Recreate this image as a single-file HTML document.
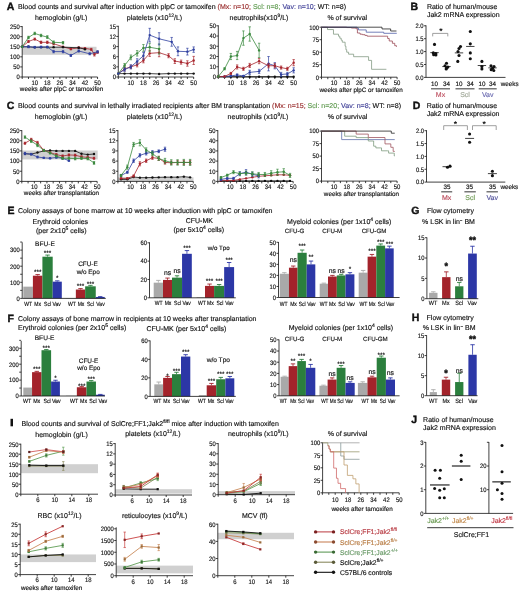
<!DOCTYPE html>
<html><head><meta charset="utf-8"><style>
html,body{margin:0;padding:0;background:#fff;width:520px;height:593px;overflow:hidden}
svg{display:block;filter:blur(0.3px);font-family:"Liberation Sans",sans-serif}
text{stroke-width:0.15px;text-rendering:geometricPrecision}
</style></head><body>
<svg width="520" height="593" viewBox="0 0 520 593">
<rect width="520" height="593" fill="#fff"/>
<text x="6.8" y="10.3" font-size="10.5" fill="#111" stroke="#111" font-weight="bold" style="stroke-width:0.4px">A</text>
<text x="18" y="9.3" font-size="7" fill="#111" stroke="#111" textLength="328" lengthAdjust="spacingAndGlyphs">Blood counts and survival after induction with plpC or tamoxifen <tspan fill="#9a2e2e" stroke="#9a2e2e">(Mx: n=10;</tspan> <tspan fill="#5f9a4f" stroke="#5f9a4f">Scl: n=8;</tspan> <tspan fill="#3e3e96" stroke="#3e3e96">Vav: n=10;</tspan> WT: n=8)</text>
<text x="61.2" y="20.3" font-size="7" fill="#111" stroke="#111" text-anchor="middle">hemoglobin (g/L)</text>
<rect x="22.20" y="46.76" width="74.30" height="8.06" fill="#d0d0d0"/>
<line x1="22.20" y1="26.10" x2="22.20" y2="77.00" stroke="#111" stroke-width="0.8"/>
<line x1="20.20" y1="77.00" x2="22.20" y2="77.00" stroke="#111" stroke-width="0.8"/>
<text x="0" y="0" font-size="6.5" fill="#111" stroke="#111" text-anchor="end" transform="translate(19.80,79.30) scale(0.9,1)">0</text>
<line x1="20.20" y1="66.92" x2="22.20" y2="66.92" stroke="#111" stroke-width="0.8"/>
<text x="0" y="0" font-size="6.5" fill="#111" stroke="#111" text-anchor="end" transform="translate(19.80,69.22) scale(0.9,1)">50</text>
<line x1="20.20" y1="56.84" x2="22.20" y2="56.84" stroke="#111" stroke-width="0.8"/>
<text x="0" y="0" font-size="6.5" fill="#111" stroke="#111" text-anchor="end" transform="translate(19.80,59.14) scale(0.9,1)">100</text>
<line x1="20.20" y1="46.76" x2="22.20" y2="46.76" stroke="#111" stroke-width="0.8"/>
<text x="0" y="0" font-size="6.5" fill="#111" stroke="#111" text-anchor="end" transform="translate(19.80,49.06) scale(0.9,1)">150</text>
<line x1="20.20" y1="36.68" x2="22.20" y2="36.68" stroke="#111" stroke-width="0.8"/>
<text x="0" y="0" font-size="6.5" fill="#111" stroke="#111" text-anchor="end" transform="translate(19.80,38.98) scale(0.9,1)">200</text>
<line x1="20.20" y1="26.60" x2="22.20" y2="26.60" stroke="#111" stroke-width="0.8"/>
<text x="0" y="0" font-size="6.5" fill="#111" stroke="#111" text-anchor="end" transform="translate(19.80,28.90) scale(0.9,1)">250</text>
<line x1="22.20" y1="77.00" x2="97.56" y2="77.00" stroke="#111" stroke-width="0.8"/>
<line x1="22.20" y1="77.00" x2="22.20" y2="79.00" stroke="#111" stroke-width="0.8"/>
<line x1="28.48" y1="77.00" x2="28.48" y2="79.00" stroke="#111" stroke-width="0.8"/>
<line x1="34.76" y1="77.00" x2="34.76" y2="79.00" stroke="#111" stroke-width="0.8"/>
<line x1="41.04" y1="77.00" x2="41.04" y2="79.00" stroke="#111" stroke-width="0.8"/>
<line x1="47.32" y1="77.00" x2="47.32" y2="79.00" stroke="#111" stroke-width="0.8"/>
<line x1="53.60" y1="77.00" x2="53.60" y2="79.00" stroke="#111" stroke-width="0.8"/>
<line x1="59.88" y1="77.00" x2="59.88" y2="79.00" stroke="#111" stroke-width="0.8"/>
<line x1="66.16" y1="77.00" x2="66.16" y2="79.00" stroke="#111" stroke-width="0.8"/>
<line x1="72.44" y1="77.00" x2="72.44" y2="79.00" stroke="#111" stroke-width="0.8"/>
<line x1="78.72" y1="77.00" x2="78.72" y2="79.00" stroke="#111" stroke-width="0.8"/>
<line x1="85.00" y1="77.00" x2="85.00" y2="79.00" stroke="#111" stroke-width="0.8"/>
<line x1="91.28" y1="77.00" x2="91.28" y2="79.00" stroke="#111" stroke-width="0.8"/>
<line x1="97.56" y1="77.00" x2="97.56" y2="79.00" stroke="#111" stroke-width="0.8"/>
<text x="0" y="0" font-size="6.6" fill="#111" stroke="#111" text-anchor="middle" transform="translate(34.76,85.00) scale(0.9,1)">10</text>
<text x="0" y="0" font-size="6.6" fill="#111" stroke="#111" text-anchor="middle" transform="translate(47.32,85.00) scale(0.9,1)">18</text>
<text x="0" y="0" font-size="6.6" fill="#111" stroke="#111" text-anchor="middle" transform="translate(59.88,85.00) scale(0.9,1)">26</text>
<text x="0" y="0" font-size="6.6" fill="#111" stroke="#111" text-anchor="middle" transform="translate(72.44,85.00) scale(0.9,1)">34</text>
<text x="0" y="0" font-size="6.6" fill="#111" stroke="#111" text-anchor="middle" transform="translate(85.00,85.00) scale(0.9,1)">42</text>
<text x="0" y="0" font-size="6.6" fill="#111" stroke="#111" text-anchor="middle" transform="translate(97.56,85.00) scale(0.9,1)">50</text>
<text x="61.5" y="91.4" font-size="6.3" fill="#111" stroke="#111" text-anchor="middle">weeks after plpC or tamoxifen</text>
<path d="M22.20,46.76 L28.48,41.52 L34.76,39.10 L41.04,42.32 L47.32,42.32 L53.60,43.74 L63.02,46.76 L70.87,48.98 L78.72,47.77 L85.00,48.37 L91.28,49.38 L94.42,54.42 L97.56,52.20" stroke="#a8252d" stroke-width="0.8" fill="none"/>
<line x1="28.48" y1="42.53" x2="28.48" y2="40.51" stroke="#a8252d" stroke-width="0.7"/>
<line x1="27.28" y1="40.51" x2="29.68" y2="40.51" stroke="#a8252d" stroke-width="0.7"/>
<line x1="27.28" y1="42.53" x2="29.68" y2="42.53" stroke="#a8252d" stroke-width="0.7"/>
<line x1="34.76" y1="40.11" x2="34.76" y2="38.09" stroke="#a8252d" stroke-width="0.7"/>
<line x1="33.56" y1="38.09" x2="35.96" y2="38.09" stroke="#a8252d" stroke-width="0.7"/>
<line x1="33.56" y1="40.11" x2="35.96" y2="40.11" stroke="#a8252d" stroke-width="0.7"/>
<line x1="41.04" y1="43.53" x2="41.04" y2="41.12" stroke="#a8252d" stroke-width="0.7"/>
<line x1="39.84" y1="41.12" x2="42.24" y2="41.12" stroke="#a8252d" stroke-width="0.7"/>
<line x1="39.84" y1="43.53" x2="42.24" y2="43.53" stroke="#a8252d" stroke-width="0.7"/>
<line x1="47.32" y1="43.53" x2="47.32" y2="41.12" stroke="#a8252d" stroke-width="0.7"/>
<line x1="46.12" y1="41.12" x2="48.52" y2="41.12" stroke="#a8252d" stroke-width="0.7"/>
<line x1="46.12" y1="43.53" x2="48.52" y2="43.53" stroke="#a8252d" stroke-width="0.7"/>
<line x1="53.60" y1="44.95" x2="53.60" y2="42.53" stroke="#a8252d" stroke-width="0.7"/>
<line x1="52.40" y1="42.53" x2="54.80" y2="42.53" stroke="#a8252d" stroke-width="0.7"/>
<line x1="52.40" y1="44.95" x2="54.80" y2="44.95" stroke="#a8252d" stroke-width="0.7"/>
<line x1="70.87" y1="49.78" x2="70.87" y2="48.17" stroke="#a8252d" stroke-width="0.7"/>
<line x1="69.67" y1="48.17" x2="72.07" y2="48.17" stroke="#a8252d" stroke-width="0.7"/>
<line x1="69.67" y1="49.78" x2="72.07" y2="49.78" stroke="#a8252d" stroke-width="0.7"/>
<line x1="78.72" y1="48.57" x2="78.72" y2="46.96" stroke="#a8252d" stroke-width="0.7"/>
<line x1="77.52" y1="46.96" x2="79.92" y2="46.96" stroke="#a8252d" stroke-width="0.7"/>
<line x1="77.52" y1="48.57" x2="79.92" y2="48.57" stroke="#a8252d" stroke-width="0.7"/>
<line x1="85.00" y1="49.18" x2="85.00" y2="47.57" stroke="#a8252d" stroke-width="0.7"/>
<line x1="83.80" y1="47.57" x2="86.20" y2="47.57" stroke="#a8252d" stroke-width="0.7"/>
<line x1="83.80" y1="49.18" x2="86.20" y2="49.18" stroke="#a8252d" stroke-width="0.7"/>
<line x1="91.28" y1="50.39" x2="91.28" y2="48.37" stroke="#a8252d" stroke-width="0.7"/>
<line x1="90.08" y1="48.37" x2="92.48" y2="48.37" stroke="#a8252d" stroke-width="0.7"/>
<line x1="90.08" y1="50.39" x2="92.48" y2="50.39" stroke="#a8252d" stroke-width="0.7"/>
<line x1="94.42" y1="56.03" x2="94.42" y2="52.81" stroke="#a8252d" stroke-width="0.7"/>
<line x1="93.22" y1="52.81" x2="95.62" y2="52.81" stroke="#a8252d" stroke-width="0.7"/>
<line x1="93.22" y1="56.03" x2="95.62" y2="56.03" stroke="#a8252d" stroke-width="0.7"/>
<line x1="97.56" y1="53.21" x2="97.56" y2="51.20" stroke="#a8252d" stroke-width="0.7"/>
<line x1="96.36" y1="51.20" x2="98.76" y2="51.20" stroke="#a8252d" stroke-width="0.7"/>
<line x1="96.36" y1="53.21" x2="98.76" y2="53.21" stroke="#a8252d" stroke-width="0.7"/>
<circle cx="22.20" cy="46.76" r="1.2" fill="#a8252d"/>
<circle cx="28.48" cy="41.52" r="1.2" fill="#a8252d"/>
<circle cx="34.76" cy="39.10" r="1.2" fill="#a8252d"/>
<circle cx="41.04" cy="42.32" r="1.2" fill="#a8252d"/>
<circle cx="47.32" cy="42.32" r="1.2" fill="#a8252d"/>
<circle cx="53.60" cy="43.74" r="1.2" fill="#a8252d"/>
<circle cx="63.02" cy="46.76" r="1.2" fill="#a8252d"/>
<circle cx="70.87" cy="48.98" r="1.2" fill="#a8252d"/>
<circle cx="78.72" cy="47.77" r="1.2" fill="#a8252d"/>
<circle cx="85.00" cy="48.37" r="1.2" fill="#a8252d"/>
<circle cx="91.28" cy="49.38" r="1.2" fill="#a8252d"/>
<circle cx="94.42" cy="54.42" r="1.2" fill="#a8252d"/>
<circle cx="97.56" cy="52.20" r="1.2" fill="#a8252d"/>
<path d="M22.20,46.76 L28.48,46.76 L34.76,47.36 L41.04,47.16 L47.32,47.16 L53.60,47.16 L63.02,47.16 L78.72,47.77 L85.00,49.18" stroke="#111" stroke-width="0.8" fill="none"/>
<circle cx="22.20" cy="46.76" r="1.2" fill="#111"/>
<circle cx="28.48" cy="46.76" r="1.2" fill="#111"/>
<circle cx="34.76" cy="47.36" r="1.2" fill="#111"/>
<circle cx="41.04" cy="47.16" r="1.2" fill="#111"/>
<circle cx="47.32" cy="47.16" r="1.2" fill="#111"/>
<circle cx="53.60" cy="47.16" r="1.2" fill="#111"/>
<circle cx="63.02" cy="47.16" r="1.2" fill="#111"/>
<circle cx="78.72" cy="47.77" r="1.2" fill="#111"/>
<circle cx="85.00" cy="49.18" r="1.2" fill="#111"/>
<path d="M22.20,46.76 L28.48,46.76 L34.76,47.16 L41.04,46.96 L47.32,46.96 L53.60,51.60 L63.02,51.60 L70.87,55.43 L78.72,50.99 L89.71,53.82 L97.56,51.80" stroke="#2f40a0" stroke-width="0.8" fill="none"/>
<line x1="28.48" y1="47.77" x2="28.48" y2="45.75" stroke="#2f40a0" stroke-width="0.7"/>
<line x1="27.28" y1="45.75" x2="29.68" y2="45.75" stroke="#2f40a0" stroke-width="0.7"/>
<line x1="27.28" y1="47.77" x2="29.68" y2="47.77" stroke="#2f40a0" stroke-width="0.7"/>
<line x1="34.76" y1="47.97" x2="34.76" y2="46.36" stroke="#2f40a0" stroke-width="0.7"/>
<line x1="33.56" y1="46.36" x2="35.96" y2="46.36" stroke="#2f40a0" stroke-width="0.7"/>
<line x1="33.56" y1="47.97" x2="35.96" y2="47.97" stroke="#2f40a0" stroke-width="0.7"/>
<line x1="41.04" y1="47.77" x2="41.04" y2="46.16" stroke="#2f40a0" stroke-width="0.7"/>
<line x1="39.84" y1="46.16" x2="42.24" y2="46.16" stroke="#2f40a0" stroke-width="0.7"/>
<line x1="39.84" y1="47.77" x2="42.24" y2="47.77" stroke="#2f40a0" stroke-width="0.7"/>
<line x1="47.32" y1="47.77" x2="47.32" y2="46.16" stroke="#2f40a0" stroke-width="0.7"/>
<line x1="46.12" y1="46.16" x2="48.52" y2="46.16" stroke="#2f40a0" stroke-width="0.7"/>
<line x1="46.12" y1="47.77" x2="48.52" y2="47.77" stroke="#2f40a0" stroke-width="0.7"/>
<line x1="53.60" y1="52.81" x2="53.60" y2="50.39" stroke="#2f40a0" stroke-width="0.7"/>
<line x1="52.40" y1="50.39" x2="54.80" y2="50.39" stroke="#2f40a0" stroke-width="0.7"/>
<line x1="52.40" y1="52.81" x2="54.80" y2="52.81" stroke="#2f40a0" stroke-width="0.7"/>
<line x1="63.02" y1="52.81" x2="63.02" y2="50.39" stroke="#2f40a0" stroke-width="0.7"/>
<line x1="61.82" y1="50.39" x2="64.22" y2="50.39" stroke="#2f40a0" stroke-width="0.7"/>
<line x1="61.82" y1="52.81" x2="64.22" y2="52.81" stroke="#2f40a0" stroke-width="0.7"/>
<line x1="70.87" y1="56.44" x2="70.87" y2="54.42" stroke="#2f40a0" stroke-width="0.7"/>
<line x1="69.67" y1="54.42" x2="72.07" y2="54.42" stroke="#2f40a0" stroke-width="0.7"/>
<line x1="69.67" y1="56.44" x2="72.07" y2="56.44" stroke="#2f40a0" stroke-width="0.7"/>
<line x1="78.72" y1="52.00" x2="78.72" y2="49.99" stroke="#2f40a0" stroke-width="0.7"/>
<line x1="77.52" y1="49.99" x2="79.92" y2="49.99" stroke="#2f40a0" stroke-width="0.7"/>
<line x1="77.52" y1="52.00" x2="79.92" y2="52.00" stroke="#2f40a0" stroke-width="0.7"/>
<line x1="89.71" y1="54.82" x2="89.71" y2="52.81" stroke="#2f40a0" stroke-width="0.7"/>
<line x1="88.51" y1="52.81" x2="90.91" y2="52.81" stroke="#2f40a0" stroke-width="0.7"/>
<line x1="88.51" y1="54.82" x2="90.91" y2="54.82" stroke="#2f40a0" stroke-width="0.7"/>
<line x1="97.56" y1="52.81" x2="97.56" y2="50.79" stroke="#2f40a0" stroke-width="0.7"/>
<line x1="96.36" y1="50.79" x2="98.76" y2="50.79" stroke="#2f40a0" stroke-width="0.7"/>
<line x1="96.36" y1="52.81" x2="98.76" y2="52.81" stroke="#2f40a0" stroke-width="0.7"/>
<circle cx="22.20" cy="46.76" r="1.2" fill="#2f40a0"/>
<circle cx="28.48" cy="46.76" r="1.2" fill="#2f40a0"/>
<circle cx="34.76" cy="47.16" r="1.2" fill="#2f40a0"/>
<circle cx="41.04" cy="46.96" r="1.2" fill="#2f40a0"/>
<circle cx="47.32" cy="46.96" r="1.2" fill="#2f40a0"/>
<circle cx="53.60" cy="51.60" r="1.2" fill="#2f40a0"/>
<circle cx="63.02" cy="51.60" r="1.2" fill="#2f40a0"/>
<circle cx="70.87" cy="55.43" r="1.2" fill="#2f40a0"/>
<circle cx="78.72" cy="50.99" r="1.2" fill="#2f40a0"/>
<circle cx="89.71" cy="53.82" r="1.2" fill="#2f40a0"/>
<circle cx="97.56" cy="51.80" r="1.2" fill="#2f40a0"/>
<path d="M22.20,46.76 L28.48,37.49 L34.76,33.45 L41.04,35.47 L47.32,37.08 L53.60,42.32 L63.02,42.73" stroke="#3b8a3f" stroke-width="0.8" fill="none"/>
<line x1="28.48" y1="38.70" x2="28.48" y2="36.28" stroke="#3b8a3f" stroke-width="0.7"/>
<line x1="27.28" y1="36.28" x2="29.68" y2="36.28" stroke="#3b8a3f" stroke-width="0.7"/>
<line x1="27.28" y1="38.70" x2="29.68" y2="38.70" stroke="#3b8a3f" stroke-width="0.7"/>
<line x1="34.76" y1="34.66" x2="34.76" y2="32.24" stroke="#3b8a3f" stroke-width="0.7"/>
<line x1="33.56" y1="32.24" x2="35.96" y2="32.24" stroke="#3b8a3f" stroke-width="0.7"/>
<line x1="33.56" y1="34.66" x2="35.96" y2="34.66" stroke="#3b8a3f" stroke-width="0.7"/>
<line x1="41.04" y1="36.68" x2="41.04" y2="34.26" stroke="#3b8a3f" stroke-width="0.7"/>
<line x1="39.84" y1="34.26" x2="42.24" y2="34.26" stroke="#3b8a3f" stroke-width="0.7"/>
<line x1="39.84" y1="36.68" x2="42.24" y2="36.68" stroke="#3b8a3f" stroke-width="0.7"/>
<line x1="47.32" y1="38.49" x2="47.32" y2="35.67" stroke="#3b8a3f" stroke-width="0.7"/>
<line x1="46.12" y1="35.67" x2="48.52" y2="35.67" stroke="#3b8a3f" stroke-width="0.7"/>
<line x1="46.12" y1="38.49" x2="48.52" y2="38.49" stroke="#3b8a3f" stroke-width="0.7"/>
<line x1="53.60" y1="43.74" x2="53.60" y2="40.91" stroke="#3b8a3f" stroke-width="0.7"/>
<line x1="52.40" y1="40.91" x2="54.80" y2="40.91" stroke="#3b8a3f" stroke-width="0.7"/>
<line x1="52.40" y1="43.74" x2="54.80" y2="43.74" stroke="#3b8a3f" stroke-width="0.7"/>
<line x1="63.02" y1="43.94" x2="63.02" y2="41.52" stroke="#3b8a3f" stroke-width="0.7"/>
<line x1="61.82" y1="41.52" x2="64.22" y2="41.52" stroke="#3b8a3f" stroke-width="0.7"/>
<line x1="61.82" y1="43.94" x2="64.22" y2="43.94" stroke="#3b8a3f" stroke-width="0.7"/>
<circle cx="22.20" cy="46.76" r="1.2" fill="#3b8a3f"/>
<circle cx="28.48" cy="37.49" r="1.2" fill="#3b8a3f"/>
<circle cx="34.76" cy="33.45" r="1.2" fill="#3b8a3f"/>
<circle cx="41.04" cy="35.47" r="1.2" fill="#3b8a3f"/>
<circle cx="47.32" cy="37.08" r="1.2" fill="#3b8a3f"/>
<circle cx="53.60" cy="42.32" r="1.2" fill="#3b8a3f"/>
<circle cx="63.02" cy="42.73" r="1.2" fill="#3b8a3f"/>
<text x="154.5" y="20.3" font-size="7" fill="#111" stroke="#111" text-anchor="middle">platelets (x10<tspan baseline-shift="2.8" font-size="5.0">12</tspan>/L)</text>
<line x1="118.30" y1="25.80" x2="118.30" y2="77.00" stroke="#111" stroke-width="0.8"/>
<line x1="116.30" y1="77.00" x2="118.30" y2="77.00" stroke="#111" stroke-width="0.8"/>
<text x="0" y="0" font-size="6.5" fill="#111" stroke="#111" text-anchor="end" transform="translate(115.90,79.30) scale(0.9,1)">0</text>
<line x1="116.30" y1="66.86" x2="118.30" y2="66.86" stroke="#111" stroke-width="0.8"/>
<text x="0" y="0" font-size="6.5" fill="#111" stroke="#111" text-anchor="end" transform="translate(115.90,69.16) scale(0.9,1)">3</text>
<line x1="116.30" y1="56.72" x2="118.30" y2="56.72" stroke="#111" stroke-width="0.8"/>
<text x="0" y="0" font-size="6.5" fill="#111" stroke="#111" text-anchor="end" transform="translate(115.90,59.02) scale(0.9,1)">6</text>
<line x1="116.30" y1="46.58" x2="118.30" y2="46.58" stroke="#111" stroke-width="0.8"/>
<text x="0" y="0" font-size="6.5" fill="#111" stroke="#111" text-anchor="end" transform="translate(115.90,48.88) scale(0.9,1)">9</text>
<line x1="116.30" y1="36.44" x2="118.30" y2="36.44" stroke="#111" stroke-width="0.8"/>
<text x="0" y="0" font-size="6.5" fill="#111" stroke="#111" text-anchor="end" transform="translate(115.90,38.74) scale(0.9,1)">12</text>
<line x1="116.30" y1="26.30" x2="118.30" y2="26.30" stroke="#111" stroke-width="0.8"/>
<text x="0" y="0" font-size="6.5" fill="#111" stroke="#111" text-anchor="end" transform="translate(115.90,28.60) scale(0.9,1)">15</text>
<line x1="118.30" y1="77.00" x2="193.66" y2="77.00" stroke="#111" stroke-width="0.8"/>
<line x1="118.30" y1="77.00" x2="118.30" y2="79.00" stroke="#111" stroke-width="0.8"/>
<line x1="124.58" y1="77.00" x2="124.58" y2="79.00" stroke="#111" stroke-width="0.8"/>
<line x1="130.86" y1="77.00" x2="130.86" y2="79.00" stroke="#111" stroke-width="0.8"/>
<line x1="137.14" y1="77.00" x2="137.14" y2="79.00" stroke="#111" stroke-width="0.8"/>
<line x1="143.42" y1="77.00" x2="143.42" y2="79.00" stroke="#111" stroke-width="0.8"/>
<line x1="149.70" y1="77.00" x2="149.70" y2="79.00" stroke="#111" stroke-width="0.8"/>
<line x1="155.98" y1="77.00" x2="155.98" y2="79.00" stroke="#111" stroke-width="0.8"/>
<line x1="162.26" y1="77.00" x2="162.26" y2="79.00" stroke="#111" stroke-width="0.8"/>
<line x1="168.54" y1="77.00" x2="168.54" y2="79.00" stroke="#111" stroke-width="0.8"/>
<line x1="174.82" y1="77.00" x2="174.82" y2="79.00" stroke="#111" stroke-width="0.8"/>
<line x1="181.10" y1="77.00" x2="181.10" y2="79.00" stroke="#111" stroke-width="0.8"/>
<line x1="187.38" y1="77.00" x2="187.38" y2="79.00" stroke="#111" stroke-width="0.8"/>
<line x1="193.66" y1="77.00" x2="193.66" y2="79.00" stroke="#111" stroke-width="0.8"/>
<text x="0" y="0" font-size="6.6" fill="#111" stroke="#111" text-anchor="middle" transform="translate(130.86,85.00) scale(0.9,1)">10</text>
<text x="0" y="0" font-size="6.6" fill="#111" stroke="#111" text-anchor="middle" transform="translate(143.42,85.00) scale(0.9,1)">18</text>
<text x="0" y="0" font-size="6.6" fill="#111" stroke="#111" text-anchor="middle" transform="translate(155.98,85.00) scale(0.9,1)">26</text>
<text x="0" y="0" font-size="6.6" fill="#111" stroke="#111" text-anchor="middle" transform="translate(168.54,85.00) scale(0.9,1)">34</text>
<text x="0" y="0" font-size="6.6" fill="#111" stroke="#111" text-anchor="middle" transform="translate(181.10,85.00) scale(0.9,1)">42</text>
<text x="0" y="0" font-size="6.6" fill="#111" stroke="#111" text-anchor="middle" transform="translate(193.66,85.00) scale(0.9,1)">50</text>
<path d="M118.30,73.62 L124.58,73.62 L130.86,73.62 L137.14,73.62 L143.42,73.62 L149.70,73.62 L159.12,73.96 L168.54,73.62 L174.82,73.62 L181.10,73.62 L187.38,73.62 L193.66,73.62" stroke="#111" stroke-width="0.8" fill="none"/>
<circle cx="118.30" cy="73.62" r="1.2" fill="#111"/>
<circle cx="124.58" cy="73.62" r="1.2" fill="#111"/>
<circle cx="130.86" cy="73.62" r="1.2" fill="#111"/>
<circle cx="137.14" cy="73.62" r="1.2" fill="#111"/>
<circle cx="143.42" cy="73.62" r="1.2" fill="#111"/>
<circle cx="149.70" cy="73.62" r="1.2" fill="#111"/>
<circle cx="159.12" cy="73.96" r="1.2" fill="#111"/>
<circle cx="168.54" cy="73.62" r="1.2" fill="#111"/>
<circle cx="174.82" cy="73.62" r="1.2" fill="#111"/>
<circle cx="181.10" cy="73.62" r="1.2" fill="#111"/>
<circle cx="187.38" cy="73.62" r="1.2" fill="#111"/>
<circle cx="193.66" cy="73.62" r="1.2" fill="#111"/>
<path d="M118.30,73.62 L124.58,68.89 L130.86,66.86 L137.14,64.83 L143.42,60.44 L149.70,53.34 L159.12,52.66 L168.54,55.71 L174.82,61.11 L181.10,62.13 L187.38,63.48 L193.66,60.44" stroke="#a8252d" stroke-width="0.8" fill="none"/>
<line x1="124.58" y1="70.92" x2="124.58" y2="66.86" stroke="#a8252d" stroke-width="0.7"/>
<line x1="123.38" y1="66.86" x2="125.78" y2="66.86" stroke="#a8252d" stroke-width="0.7"/>
<line x1="123.38" y1="70.92" x2="125.78" y2="70.92" stroke="#a8252d" stroke-width="0.7"/>
<line x1="130.86" y1="68.55" x2="130.86" y2="65.17" stroke="#a8252d" stroke-width="0.7"/>
<line x1="129.66" y1="65.17" x2="132.06" y2="65.17" stroke="#a8252d" stroke-width="0.7"/>
<line x1="129.66" y1="68.55" x2="132.06" y2="68.55" stroke="#a8252d" stroke-width="0.7"/>
<line x1="137.14" y1="66.86" x2="137.14" y2="62.80" stroke="#a8252d" stroke-width="0.7"/>
<line x1="135.94" y1="62.80" x2="138.34" y2="62.80" stroke="#a8252d" stroke-width="0.7"/>
<line x1="135.94" y1="66.86" x2="138.34" y2="66.86" stroke="#a8252d" stroke-width="0.7"/>
<line x1="143.42" y1="62.80" x2="143.42" y2="58.07" stroke="#a8252d" stroke-width="0.7"/>
<line x1="142.22" y1="58.07" x2="144.62" y2="58.07" stroke="#a8252d" stroke-width="0.7"/>
<line x1="142.22" y1="62.80" x2="144.62" y2="62.80" stroke="#a8252d" stroke-width="0.7"/>
<line x1="149.70" y1="56.38" x2="149.70" y2="50.30" stroke="#a8252d" stroke-width="0.7"/>
<line x1="148.50" y1="50.30" x2="150.90" y2="50.30" stroke="#a8252d" stroke-width="0.7"/>
<line x1="148.50" y1="56.38" x2="150.90" y2="56.38" stroke="#a8252d" stroke-width="0.7"/>
<line x1="159.12" y1="56.72" x2="159.12" y2="48.61" stroke="#a8252d" stroke-width="0.7"/>
<line x1="157.92" y1="48.61" x2="160.32" y2="48.61" stroke="#a8252d" stroke-width="0.7"/>
<line x1="157.92" y1="56.72" x2="160.32" y2="56.72" stroke="#a8252d" stroke-width="0.7"/>
<line x1="168.54" y1="57.73" x2="168.54" y2="53.68" stroke="#a8252d" stroke-width="0.7"/>
<line x1="167.34" y1="53.68" x2="169.74" y2="53.68" stroke="#a8252d" stroke-width="0.7"/>
<line x1="167.34" y1="57.73" x2="169.74" y2="57.73" stroke="#a8252d" stroke-width="0.7"/>
<line x1="174.82" y1="63.48" x2="174.82" y2="58.75" stroke="#a8252d" stroke-width="0.7"/>
<line x1="173.62" y1="58.75" x2="176.02" y2="58.75" stroke="#a8252d" stroke-width="0.7"/>
<line x1="173.62" y1="63.48" x2="176.02" y2="63.48" stroke="#a8252d" stroke-width="0.7"/>
<line x1="181.10" y1="64.16" x2="181.10" y2="60.10" stroke="#a8252d" stroke-width="0.7"/>
<line x1="179.90" y1="60.10" x2="182.30" y2="60.10" stroke="#a8252d" stroke-width="0.7"/>
<line x1="179.90" y1="64.16" x2="182.30" y2="64.16" stroke="#a8252d" stroke-width="0.7"/>
<line x1="187.38" y1="66.18" x2="187.38" y2="60.78" stroke="#a8252d" stroke-width="0.7"/>
<line x1="186.18" y1="60.78" x2="188.58" y2="60.78" stroke="#a8252d" stroke-width="0.7"/>
<line x1="186.18" y1="66.18" x2="188.58" y2="66.18" stroke="#a8252d" stroke-width="0.7"/>
<line x1="193.66" y1="64.49" x2="193.66" y2="56.38" stroke="#a8252d" stroke-width="0.7"/>
<line x1="192.46" y1="56.38" x2="194.86" y2="56.38" stroke="#a8252d" stroke-width="0.7"/>
<line x1="192.46" y1="64.49" x2="194.86" y2="64.49" stroke="#a8252d" stroke-width="0.7"/>
<circle cx="118.30" cy="73.62" r="1.2" fill="#a8252d"/>
<circle cx="124.58" cy="68.89" r="1.2" fill="#a8252d"/>
<circle cx="130.86" cy="66.86" r="1.2" fill="#a8252d"/>
<circle cx="137.14" cy="64.83" r="1.2" fill="#a8252d"/>
<circle cx="143.42" cy="60.44" r="1.2" fill="#a8252d"/>
<circle cx="149.70" cy="53.34" r="1.2" fill="#a8252d"/>
<circle cx="159.12" cy="52.66" r="1.2" fill="#a8252d"/>
<circle cx="168.54" cy="55.71" r="1.2" fill="#a8252d"/>
<circle cx="174.82" cy="61.11" r="1.2" fill="#a8252d"/>
<circle cx="181.10" cy="62.13" r="1.2" fill="#a8252d"/>
<circle cx="187.38" cy="63.48" r="1.2" fill="#a8252d"/>
<circle cx="193.66" cy="60.44" r="1.2" fill="#a8252d"/>
<path d="M118.30,73.62 L124.58,65.51 L130.86,57.40 L137.14,53.34 L143.42,47.93 L149.70,47.26 L159.12,48.95" stroke="#3b8a3f" stroke-width="0.8" fill="none"/>
<line x1="124.58" y1="67.54" x2="124.58" y2="63.48" stroke="#3b8a3f" stroke-width="0.7"/>
<line x1="123.38" y1="63.48" x2="125.78" y2="63.48" stroke="#3b8a3f" stroke-width="0.7"/>
<line x1="123.38" y1="67.54" x2="125.78" y2="67.54" stroke="#3b8a3f" stroke-width="0.7"/>
<line x1="130.86" y1="59.76" x2="130.86" y2="55.03" stroke="#3b8a3f" stroke-width="0.7"/>
<line x1="129.66" y1="55.03" x2="132.06" y2="55.03" stroke="#3b8a3f" stroke-width="0.7"/>
<line x1="129.66" y1="59.76" x2="132.06" y2="59.76" stroke="#3b8a3f" stroke-width="0.7"/>
<line x1="137.14" y1="56.04" x2="137.14" y2="50.64" stroke="#3b8a3f" stroke-width="0.7"/>
<line x1="135.94" y1="50.64" x2="138.34" y2="50.64" stroke="#3b8a3f" stroke-width="0.7"/>
<line x1="135.94" y1="56.04" x2="138.34" y2="56.04" stroke="#3b8a3f" stroke-width="0.7"/>
<line x1="143.42" y1="51.31" x2="143.42" y2="44.55" stroke="#3b8a3f" stroke-width="0.7"/>
<line x1="142.22" y1="44.55" x2="144.62" y2="44.55" stroke="#3b8a3f" stroke-width="0.7"/>
<line x1="142.22" y1="51.31" x2="144.62" y2="51.31" stroke="#3b8a3f" stroke-width="0.7"/>
<line x1="149.70" y1="51.31" x2="149.70" y2="43.20" stroke="#3b8a3f" stroke-width="0.7"/>
<line x1="148.50" y1="43.20" x2="150.90" y2="43.20" stroke="#3b8a3f" stroke-width="0.7"/>
<line x1="148.50" y1="51.31" x2="150.90" y2="51.31" stroke="#3b8a3f" stroke-width="0.7"/>
<line x1="159.12" y1="54.02" x2="159.12" y2="43.88" stroke="#3b8a3f" stroke-width="0.7"/>
<line x1="157.92" y1="43.88" x2="160.32" y2="43.88" stroke="#3b8a3f" stroke-width="0.7"/>
<line x1="157.92" y1="54.02" x2="160.32" y2="54.02" stroke="#3b8a3f" stroke-width="0.7"/>
<circle cx="118.30" cy="73.62" r="1.2" fill="#3b8a3f"/>
<circle cx="124.58" cy="65.51" r="1.2" fill="#3b8a3f"/>
<circle cx="130.86" cy="57.40" r="1.2" fill="#3b8a3f"/>
<circle cx="137.14" cy="53.34" r="1.2" fill="#3b8a3f"/>
<circle cx="143.42" cy="47.93" r="1.2" fill="#3b8a3f"/>
<circle cx="149.70" cy="47.26" r="1.2" fill="#3b8a3f"/>
<circle cx="159.12" cy="48.95" r="1.2" fill="#3b8a3f"/>
<path d="M118.30,73.62 L124.58,69.56 L130.86,66.86 L137.14,61.45 L143.42,55.71 L149.70,35.09 L159.12,38.81 L171.68,41.85 L177.96,51.31 L187.38,51.65 L193.66,49.62" stroke="#2f40a0" stroke-width="0.8" fill="none"/>
<line x1="124.58" y1="71.25" x2="124.58" y2="67.87" stroke="#2f40a0" stroke-width="0.7"/>
<line x1="123.38" y1="67.87" x2="125.78" y2="67.87" stroke="#2f40a0" stroke-width="0.7"/>
<line x1="123.38" y1="71.25" x2="125.78" y2="71.25" stroke="#2f40a0" stroke-width="0.7"/>
<line x1="130.86" y1="68.89" x2="130.86" y2="64.83" stroke="#2f40a0" stroke-width="0.7"/>
<line x1="129.66" y1="64.83" x2="132.06" y2="64.83" stroke="#2f40a0" stroke-width="0.7"/>
<line x1="129.66" y1="68.89" x2="132.06" y2="68.89" stroke="#2f40a0" stroke-width="0.7"/>
<line x1="137.14" y1="64.16" x2="137.14" y2="58.75" stroke="#2f40a0" stroke-width="0.7"/>
<line x1="135.94" y1="58.75" x2="138.34" y2="58.75" stroke="#2f40a0" stroke-width="0.7"/>
<line x1="135.94" y1="64.16" x2="138.34" y2="64.16" stroke="#2f40a0" stroke-width="0.7"/>
<line x1="143.42" y1="59.09" x2="143.42" y2="52.33" stroke="#2f40a0" stroke-width="0.7"/>
<line x1="142.22" y1="52.33" x2="144.62" y2="52.33" stroke="#2f40a0" stroke-width="0.7"/>
<line x1="142.22" y1="59.09" x2="144.62" y2="59.09" stroke="#2f40a0" stroke-width="0.7"/>
<line x1="149.70" y1="41.85" x2="149.70" y2="28.33" stroke="#2f40a0" stroke-width="0.7"/>
<line x1="148.50" y1="28.33" x2="150.90" y2="28.33" stroke="#2f40a0" stroke-width="0.7"/>
<line x1="148.50" y1="41.85" x2="150.90" y2="41.85" stroke="#2f40a0" stroke-width="0.7"/>
<line x1="159.12" y1="44.89" x2="159.12" y2="32.72" stroke="#2f40a0" stroke-width="0.7"/>
<line x1="157.92" y1="32.72" x2="160.32" y2="32.72" stroke="#2f40a0" stroke-width="0.7"/>
<line x1="157.92" y1="44.89" x2="160.32" y2="44.89" stroke="#2f40a0" stroke-width="0.7"/>
<line x1="171.68" y1="46.24" x2="171.68" y2="37.45" stroke="#2f40a0" stroke-width="0.7"/>
<line x1="170.48" y1="37.45" x2="172.88" y2="37.45" stroke="#2f40a0" stroke-width="0.7"/>
<line x1="170.48" y1="46.24" x2="172.88" y2="46.24" stroke="#2f40a0" stroke-width="0.7"/>
<line x1="177.96" y1="55.71" x2="177.96" y2="46.92" stroke="#2f40a0" stroke-width="0.7"/>
<line x1="176.76" y1="46.92" x2="179.16" y2="46.92" stroke="#2f40a0" stroke-width="0.7"/>
<line x1="176.76" y1="55.71" x2="179.16" y2="55.71" stroke="#2f40a0" stroke-width="0.7"/>
<line x1="187.38" y1="55.03" x2="187.38" y2="48.27" stroke="#2f40a0" stroke-width="0.7"/>
<line x1="186.18" y1="48.27" x2="188.58" y2="48.27" stroke="#2f40a0" stroke-width="0.7"/>
<line x1="186.18" y1="55.03" x2="188.58" y2="55.03" stroke="#2f40a0" stroke-width="0.7"/>
<line x1="193.66" y1="52.33" x2="193.66" y2="46.92" stroke="#2f40a0" stroke-width="0.7"/>
<line x1="192.46" y1="46.92" x2="194.86" y2="46.92" stroke="#2f40a0" stroke-width="0.7"/>
<line x1="192.46" y1="52.33" x2="194.86" y2="52.33" stroke="#2f40a0" stroke-width="0.7"/>
<circle cx="118.30" cy="73.62" r="1.2" fill="#2f40a0"/>
<circle cx="124.58" cy="69.56" r="1.2" fill="#2f40a0"/>
<circle cx="130.86" cy="66.86" r="1.2" fill="#2f40a0"/>
<circle cx="137.14" cy="61.45" r="1.2" fill="#2f40a0"/>
<circle cx="143.42" cy="55.71" r="1.2" fill="#2f40a0"/>
<circle cx="149.70" cy="35.09" r="1.2" fill="#2f40a0"/>
<circle cx="159.12" cy="38.81" r="1.2" fill="#2f40a0"/>
<circle cx="171.68" cy="41.85" r="1.2" fill="#2f40a0"/>
<circle cx="177.96" cy="51.31" r="1.2" fill="#2f40a0"/>
<circle cx="187.38" cy="51.65" r="1.2" fill="#2f40a0"/>
<circle cx="193.66" cy="49.62" r="1.2" fill="#2f40a0"/>
<text x="259.0" y="20.3" font-size="7" fill="#111" stroke="#111" text-anchor="middle">neutrophils(x10<tspan baseline-shift="2.8" font-size="5.0">9</tspan>/L)</text>
<line x1="218.30" y1="25.30" x2="218.30" y2="77.00" stroke="#111" stroke-width="0.8"/>
<line x1="216.30" y1="77.00" x2="218.30" y2="77.00" stroke="#111" stroke-width="0.8"/>
<text x="0" y="0" font-size="6.5" fill="#111" stroke="#111" text-anchor="end" transform="translate(215.90,79.30) scale(0.9,1)">0</text>
<line x1="216.30" y1="66.76" x2="218.30" y2="66.76" stroke="#111" stroke-width="0.8"/>
<text x="0" y="0" font-size="6.5" fill="#111" stroke="#111" text-anchor="end" transform="translate(215.90,69.06) scale(0.9,1)">10</text>
<line x1="216.30" y1="56.52" x2="218.30" y2="56.52" stroke="#111" stroke-width="0.8"/>
<text x="0" y="0" font-size="6.5" fill="#111" stroke="#111" text-anchor="end" transform="translate(215.90,58.82) scale(0.9,1)">20</text>
<line x1="216.30" y1="46.28" x2="218.30" y2="46.28" stroke="#111" stroke-width="0.8"/>
<text x="0" y="0" font-size="6.5" fill="#111" stroke="#111" text-anchor="end" transform="translate(215.90,48.58) scale(0.9,1)">30</text>
<line x1="216.30" y1="36.04" x2="218.30" y2="36.04" stroke="#111" stroke-width="0.8"/>
<text x="0" y="0" font-size="6.5" fill="#111" stroke="#111" text-anchor="end" transform="translate(215.90,38.34) scale(0.9,1)">40</text>
<line x1="216.30" y1="25.80" x2="218.30" y2="25.80" stroke="#111" stroke-width="0.8"/>
<text x="0" y="0" font-size="6.5" fill="#111" stroke="#111" text-anchor="end" transform="translate(215.90,28.10) scale(0.9,1)">50</text>
<line x1="218.30" y1="77.00" x2="293.66" y2="77.00" stroke="#111" stroke-width="0.8"/>
<line x1="218.30" y1="77.00" x2="218.30" y2="79.00" stroke="#111" stroke-width="0.8"/>
<line x1="224.58" y1="77.00" x2="224.58" y2="79.00" stroke="#111" stroke-width="0.8"/>
<line x1="230.86" y1="77.00" x2="230.86" y2="79.00" stroke="#111" stroke-width="0.8"/>
<line x1="237.14" y1="77.00" x2="237.14" y2="79.00" stroke="#111" stroke-width="0.8"/>
<line x1="243.42" y1="77.00" x2="243.42" y2="79.00" stroke="#111" stroke-width="0.8"/>
<line x1="249.70" y1="77.00" x2="249.70" y2="79.00" stroke="#111" stroke-width="0.8"/>
<line x1="255.98" y1="77.00" x2="255.98" y2="79.00" stroke="#111" stroke-width="0.8"/>
<line x1="262.26" y1="77.00" x2="262.26" y2="79.00" stroke="#111" stroke-width="0.8"/>
<line x1="268.54" y1="77.00" x2="268.54" y2="79.00" stroke="#111" stroke-width="0.8"/>
<line x1="274.82" y1="77.00" x2="274.82" y2="79.00" stroke="#111" stroke-width="0.8"/>
<line x1="281.10" y1="77.00" x2="281.10" y2="79.00" stroke="#111" stroke-width="0.8"/>
<line x1="287.38" y1="77.00" x2="287.38" y2="79.00" stroke="#111" stroke-width="0.8"/>
<line x1="293.66" y1="77.00" x2="293.66" y2="79.00" stroke="#111" stroke-width="0.8"/>
<text x="0" y="0" font-size="6.6" fill="#111" stroke="#111" text-anchor="middle" transform="translate(230.86,85.00) scale(0.9,1)">10</text>
<text x="0" y="0" font-size="6.6" fill="#111" stroke="#111" text-anchor="middle" transform="translate(243.42,85.00) scale(0.9,1)">18</text>
<text x="0" y="0" font-size="6.6" fill="#111" stroke="#111" text-anchor="middle" transform="translate(255.98,85.00) scale(0.9,1)">26</text>
<text x="0" y="0" font-size="6.6" fill="#111" stroke="#111" text-anchor="middle" transform="translate(268.54,85.00) scale(0.9,1)">34</text>
<text x="0" y="0" font-size="6.6" fill="#111" stroke="#111" text-anchor="middle" transform="translate(281.10,85.00) scale(0.9,1)">42</text>
<text x="0" y="0" font-size="6.6" fill="#111" stroke="#111" text-anchor="middle" transform="translate(293.66,85.00) scale(0.9,1)">50</text>
<path d="M218.30,76.69 L224.58,76.69 L230.86,76.69 L237.14,76.69 L243.42,76.69 L249.70,76.69 L259.12,76.69 L268.54,76.69 L274.82,76.69 L281.10,76.69 L287.38,76.69 L293.66,76.69" stroke="#111" stroke-width="0.8" fill="none"/>
<circle cx="218.30" cy="76.69" r="1.2" fill="#111"/>
<circle cx="224.58" cy="76.69" r="1.2" fill="#111"/>
<circle cx="230.86" cy="76.69" r="1.2" fill="#111"/>
<circle cx="237.14" cy="76.69" r="1.2" fill="#111"/>
<circle cx="243.42" cy="76.69" r="1.2" fill="#111"/>
<circle cx="249.70" cy="76.69" r="1.2" fill="#111"/>
<circle cx="259.12" cy="76.69" r="1.2" fill="#111"/>
<circle cx="268.54" cy="76.69" r="1.2" fill="#111"/>
<circle cx="274.82" cy="76.69" r="1.2" fill="#111"/>
<circle cx="281.10" cy="76.69" r="1.2" fill="#111"/>
<circle cx="287.38" cy="76.69" r="1.2" fill="#111"/>
<circle cx="293.66" cy="76.69" r="1.2" fill="#111"/>
<path d="M218.30,76.49 L224.58,76.49 L230.86,75.98 L237.14,74.95 L243.42,75.98 L249.70,72.39 L259.12,71.37 L268.54,63.69 L274.82,65.74 L281.10,74.44 L287.38,73.93 L293.66,70.34" stroke="#2f40a0" stroke-width="0.8" fill="none"/>
<line x1="230.86" y1="76.49" x2="230.86" y2="75.46" stroke="#2f40a0" stroke-width="0.7"/>
<line x1="229.66" y1="75.46" x2="232.06" y2="75.46" stroke="#2f40a0" stroke-width="0.7"/>
<line x1="229.66" y1="76.49" x2="232.06" y2="76.49" stroke="#2f40a0" stroke-width="0.7"/>
<line x1="237.14" y1="75.98" x2="237.14" y2="73.93" stroke="#2f40a0" stroke-width="0.7"/>
<line x1="235.94" y1="73.93" x2="238.34" y2="73.93" stroke="#2f40a0" stroke-width="0.7"/>
<line x1="235.94" y1="75.98" x2="238.34" y2="75.98" stroke="#2f40a0" stroke-width="0.7"/>
<line x1="243.42" y1="76.49" x2="243.42" y2="75.46" stroke="#2f40a0" stroke-width="0.7"/>
<line x1="242.22" y1="75.46" x2="244.62" y2="75.46" stroke="#2f40a0" stroke-width="0.7"/>
<line x1="242.22" y1="76.49" x2="244.62" y2="76.49" stroke="#2f40a0" stroke-width="0.7"/>
<line x1="249.70" y1="74.44" x2="249.70" y2="70.34" stroke="#2f40a0" stroke-width="0.7"/>
<line x1="248.50" y1="70.34" x2="250.90" y2="70.34" stroke="#2f40a0" stroke-width="0.7"/>
<line x1="248.50" y1="74.44" x2="250.90" y2="74.44" stroke="#2f40a0" stroke-width="0.7"/>
<line x1="259.12" y1="73.42" x2="259.12" y2="69.32" stroke="#2f40a0" stroke-width="0.7"/>
<line x1="257.92" y1="69.32" x2="260.32" y2="69.32" stroke="#2f40a0" stroke-width="0.7"/>
<line x1="257.92" y1="73.42" x2="260.32" y2="73.42" stroke="#2f40a0" stroke-width="0.7"/>
<line x1="268.54" y1="70.86" x2="268.54" y2="56.52" stroke="#2f40a0" stroke-width="0.7"/>
<line x1="267.34" y1="56.52" x2="269.74" y2="56.52" stroke="#2f40a0" stroke-width="0.7"/>
<line x1="267.34" y1="70.86" x2="269.74" y2="70.86" stroke="#2f40a0" stroke-width="0.7"/>
<line x1="274.82" y1="68.81" x2="274.82" y2="62.66" stroke="#2f40a0" stroke-width="0.7"/>
<line x1="273.62" y1="62.66" x2="276.02" y2="62.66" stroke="#2f40a0" stroke-width="0.7"/>
<line x1="273.62" y1="68.81" x2="276.02" y2="68.81" stroke="#2f40a0" stroke-width="0.7"/>
<line x1="281.10" y1="76.49" x2="281.10" y2="72.39" stroke="#2f40a0" stroke-width="0.7"/>
<line x1="279.90" y1="72.39" x2="282.30" y2="72.39" stroke="#2f40a0" stroke-width="0.7"/>
<line x1="279.90" y1="76.49" x2="282.30" y2="76.49" stroke="#2f40a0" stroke-width="0.7"/>
<line x1="287.38" y1="75.46" x2="287.38" y2="72.39" stroke="#2f40a0" stroke-width="0.7"/>
<line x1="286.18" y1="72.39" x2="288.58" y2="72.39" stroke="#2f40a0" stroke-width="0.7"/>
<line x1="286.18" y1="75.46" x2="288.58" y2="75.46" stroke="#2f40a0" stroke-width="0.7"/>
<line x1="293.66" y1="72.90" x2="293.66" y2="67.78" stroke="#2f40a0" stroke-width="0.7"/>
<line x1="292.46" y1="67.78" x2="294.86" y2="67.78" stroke="#2f40a0" stroke-width="0.7"/>
<line x1="292.46" y1="72.90" x2="294.86" y2="72.90" stroke="#2f40a0" stroke-width="0.7"/>
<circle cx="218.30" cy="76.49" r="1.2" fill="#2f40a0"/>
<circle cx="224.58" cy="76.49" r="1.2" fill="#2f40a0"/>
<circle cx="230.86" cy="75.98" r="1.2" fill="#2f40a0"/>
<circle cx="237.14" cy="74.95" r="1.2" fill="#2f40a0"/>
<circle cx="243.42" cy="75.98" r="1.2" fill="#2f40a0"/>
<circle cx="249.70" cy="72.39" r="1.2" fill="#2f40a0"/>
<circle cx="259.12" cy="71.37" r="1.2" fill="#2f40a0"/>
<circle cx="268.54" cy="63.69" r="1.2" fill="#2f40a0"/>
<circle cx="274.82" cy="65.74" r="1.2" fill="#2f40a0"/>
<circle cx="281.10" cy="74.44" r="1.2" fill="#2f40a0"/>
<circle cx="287.38" cy="73.93" r="1.2" fill="#2f40a0"/>
<circle cx="293.66" cy="70.34" r="1.2" fill="#2f40a0"/>
<path d="M218.30,76.49 L224.58,76.49 L230.86,73.42 L237.14,66.96 L243.42,68.81 L249.70,65.43 L259.12,61.13 L268.54,65.74 L274.82,65.74 L281.10,67.58 L287.38,68.81 L293.66,62.66" stroke="#a8252d" stroke-width="0.8" fill="none"/>
<line x1="230.86" y1="74.44" x2="230.86" y2="72.39" stroke="#a8252d" stroke-width="0.7"/>
<line x1="229.66" y1="72.39" x2="232.06" y2="72.39" stroke="#a8252d" stroke-width="0.7"/>
<line x1="229.66" y1="74.44" x2="232.06" y2="74.44" stroke="#a8252d" stroke-width="0.7"/>
<line x1="237.14" y1="69.01" x2="237.14" y2="64.92" stroke="#a8252d" stroke-width="0.7"/>
<line x1="235.94" y1="64.92" x2="238.34" y2="64.92" stroke="#a8252d" stroke-width="0.7"/>
<line x1="235.94" y1="69.01" x2="238.34" y2="69.01" stroke="#a8252d" stroke-width="0.7"/>
<line x1="243.42" y1="70.34" x2="243.42" y2="67.27" stroke="#a8252d" stroke-width="0.7"/>
<line x1="242.22" y1="67.27" x2="244.62" y2="67.27" stroke="#a8252d" stroke-width="0.7"/>
<line x1="242.22" y1="70.34" x2="244.62" y2="70.34" stroke="#a8252d" stroke-width="0.7"/>
<line x1="249.70" y1="67.48" x2="249.70" y2="63.38" stroke="#a8252d" stroke-width="0.7"/>
<line x1="248.50" y1="63.38" x2="250.90" y2="63.38" stroke="#a8252d" stroke-width="0.7"/>
<line x1="248.50" y1="67.48" x2="250.90" y2="67.48" stroke="#a8252d" stroke-width="0.7"/>
<line x1="259.12" y1="63.69" x2="259.12" y2="58.57" stroke="#a8252d" stroke-width="0.7"/>
<line x1="257.92" y1="58.57" x2="260.32" y2="58.57" stroke="#a8252d" stroke-width="0.7"/>
<line x1="257.92" y1="63.69" x2="260.32" y2="63.69" stroke="#a8252d" stroke-width="0.7"/>
<line x1="268.54" y1="67.78" x2="268.54" y2="63.69" stroke="#a8252d" stroke-width="0.7"/>
<line x1="267.34" y1="63.69" x2="269.74" y2="63.69" stroke="#a8252d" stroke-width="0.7"/>
<line x1="267.34" y1="67.78" x2="269.74" y2="67.78" stroke="#a8252d" stroke-width="0.7"/>
<line x1="274.82" y1="67.78" x2="274.82" y2="63.69" stroke="#a8252d" stroke-width="0.7"/>
<line x1="273.62" y1="63.69" x2="276.02" y2="63.69" stroke="#a8252d" stroke-width="0.7"/>
<line x1="273.62" y1="67.78" x2="276.02" y2="67.78" stroke="#a8252d" stroke-width="0.7"/>
<line x1="281.10" y1="69.12" x2="281.10" y2="66.04" stroke="#a8252d" stroke-width="0.7"/>
<line x1="279.90" y1="66.04" x2="282.30" y2="66.04" stroke="#a8252d" stroke-width="0.7"/>
<line x1="279.90" y1="69.12" x2="282.30" y2="69.12" stroke="#a8252d" stroke-width="0.7"/>
<line x1="287.38" y1="70.34" x2="287.38" y2="67.27" stroke="#a8252d" stroke-width="0.7"/>
<line x1="286.18" y1="67.27" x2="288.58" y2="67.27" stroke="#a8252d" stroke-width="0.7"/>
<line x1="286.18" y1="70.34" x2="288.58" y2="70.34" stroke="#a8252d" stroke-width="0.7"/>
<line x1="293.66" y1="65.74" x2="293.66" y2="59.59" stroke="#a8252d" stroke-width="0.7"/>
<line x1="292.46" y1="59.59" x2="294.86" y2="59.59" stroke="#a8252d" stroke-width="0.7"/>
<line x1="292.46" y1="65.74" x2="294.86" y2="65.74" stroke="#a8252d" stroke-width="0.7"/>
<circle cx="218.30" cy="76.49" r="1.2" fill="#a8252d"/>
<circle cx="224.58" cy="76.49" r="1.2" fill="#a8252d"/>
<circle cx="230.86" cy="73.42" r="1.2" fill="#a8252d"/>
<circle cx="237.14" cy="66.96" r="1.2" fill="#a8252d"/>
<circle cx="243.42" cy="68.81" r="1.2" fill="#a8252d"/>
<circle cx="249.70" cy="65.43" r="1.2" fill="#a8252d"/>
<circle cx="259.12" cy="61.13" r="1.2" fill="#a8252d"/>
<circle cx="268.54" cy="65.74" r="1.2" fill="#a8252d"/>
<circle cx="274.82" cy="65.74" r="1.2" fill="#a8252d"/>
<circle cx="281.10" cy="67.58" r="1.2" fill="#a8252d"/>
<circle cx="287.38" cy="68.81" r="1.2" fill="#a8252d"/>
<circle cx="293.66" cy="62.66" r="1.2" fill="#a8252d"/>
<path d="M218.30,76.49 L224.58,68.81 L230.86,56.52 L237.14,55.50 L243.42,38.09 L249.70,33.99 L259.12,50.38" stroke="#3b8a3f" stroke-width="0.8" fill="none"/>
<line x1="224.58" y1="69.83" x2="224.58" y2="67.78" stroke="#3b8a3f" stroke-width="0.7"/>
<line x1="223.38" y1="67.78" x2="225.78" y2="67.78" stroke="#3b8a3f" stroke-width="0.7"/>
<line x1="223.38" y1="69.83" x2="225.78" y2="69.83" stroke="#3b8a3f" stroke-width="0.7"/>
<line x1="230.86" y1="59.59" x2="230.86" y2="53.45" stroke="#3b8a3f" stroke-width="0.7"/>
<line x1="229.66" y1="53.45" x2="232.06" y2="53.45" stroke="#3b8a3f" stroke-width="0.7"/>
<line x1="229.66" y1="59.59" x2="232.06" y2="59.59" stroke="#3b8a3f" stroke-width="0.7"/>
<line x1="237.14" y1="59.59" x2="237.14" y2="51.40" stroke="#3b8a3f" stroke-width="0.7"/>
<line x1="235.94" y1="51.40" x2="238.34" y2="51.40" stroke="#3b8a3f" stroke-width="0.7"/>
<line x1="235.94" y1="59.59" x2="238.34" y2="59.59" stroke="#3b8a3f" stroke-width="0.7"/>
<line x1="243.42" y1="45.26" x2="243.42" y2="30.92" stroke="#3b8a3f" stroke-width="0.7"/>
<line x1="242.22" y1="30.92" x2="244.62" y2="30.92" stroke="#3b8a3f" stroke-width="0.7"/>
<line x1="242.22" y1="45.26" x2="244.62" y2="45.26" stroke="#3b8a3f" stroke-width="0.7"/>
<line x1="249.70" y1="41.16" x2="249.70" y2="26.82" stroke="#3b8a3f" stroke-width="0.7"/>
<line x1="248.50" y1="26.82" x2="250.90" y2="26.82" stroke="#3b8a3f" stroke-width="0.7"/>
<line x1="248.50" y1="41.16" x2="250.90" y2="41.16" stroke="#3b8a3f" stroke-width="0.7"/>
<line x1="259.12" y1="57.54" x2="259.12" y2="43.21" stroke="#3b8a3f" stroke-width="0.7"/>
<line x1="257.92" y1="43.21" x2="260.32" y2="43.21" stroke="#3b8a3f" stroke-width="0.7"/>
<line x1="257.92" y1="57.54" x2="260.32" y2="57.54" stroke="#3b8a3f" stroke-width="0.7"/>
<circle cx="218.30" cy="76.49" r="1.2" fill="#3b8a3f"/>
<circle cx="224.58" cy="68.81" r="1.2" fill="#3b8a3f"/>
<circle cx="230.86" cy="56.52" r="1.2" fill="#3b8a3f"/>
<circle cx="237.14" cy="55.50" r="1.2" fill="#3b8a3f"/>
<circle cx="243.42" cy="38.09" r="1.2" fill="#3b8a3f"/>
<circle cx="249.70" cy="33.99" r="1.2" fill="#3b8a3f"/>
<circle cx="259.12" cy="50.38" r="1.2" fill="#3b8a3f"/>
<text x="347.3" y="20.3" font-size="7" fill="#111" stroke="#111" text-anchor="middle">% of survival</text>
<line x1="321.50" y1="26.70" x2="321.50" y2="77.20" stroke="#111" stroke-width="0.8"/>
<line x1="319.50" y1="77.20" x2="321.50" y2="77.20" stroke="#111" stroke-width="0.8"/>
<text x="0" y="0" font-size="6.5" fill="#111" stroke="#111" text-anchor="end" transform="translate(319.10,79.50) scale(0.9,1)">0</text>
<line x1="319.50" y1="64.70" x2="321.50" y2="64.70" stroke="#111" stroke-width="0.8"/>
<text x="0" y="0" font-size="6.5" fill="#111" stroke="#111" text-anchor="end" transform="translate(319.10,67.00) scale(0.9,1)">25</text>
<line x1="319.50" y1="52.20" x2="321.50" y2="52.20" stroke="#111" stroke-width="0.8"/>
<text x="0" y="0" font-size="6.5" fill="#111" stroke="#111" text-anchor="end" transform="translate(319.10,54.50) scale(0.9,1)">50</text>
<line x1="319.50" y1="39.70" x2="321.50" y2="39.70" stroke="#111" stroke-width="0.8"/>
<text x="0" y="0" font-size="6.5" fill="#111" stroke="#111" text-anchor="end" transform="translate(319.10,42.00) scale(0.9,1)">75</text>
<line x1="319.50" y1="27.20" x2="321.50" y2="27.20" stroke="#111" stroke-width="0.8"/>
<text x="0" y="0" font-size="6.5" fill="#111" stroke="#111" text-anchor="end" transform="translate(319.10,29.50) scale(0.9,1)">100</text>
<line x1="321.50" y1="77.20" x2="397.10" y2="77.20" stroke="#111" stroke-width="0.8"/>
<line x1="321.50" y1="77.20" x2="321.50" y2="79.20" stroke="#111" stroke-width="0.8"/>
<line x1="327.80" y1="77.20" x2="327.80" y2="79.20" stroke="#111" stroke-width="0.8"/>
<line x1="334.10" y1="77.20" x2="334.10" y2="79.20" stroke="#111" stroke-width="0.8"/>
<line x1="340.40" y1="77.20" x2="340.40" y2="79.20" stroke="#111" stroke-width="0.8"/>
<line x1="346.70" y1="77.20" x2="346.70" y2="79.20" stroke="#111" stroke-width="0.8"/>
<line x1="353.00" y1="77.20" x2="353.00" y2="79.20" stroke="#111" stroke-width="0.8"/>
<line x1="359.30" y1="77.20" x2="359.30" y2="79.20" stroke="#111" stroke-width="0.8"/>
<line x1="365.60" y1="77.20" x2="365.60" y2="79.20" stroke="#111" stroke-width="0.8"/>
<line x1="371.90" y1="77.20" x2="371.90" y2="79.20" stroke="#111" stroke-width="0.8"/>
<line x1="378.20" y1="77.20" x2="378.20" y2="79.20" stroke="#111" stroke-width="0.8"/>
<line x1="384.50" y1="77.20" x2="384.50" y2="79.20" stroke="#111" stroke-width="0.8"/>
<line x1="390.80" y1="77.20" x2="390.80" y2="79.20" stroke="#111" stroke-width="0.8"/>
<line x1="397.10" y1="77.20" x2="397.10" y2="79.20" stroke="#111" stroke-width="0.8"/>
<text x="0" y="0" font-size="6.6" fill="#111" stroke="#111" text-anchor="middle" transform="translate(334.10,85.20) scale(0.9,1)">10</text>
<text x="0" y="0" font-size="6.6" fill="#111" stroke="#111" text-anchor="middle" transform="translate(346.70,85.20) scale(0.9,1)">18</text>
<text x="0" y="0" font-size="6.6" fill="#111" stroke="#111" text-anchor="middle" transform="translate(359.30,85.20) scale(0.9,1)">26</text>
<text x="0" y="0" font-size="6.6" fill="#111" stroke="#111" text-anchor="middle" transform="translate(371.90,85.20) scale(0.9,1)">34</text>
<text x="0" y="0" font-size="6.6" fill="#111" stroke="#111" text-anchor="middle" transform="translate(384.50,85.20) scale(0.9,1)">42</text>
<text x="0" y="0" font-size="6.6" fill="#111" stroke="#111" text-anchor="middle" transform="translate(397.10,85.20) scale(0.9,1)">50</text>
<text x="361.1" y="92.4" font-size="6.3" fill="#111" stroke="#111" text-anchor="middle">weeks after plpC or tamoxifen</text>
<path d="M321.50,27.20 H327.49 V29.55 H333.47 V34.20 H338.51 V36.20 H339.77 V38.20 H341.19 V40.20 H342.29 V42.20 H345.12 V46.20 H345.91 V49.70 H346.70 V52.20 H348.59 V54.20 H353.63 V56.70 H368.59 V60.40 H371.58 V69.30 H386.39 V69.30" stroke="#849a84" stroke-width="0.8" fill="none"/>
<path d="M321.50,27.20 H346.70 V27.55 H351.43 V28.05 H356.15 V28.80 H357.41 V33.00 H360.09 V34.20 H362.45 V34.70 H364.97 V35.40 H367.18 V36.20 H386.07 V36.20 H387.65 V38.50 H389.23 V41.00 H392.38 V43.30 H394.74 V45.70 H396.47 V46.80 H396.47 V46.80" stroke="#9a4a55" stroke-width="0.8" fill="none"/>
<path d="M321.50,27.20 H357.10 V28.20 H358.51 V29.90 H366.23 V32.20 H383.71 V33.30 H396.78 V33.30" stroke="#5060a8" stroke-width="0.8" fill="none"/>
<path d="M321.50,27.20 H381.98 V27.20 H382.00 V28.95 H390.64 V28.95 H390.66 V31.00 H396.47 V31.00" stroke="#222" stroke-width="0.8" fill="none"/>
<text x="410.5" y="10.2" font-size="10.5" fill="#111" stroke="#111" font-weight="bold" style="stroke-width:0.4px">B</text>
<text x="426.9" y="9.0" font-size="7" fill="#111" stroke="#111">Ratio of human/mouse</text>
<text x="426.9" y="17.0" font-size="7" fill="#111" stroke="#111">Jak2 mRNA expression</text>
<line x1="426.00" y1="25.30" x2="426.00" y2="77.40" stroke="#111" stroke-width="0.8"/>
<line x1="424.00" y1="77.40" x2="426.00" y2="77.40" stroke="#111" stroke-width="0.8"/>
<text x="0" y="0" font-size="6.5" fill="#111" stroke="#111" text-anchor="end" transform="translate(423.60,79.70) scale(0.9,1)">0.0</text>
<line x1="424.00" y1="64.50" x2="426.00" y2="64.50" stroke="#111" stroke-width="0.8"/>
<text x="0" y="0" font-size="6.5" fill="#111" stroke="#111" text-anchor="end" transform="translate(423.60,66.80) scale(0.9,1)">0.5</text>
<line x1="424.00" y1="51.60" x2="426.00" y2="51.60" stroke="#111" stroke-width="0.8"/>
<text x="0" y="0" font-size="6.5" fill="#111" stroke="#111" text-anchor="end" transform="translate(423.60,53.90) scale(0.9,1)">1.0</text>
<line x1="424.00" y1="38.70" x2="426.00" y2="38.70" stroke="#111" stroke-width="0.8"/>
<text x="0" y="0" font-size="6.5" fill="#111" stroke="#111" text-anchor="end" transform="translate(423.60,41.00) scale(0.9,1)">1.5</text>
<line x1="424.00" y1="25.80" x2="426.00" y2="25.80" stroke="#111" stroke-width="0.8"/>
<text x="0" y="0" font-size="6.5" fill="#111" stroke="#111" text-anchor="end" transform="translate(423.60,28.10) scale(0.9,1)">2.0</text>
<line x1="426.00" y1="77.40" x2="505.50" y2="77.40" stroke="#111" stroke-width="0.8"/>
<circle cx="434.50" cy="44.38" r="1.55" fill="#111"/>
<circle cx="433.30" cy="52.89" r="1.55" fill="#111"/>
<circle cx="435.80" cy="53.66" r="1.55" fill="#111"/>
<circle cx="433.70" cy="54.70" r="1.55" fill="#111"/>
<circle cx="435.90" cy="54.95" r="1.55" fill="#111"/>
<line x1="430.30" y1="52.63" x2="438.70" y2="52.63" stroke="#111" stroke-width="0.8"/>
<circle cx="446.50" cy="63.21" r="1.55" fill="#111"/>
<circle cx="445.00" cy="65.79" r="1.55" fill="#111"/>
<circle cx="447.90" cy="67.08" r="1.55" fill="#111"/>
<circle cx="446.50" cy="68.11" r="1.55" fill="#111"/>
<circle cx="446.20" cy="68.89" r="1.55" fill="#111"/>
<line x1="442.30" y1="66.56" x2="450.70" y2="66.56" stroke="#111" stroke-width="0.8"/>
<circle cx="460.50" cy="46.44" r="1.55" fill="#111"/>
<circle cx="459.00" cy="48.50" r="1.55" fill="#111"/>
<circle cx="458.00" cy="51.60" r="1.55" fill="#111"/>
<circle cx="459.00" cy="55.47" r="1.55" fill="#111"/>
<circle cx="457.80" cy="61.40" r="1.55" fill="#111"/>
<line x1="454.80" y1="52.89" x2="463.20" y2="52.89" stroke="#111" stroke-width="0.8"/>
<circle cx="470.30" cy="31.48" r="1.55" fill="#111"/>
<circle cx="470.30" cy="43.86" r="1.55" fill="#111"/>
<circle cx="470.30" cy="52.89" r="1.55" fill="#111"/>
<circle cx="470.30" cy="58.82" r="1.55" fill="#111"/>
<line x1="466.10" y1="46.44" x2="474.50" y2="46.44" stroke="#111" stroke-width="0.8"/>
<circle cx="481.90" cy="61.40" r="1.55" fill="#111"/>
<circle cx="481.90" cy="66.56" r="1.55" fill="#111"/>
<circle cx="481.90" cy="68.89" r="1.55" fill="#111"/>
<line x1="477.70" y1="65.53" x2="486.10" y2="65.53" stroke="#111" stroke-width="0.8"/>
<circle cx="491.00" cy="65.79" r="1.55" fill="#111"/>
<circle cx="494.00" cy="66.56" r="1.55" fill="#111"/>
<circle cx="492.50" cy="68.37" r="1.55" fill="#111"/>
<circle cx="491.20" cy="69.66" r="1.55" fill="#111"/>
<circle cx="493.80" cy="70.43" r="1.55" fill="#111"/>
<line x1="488.30" y1="67.85" x2="496.70" y2="67.85" stroke="#111" stroke-width="0.8"/>
<text x="434.5" y="85.9" font-size="6.3" fill="#111" stroke="#111" text-anchor="middle">10</text>
<text x="446.5" y="85.9" font-size="6.3" fill="#111" stroke="#111" text-anchor="middle">34</text>
<text x="459.0" y="85.9" font-size="6.3" fill="#111" stroke="#111" text-anchor="middle">10</text>
<text x="470.3" y="85.9" font-size="6.3" fill="#111" stroke="#111" text-anchor="middle">34</text>
<text x="481.9" y="85.9" font-size="6.3" fill="#111" stroke="#111" text-anchor="middle">10</text>
<text x="492.5" y="85.9" font-size="6.3" fill="#111" stroke="#111" text-anchor="middle">34</text>
<text x="500.8" y="85.9" font-size="6.3" fill="#111" stroke="#111">weeks</text>
<line x1="431.00" y1="88.80" x2="450.00" y2="88.80" stroke="#555" stroke-width="1.2"/>
<text x="440.5" y="97.2" font-size="7" fill="#c05565" stroke="#c05565" text-anchor="middle">Mx</text>
<line x1="455.50" y1="88.80" x2="474.50" y2="88.80" stroke="#555" stroke-width="1.2"/>
<text x="465.0" y="97.2" font-size="7" fill="#a0a898" stroke="#a0a898" text-anchor="middle">Scl</text>
<line x1="478.70" y1="88.80" x2="496.70" y2="88.80" stroke="#555" stroke-width="1.2"/>
<text x="487.7" y="97.2" font-size="7" fill="#6a6ab0" stroke="#6a6ab0" text-anchor="middle">Vav</text>
<path d="M432.7,36.4 V33.4 H447.8 V36.4" stroke="#888" stroke-width="0.8" fill="none"/>
<text x="441.0" y="33.9" font-size="8.5" fill="#111" stroke="#111" text-anchor="middle" font-weight="bold" style="stroke-width:0px">*</text>
<text x="6.8" y="109.0" font-size="10.5" fill="#111" stroke="#111" font-weight="bold" style="stroke-width:0.4px">C</text>
<text x="18" y="108.0" font-size="7" fill="#111" stroke="#111" textLength="383" lengthAdjust="spacingAndGlyphs">Blood counts and survival in lethally irradiated recipients after BM transplantation <tspan fill="#9a2e2e" stroke="#9a2e2e">(Mx: n=15;</tspan> <tspan fill="#5f9a4f" stroke="#5f9a4f">Scl: n=20;</tspan> <tspan fill="#3e3e96" stroke="#3e3e96">Vav: n=8;</tspan> WT: n=8)</text>
<text x="61" y="119.0" font-size="7" fill="#111" stroke="#111" text-anchor="middle">hemoglobin (g/L)</text>
<rect x="21.80" y="150.51" width="75.90" height="8.94" fill="#d0d0d0"/>
<line x1="21.80" y1="130.10" x2="21.80" y2="181.40" stroke="#111" stroke-width="0.8"/>
<line x1="19.80" y1="181.40" x2="21.80" y2="181.40" stroke="#111" stroke-width="0.8"/>
<text x="0" y="0" font-size="6.5" fill="#111" stroke="#111" text-anchor="end" transform="translate(19.40,183.70) scale(0.9,1)">0</text>
<line x1="19.80" y1="171.24" x2="21.80" y2="171.24" stroke="#111" stroke-width="0.8"/>
<text x="0" y="0" font-size="6.5" fill="#111" stroke="#111" text-anchor="end" transform="translate(19.40,173.54) scale(0.9,1)">50</text>
<line x1="19.80" y1="161.08" x2="21.80" y2="161.08" stroke="#111" stroke-width="0.8"/>
<text x="0" y="0" font-size="6.5" fill="#111" stroke="#111" text-anchor="end" transform="translate(19.40,163.38) scale(0.9,1)">100</text>
<line x1="19.80" y1="150.92" x2="21.80" y2="150.92" stroke="#111" stroke-width="0.8"/>
<text x="0" y="0" font-size="6.5" fill="#111" stroke="#111" text-anchor="end" transform="translate(19.40,153.22) scale(0.9,1)">150</text>
<line x1="19.80" y1="140.76" x2="21.80" y2="140.76" stroke="#111" stroke-width="0.8"/>
<text x="0" y="0" font-size="6.5" fill="#111" stroke="#111" text-anchor="end" transform="translate(19.40,143.06) scale(0.9,1)">200</text>
<line x1="19.80" y1="130.60" x2="21.80" y2="130.60" stroke="#111" stroke-width="0.8"/>
<text x="0" y="0" font-size="6.5" fill="#111" stroke="#111" text-anchor="end" transform="translate(19.40,132.90) scale(0.9,1)">250</text>
<line x1="21.80" y1="181.40" x2="97.16" y2="181.40" stroke="#111" stroke-width="0.8"/>
<line x1="21.80" y1="181.40" x2="21.80" y2="183.40" stroke="#111" stroke-width="0.8"/>
<line x1="28.08" y1="181.40" x2="28.08" y2="183.40" stroke="#111" stroke-width="0.8"/>
<line x1="34.36" y1="181.40" x2="34.36" y2="183.40" stroke="#111" stroke-width="0.8"/>
<line x1="40.64" y1="181.40" x2="40.64" y2="183.40" stroke="#111" stroke-width="0.8"/>
<line x1="46.92" y1="181.40" x2="46.92" y2="183.40" stroke="#111" stroke-width="0.8"/>
<line x1="53.20" y1="181.40" x2="53.20" y2="183.40" stroke="#111" stroke-width="0.8"/>
<line x1="59.48" y1="181.40" x2="59.48" y2="183.40" stroke="#111" stroke-width="0.8"/>
<line x1="65.76" y1="181.40" x2="65.76" y2="183.40" stroke="#111" stroke-width="0.8"/>
<line x1="72.04" y1="181.40" x2="72.04" y2="183.40" stroke="#111" stroke-width="0.8"/>
<line x1="78.32" y1="181.40" x2="78.32" y2="183.40" stroke="#111" stroke-width="0.8"/>
<line x1="84.60" y1="181.40" x2="84.60" y2="183.40" stroke="#111" stroke-width="0.8"/>
<line x1="90.88" y1="181.40" x2="90.88" y2="183.40" stroke="#111" stroke-width="0.8"/>
<line x1="97.16" y1="181.40" x2="97.16" y2="183.40" stroke="#111" stroke-width="0.8"/>
<text x="0" y="0" font-size="6.6" fill="#111" stroke="#111" text-anchor="middle" transform="translate(34.36,189.40) scale(0.9,1)">10</text>
<text x="0" y="0" font-size="6.6" fill="#111" stroke="#111" text-anchor="middle" transform="translate(46.92,189.40) scale(0.9,1)">18</text>
<text x="0" y="0" font-size="6.6" fill="#111" stroke="#111" text-anchor="middle" transform="translate(59.48,189.40) scale(0.9,1)">26</text>
<text x="0" y="0" font-size="6.6" fill="#111" stroke="#111" text-anchor="middle" transform="translate(72.04,189.40) scale(0.9,1)">34</text>
<text x="0" y="0" font-size="6.6" fill="#111" stroke="#111" text-anchor="middle" transform="translate(84.60,189.40) scale(0.9,1)">42</text>
<text x="0" y="0" font-size="6.6" fill="#111" stroke="#111" text-anchor="middle" transform="translate(97.16,189.40) scale(0.9,1)">50</text>
<text x="61.5" y="195.4" font-size="6.3" fill="#111" stroke="#111" text-anchor="middle">weeks after transplantation</text>
<path d="M24.94,153.76 L31.22,154.17 L37.50,152.55 L43.78,150.92 L50.06,150.51 L56.34,150.92 L62.62,150.92 L68.90,150.92 L75.18,150.92 L81.46,153.76 L87.74,154.58 L94.02,153.97" stroke="#111" stroke-width="0.8" fill="none"/>
<circle cx="24.94" cy="153.76" r="1.2" fill="#111"/>
<circle cx="31.22" cy="154.17" r="1.2" fill="#111"/>
<circle cx="37.50" cy="152.55" r="1.2" fill="#111"/>
<circle cx="43.78" cy="150.92" r="1.2" fill="#111"/>
<circle cx="50.06" cy="150.51" r="1.2" fill="#111"/>
<circle cx="56.34" cy="150.92" r="1.2" fill="#111"/>
<circle cx="62.62" cy="150.92" r="1.2" fill="#111"/>
<circle cx="68.90" cy="150.92" r="1.2" fill="#111"/>
<circle cx="75.18" cy="150.92" r="1.2" fill="#111"/>
<circle cx="81.46" cy="153.76" r="1.2" fill="#111"/>
<circle cx="87.74" cy="154.58" r="1.2" fill="#111"/>
<circle cx="94.02" cy="153.97" r="1.2" fill="#111"/>
<path d="M24.94,153.56 L31.22,154.17 L37.50,157.02 L43.78,157.83 L50.06,158.24 L56.34,157.42 L62.62,158.24 L68.90,160.67" stroke="#2f40a0" stroke-width="0.8" fill="none"/>
<line x1="24.94" y1="154.78" x2="24.94" y2="152.34" stroke="#2f40a0" stroke-width="0.7"/>
<line x1="23.74" y1="152.34" x2="26.14" y2="152.34" stroke="#2f40a0" stroke-width="0.7"/>
<line x1="23.74" y1="154.78" x2="26.14" y2="154.78" stroke="#2f40a0" stroke-width="0.7"/>
<line x1="31.22" y1="154.98" x2="31.22" y2="153.36" stroke="#2f40a0" stroke-width="0.7"/>
<line x1="30.02" y1="153.36" x2="32.42" y2="153.36" stroke="#2f40a0" stroke-width="0.7"/>
<line x1="30.02" y1="154.98" x2="32.42" y2="154.98" stroke="#2f40a0" stroke-width="0.7"/>
<line x1="37.50" y1="157.83" x2="37.50" y2="156.20" stroke="#2f40a0" stroke-width="0.7"/>
<line x1="36.30" y1="156.20" x2="38.70" y2="156.20" stroke="#2f40a0" stroke-width="0.7"/>
<line x1="36.30" y1="157.83" x2="38.70" y2="157.83" stroke="#2f40a0" stroke-width="0.7"/>
<line x1="43.78" y1="158.44" x2="43.78" y2="157.22" stroke="#2f40a0" stroke-width="0.7"/>
<line x1="42.58" y1="157.22" x2="44.98" y2="157.22" stroke="#2f40a0" stroke-width="0.7"/>
<line x1="42.58" y1="158.44" x2="44.98" y2="158.44" stroke="#2f40a0" stroke-width="0.7"/>
<line x1="50.06" y1="158.84" x2="50.06" y2="157.63" stroke="#2f40a0" stroke-width="0.7"/>
<line x1="48.86" y1="157.63" x2="51.26" y2="157.63" stroke="#2f40a0" stroke-width="0.7"/>
<line x1="48.86" y1="158.84" x2="51.26" y2="158.84" stroke="#2f40a0" stroke-width="0.7"/>
<line x1="56.34" y1="158.24" x2="56.34" y2="156.61" stroke="#2f40a0" stroke-width="0.7"/>
<line x1="55.14" y1="156.61" x2="57.54" y2="156.61" stroke="#2f40a0" stroke-width="0.7"/>
<line x1="55.14" y1="158.24" x2="57.54" y2="158.24" stroke="#2f40a0" stroke-width="0.7"/>
<line x1="62.62" y1="159.05" x2="62.62" y2="157.42" stroke="#2f40a0" stroke-width="0.7"/>
<line x1="61.42" y1="157.42" x2="63.82" y2="157.42" stroke="#2f40a0" stroke-width="0.7"/>
<line x1="61.42" y1="159.05" x2="63.82" y2="159.05" stroke="#2f40a0" stroke-width="0.7"/>
<line x1="68.90" y1="161.28" x2="68.90" y2="160.06" stroke="#2f40a0" stroke-width="0.7"/>
<line x1="67.70" y1="160.06" x2="70.10" y2="160.06" stroke="#2f40a0" stroke-width="0.7"/>
<line x1="67.70" y1="161.28" x2="70.10" y2="161.28" stroke="#2f40a0" stroke-width="0.7"/>
<circle cx="24.94" cy="153.56" r="1.2" fill="#2f40a0"/>
<circle cx="31.22" cy="154.17" r="1.2" fill="#2f40a0"/>
<circle cx="37.50" cy="157.02" r="1.2" fill="#2f40a0"/>
<circle cx="43.78" cy="157.83" r="1.2" fill="#2f40a0"/>
<circle cx="50.06" cy="158.24" r="1.2" fill="#2f40a0"/>
<circle cx="56.34" cy="157.42" r="1.2" fill="#2f40a0"/>
<circle cx="62.62" cy="158.24" r="1.2" fill="#2f40a0"/>
<circle cx="68.90" cy="160.67" r="1.2" fill="#2f40a0"/>
<path d="M24.94,143.20 L31.22,139.54 L37.50,142.59 L43.78,150.31 L50.06,152.55 L56.34,154.58 L62.62,156.00 L68.90,154.98 L75.18,155.19 L81.46,156.81 L87.74,157.42 L94.02,158.24" stroke="#a8252d" stroke-width="0.8" fill="none"/>
<line x1="24.94" y1="144.21" x2="24.94" y2="142.18" stroke="#a8252d" stroke-width="0.7"/>
<line x1="23.74" y1="142.18" x2="26.14" y2="142.18" stroke="#a8252d" stroke-width="0.7"/>
<line x1="23.74" y1="144.21" x2="26.14" y2="144.21" stroke="#a8252d" stroke-width="0.7"/>
<line x1="31.22" y1="140.76" x2="31.22" y2="138.32" stroke="#a8252d" stroke-width="0.7"/>
<line x1="30.02" y1="138.32" x2="32.42" y2="138.32" stroke="#a8252d" stroke-width="0.7"/>
<line x1="30.02" y1="140.76" x2="32.42" y2="140.76" stroke="#a8252d" stroke-width="0.7"/>
<line x1="37.50" y1="143.81" x2="37.50" y2="141.37" stroke="#a8252d" stroke-width="0.7"/>
<line x1="36.30" y1="141.37" x2="38.70" y2="141.37" stroke="#a8252d" stroke-width="0.7"/>
<line x1="36.30" y1="143.81" x2="38.70" y2="143.81" stroke="#a8252d" stroke-width="0.7"/>
<line x1="43.78" y1="151.33" x2="43.78" y2="149.29" stroke="#a8252d" stroke-width="0.7"/>
<line x1="42.58" y1="149.29" x2="44.98" y2="149.29" stroke="#a8252d" stroke-width="0.7"/>
<line x1="42.58" y1="151.33" x2="44.98" y2="151.33" stroke="#a8252d" stroke-width="0.7"/>
<line x1="50.06" y1="153.56" x2="50.06" y2="151.53" stroke="#a8252d" stroke-width="0.7"/>
<line x1="48.86" y1="151.53" x2="51.26" y2="151.53" stroke="#a8252d" stroke-width="0.7"/>
<line x1="48.86" y1="153.56" x2="51.26" y2="153.56" stroke="#a8252d" stroke-width="0.7"/>
<line x1="56.34" y1="155.59" x2="56.34" y2="153.56" stroke="#a8252d" stroke-width="0.7"/>
<line x1="55.14" y1="153.56" x2="57.54" y2="153.56" stroke="#a8252d" stroke-width="0.7"/>
<line x1="55.14" y1="155.59" x2="57.54" y2="155.59" stroke="#a8252d" stroke-width="0.7"/>
<line x1="62.62" y1="157.02" x2="62.62" y2="154.98" stroke="#a8252d" stroke-width="0.7"/>
<line x1="61.42" y1="154.98" x2="63.82" y2="154.98" stroke="#a8252d" stroke-width="0.7"/>
<line x1="61.42" y1="157.02" x2="63.82" y2="157.02" stroke="#a8252d" stroke-width="0.7"/>
<line x1="68.90" y1="156.00" x2="68.90" y2="153.97" stroke="#a8252d" stroke-width="0.7"/>
<line x1="67.70" y1="153.97" x2="70.10" y2="153.97" stroke="#a8252d" stroke-width="0.7"/>
<line x1="67.70" y1="156.00" x2="70.10" y2="156.00" stroke="#a8252d" stroke-width="0.7"/>
<line x1="75.18" y1="156.20" x2="75.18" y2="154.17" stroke="#a8252d" stroke-width="0.7"/>
<line x1="73.98" y1="154.17" x2="76.38" y2="154.17" stroke="#a8252d" stroke-width="0.7"/>
<line x1="73.98" y1="156.20" x2="76.38" y2="156.20" stroke="#a8252d" stroke-width="0.7"/>
<line x1="81.46" y1="157.83" x2="81.46" y2="155.80" stroke="#a8252d" stroke-width="0.7"/>
<line x1="80.26" y1="155.80" x2="82.66" y2="155.80" stroke="#a8252d" stroke-width="0.7"/>
<line x1="80.26" y1="157.83" x2="82.66" y2="157.83" stroke="#a8252d" stroke-width="0.7"/>
<line x1="87.74" y1="158.44" x2="87.74" y2="156.41" stroke="#a8252d" stroke-width="0.7"/>
<line x1="86.54" y1="156.41" x2="88.94" y2="156.41" stroke="#a8252d" stroke-width="0.7"/>
<line x1="86.54" y1="158.44" x2="88.94" y2="158.44" stroke="#a8252d" stroke-width="0.7"/>
<line x1="94.02" y1="159.25" x2="94.02" y2="157.22" stroke="#a8252d" stroke-width="0.7"/>
<line x1="92.82" y1="157.22" x2="95.22" y2="157.22" stroke="#a8252d" stroke-width="0.7"/>
<line x1="92.82" y1="159.25" x2="95.22" y2="159.25" stroke="#a8252d" stroke-width="0.7"/>
<circle cx="24.94" cy="143.20" r="1.2" fill="#a8252d"/>
<circle cx="31.22" cy="139.54" r="1.2" fill="#a8252d"/>
<circle cx="37.50" cy="142.59" r="1.2" fill="#a8252d"/>
<circle cx="43.78" cy="150.31" r="1.2" fill="#a8252d"/>
<circle cx="50.06" cy="152.55" r="1.2" fill="#a8252d"/>
<circle cx="56.34" cy="154.58" r="1.2" fill="#a8252d"/>
<circle cx="62.62" cy="156.00" r="1.2" fill="#a8252d"/>
<circle cx="68.90" cy="154.98" r="1.2" fill="#a8252d"/>
<circle cx="75.18" cy="155.19" r="1.2" fill="#a8252d"/>
<circle cx="81.46" cy="156.81" r="1.2" fill="#a8252d"/>
<circle cx="87.74" cy="157.42" r="1.2" fill="#a8252d"/>
<circle cx="94.02" cy="158.24" r="1.2" fill="#a8252d"/>
<path d="M24.94,137.10 L31.22,141.17 L37.50,145.23 L43.78,150.51 L50.06,152.95 L56.34,156.00 L62.62,158.24 L68.90,158.24 L75.18,158.64 L81.46,158.24 L87.74,158.64 L94.02,162.91" stroke="#3b8a3f" stroke-width="0.8" fill="none"/>
<line x1="24.94" y1="138.32" x2="24.94" y2="135.88" stroke="#3b8a3f" stroke-width="0.7"/>
<line x1="23.74" y1="135.88" x2="26.14" y2="135.88" stroke="#3b8a3f" stroke-width="0.7"/>
<line x1="23.74" y1="138.32" x2="26.14" y2="138.32" stroke="#3b8a3f" stroke-width="0.7"/>
<line x1="31.22" y1="142.39" x2="31.22" y2="139.95" stroke="#3b8a3f" stroke-width="0.7"/>
<line x1="30.02" y1="139.95" x2="32.42" y2="139.95" stroke="#3b8a3f" stroke-width="0.7"/>
<line x1="30.02" y1="142.39" x2="32.42" y2="142.39" stroke="#3b8a3f" stroke-width="0.7"/>
<line x1="37.50" y1="146.65" x2="37.50" y2="143.81" stroke="#3b8a3f" stroke-width="0.7"/>
<line x1="36.30" y1="143.81" x2="38.70" y2="143.81" stroke="#3b8a3f" stroke-width="0.7"/>
<line x1="36.30" y1="146.65" x2="38.70" y2="146.65" stroke="#3b8a3f" stroke-width="0.7"/>
<line x1="43.78" y1="151.53" x2="43.78" y2="149.50" stroke="#3b8a3f" stroke-width="0.7"/>
<line x1="42.58" y1="149.50" x2="44.98" y2="149.50" stroke="#3b8a3f" stroke-width="0.7"/>
<line x1="42.58" y1="151.53" x2="44.98" y2="151.53" stroke="#3b8a3f" stroke-width="0.7"/>
<line x1="50.06" y1="153.97" x2="50.06" y2="151.94" stroke="#3b8a3f" stroke-width="0.7"/>
<line x1="48.86" y1="151.94" x2="51.26" y2="151.94" stroke="#3b8a3f" stroke-width="0.7"/>
<line x1="48.86" y1="153.97" x2="51.26" y2="153.97" stroke="#3b8a3f" stroke-width="0.7"/>
<line x1="56.34" y1="157.02" x2="56.34" y2="154.98" stroke="#3b8a3f" stroke-width="0.7"/>
<line x1="55.14" y1="154.98" x2="57.54" y2="154.98" stroke="#3b8a3f" stroke-width="0.7"/>
<line x1="55.14" y1="157.02" x2="57.54" y2="157.02" stroke="#3b8a3f" stroke-width="0.7"/>
<line x1="62.62" y1="159.25" x2="62.62" y2="157.22" stroke="#3b8a3f" stroke-width="0.7"/>
<line x1="61.42" y1="157.22" x2="63.82" y2="157.22" stroke="#3b8a3f" stroke-width="0.7"/>
<line x1="61.42" y1="159.25" x2="63.82" y2="159.25" stroke="#3b8a3f" stroke-width="0.7"/>
<line x1="68.90" y1="159.25" x2="68.90" y2="157.22" stroke="#3b8a3f" stroke-width="0.7"/>
<line x1="67.70" y1="157.22" x2="70.10" y2="157.22" stroke="#3b8a3f" stroke-width="0.7"/>
<line x1="67.70" y1="159.25" x2="70.10" y2="159.25" stroke="#3b8a3f" stroke-width="0.7"/>
<line x1="75.18" y1="159.86" x2="75.18" y2="157.42" stroke="#3b8a3f" stroke-width="0.7"/>
<line x1="73.98" y1="157.42" x2="76.38" y2="157.42" stroke="#3b8a3f" stroke-width="0.7"/>
<line x1="73.98" y1="159.86" x2="76.38" y2="159.86" stroke="#3b8a3f" stroke-width="0.7"/>
<line x1="81.46" y1="159.45" x2="81.46" y2="157.02" stroke="#3b8a3f" stroke-width="0.7"/>
<line x1="80.26" y1="157.02" x2="82.66" y2="157.02" stroke="#3b8a3f" stroke-width="0.7"/>
<line x1="80.26" y1="159.45" x2="82.66" y2="159.45" stroke="#3b8a3f" stroke-width="0.7"/>
<line x1="87.74" y1="159.86" x2="87.74" y2="157.42" stroke="#3b8a3f" stroke-width="0.7"/>
<line x1="86.54" y1="157.42" x2="88.94" y2="157.42" stroke="#3b8a3f" stroke-width="0.7"/>
<line x1="86.54" y1="159.86" x2="88.94" y2="159.86" stroke="#3b8a3f" stroke-width="0.7"/>
<line x1="94.02" y1="164.33" x2="94.02" y2="161.49" stroke="#3b8a3f" stroke-width="0.7"/>
<line x1="92.82" y1="161.49" x2="95.22" y2="161.49" stroke="#3b8a3f" stroke-width="0.7"/>
<line x1="92.82" y1="164.33" x2="95.22" y2="164.33" stroke="#3b8a3f" stroke-width="0.7"/>
<circle cx="24.94" cy="137.10" r="1.2" fill="#3b8a3f"/>
<circle cx="31.22" cy="141.17" r="1.2" fill="#3b8a3f"/>
<circle cx="37.50" cy="145.23" r="1.2" fill="#3b8a3f"/>
<circle cx="43.78" cy="150.51" r="1.2" fill="#3b8a3f"/>
<circle cx="50.06" cy="152.95" r="1.2" fill="#3b8a3f"/>
<circle cx="56.34" cy="156.00" r="1.2" fill="#3b8a3f"/>
<circle cx="62.62" cy="158.24" r="1.2" fill="#3b8a3f"/>
<circle cx="68.90" cy="158.24" r="1.2" fill="#3b8a3f"/>
<circle cx="75.18" cy="158.64" r="1.2" fill="#3b8a3f"/>
<circle cx="81.46" cy="158.24" r="1.2" fill="#3b8a3f"/>
<circle cx="87.74" cy="158.64" r="1.2" fill="#3b8a3f"/>
<circle cx="94.02" cy="162.91" r="1.2" fill="#3b8a3f"/>
<text x="154.5" y="119.0" font-size="7" fill="#111" stroke="#111" text-anchor="middle">platelets (x10<tspan baseline-shift="2.8" font-size="5.0">12</tspan>/L)</text>
<rect x="117.90" y="177.34" width="75.60" height="4.06" fill="#d0d0d0"/>
<line x1="117.90" y1="130.10" x2="117.90" y2="181.40" stroke="#111" stroke-width="0.8"/>
<line x1="115.90" y1="181.40" x2="117.90" y2="181.40" stroke="#111" stroke-width="0.8"/>
<text x="0" y="0" font-size="6.5" fill="#111" stroke="#111" text-anchor="end" transform="translate(115.50,183.70) scale(0.9,1)">0</text>
<line x1="115.90" y1="171.24" x2="117.90" y2="171.24" stroke="#111" stroke-width="0.8"/>
<text x="0" y="0" font-size="6.5" fill="#111" stroke="#111" text-anchor="end" transform="translate(115.50,173.54) scale(0.9,1)">3</text>
<line x1="115.90" y1="161.08" x2="117.90" y2="161.08" stroke="#111" stroke-width="0.8"/>
<text x="0" y="0" font-size="6.5" fill="#111" stroke="#111" text-anchor="end" transform="translate(115.50,163.38) scale(0.9,1)">6</text>
<line x1="115.90" y1="150.92" x2="117.90" y2="150.92" stroke="#111" stroke-width="0.8"/>
<text x="0" y="0" font-size="6.5" fill="#111" stroke="#111" text-anchor="end" transform="translate(115.50,153.22) scale(0.9,1)">9</text>
<line x1="115.90" y1="140.76" x2="117.90" y2="140.76" stroke="#111" stroke-width="0.8"/>
<text x="0" y="0" font-size="6.5" fill="#111" stroke="#111" text-anchor="end" transform="translate(115.50,143.06) scale(0.9,1)">12</text>
<line x1="115.90" y1="130.60" x2="117.90" y2="130.60" stroke="#111" stroke-width="0.8"/>
<text x="0" y="0" font-size="6.5" fill="#111" stroke="#111" text-anchor="end" transform="translate(115.50,132.90) scale(0.9,1)">15</text>
<line x1="117.90" y1="181.40" x2="193.26" y2="181.40" stroke="#111" stroke-width="0.8"/>
<line x1="117.90" y1="181.40" x2="117.90" y2="183.40" stroke="#111" stroke-width="0.8"/>
<line x1="124.18" y1="181.40" x2="124.18" y2="183.40" stroke="#111" stroke-width="0.8"/>
<line x1="130.46" y1="181.40" x2="130.46" y2="183.40" stroke="#111" stroke-width="0.8"/>
<line x1="136.74" y1="181.40" x2="136.74" y2="183.40" stroke="#111" stroke-width="0.8"/>
<line x1="143.02" y1="181.40" x2="143.02" y2="183.40" stroke="#111" stroke-width="0.8"/>
<line x1="149.30" y1="181.40" x2="149.30" y2="183.40" stroke="#111" stroke-width="0.8"/>
<line x1="155.58" y1="181.40" x2="155.58" y2="183.40" stroke="#111" stroke-width="0.8"/>
<line x1="161.86" y1="181.40" x2="161.86" y2="183.40" stroke="#111" stroke-width="0.8"/>
<line x1="168.14" y1="181.40" x2="168.14" y2="183.40" stroke="#111" stroke-width="0.8"/>
<line x1="174.42" y1="181.40" x2="174.42" y2="183.40" stroke="#111" stroke-width="0.8"/>
<line x1="180.70" y1="181.40" x2="180.70" y2="183.40" stroke="#111" stroke-width="0.8"/>
<line x1="186.98" y1="181.40" x2="186.98" y2="183.40" stroke="#111" stroke-width="0.8"/>
<line x1="193.26" y1="181.40" x2="193.26" y2="183.40" stroke="#111" stroke-width="0.8"/>
<text x="0" y="0" font-size="6.6" fill="#111" stroke="#111" text-anchor="middle" transform="translate(130.46,189.40) scale(0.9,1)">10</text>
<text x="0" y="0" font-size="6.6" fill="#111" stroke="#111" text-anchor="middle" transform="translate(143.02,189.40) scale(0.9,1)">18</text>
<text x="0" y="0" font-size="6.6" fill="#111" stroke="#111" text-anchor="middle" transform="translate(155.58,189.40) scale(0.9,1)">26</text>
<text x="0" y="0" font-size="6.6" fill="#111" stroke="#111" text-anchor="middle" transform="translate(168.14,189.40) scale(0.9,1)">34</text>
<text x="0" y="0" font-size="6.6" fill="#111" stroke="#111" text-anchor="middle" transform="translate(180.70,189.40) scale(0.9,1)">42</text>
<text x="0" y="0" font-size="6.6" fill="#111" stroke="#111" text-anchor="middle" transform="translate(193.26,189.40) scale(0.9,1)">50</text>
<path d="M121.04,179.37 L127.32,179.37 L133.60,177.00 L139.88,177.67 L146.16,177.67 L152.44,177.51 L158.72,177.34 L165.00,177.17 L171.28,177.17 L177.56,177.17 L183.84,176.66 L190.12,177.34" stroke="#111" stroke-width="0.8" fill="none"/>
<circle cx="121.04" cy="179.37" r="1.2" fill="#111"/>
<circle cx="127.32" cy="179.37" r="1.2" fill="#111"/>
<circle cx="133.60" cy="177.00" r="1.2" fill="#111"/>
<circle cx="139.88" cy="177.67" r="1.2" fill="#111"/>
<circle cx="146.16" cy="177.67" r="1.2" fill="#111"/>
<circle cx="152.44" cy="177.51" r="1.2" fill="#111"/>
<circle cx="158.72" cy="177.34" r="1.2" fill="#111"/>
<circle cx="165.00" cy="177.17" r="1.2" fill="#111"/>
<circle cx="171.28" cy="177.17" r="1.2" fill="#111"/>
<circle cx="177.56" cy="177.17" r="1.2" fill="#111"/>
<circle cx="183.84" cy="176.66" r="1.2" fill="#111"/>
<circle cx="190.12" cy="177.34" r="1.2" fill="#111"/>
<path d="M121.04,178.35 L127.32,178.35 L133.60,175.98 L139.88,163.79 L146.16,160.74 L152.44,157.69 L158.72,158.37 L165.00,162.43 L171.28,162.77 L177.56,162.43 L183.84,162.43 L190.12,162.43" stroke="#a8252d" stroke-width="0.8" fill="none"/>
<line x1="121.04" y1="179.03" x2="121.04" y2="177.67" stroke="#a8252d" stroke-width="0.7"/>
<line x1="119.84" y1="177.67" x2="122.24" y2="177.67" stroke="#a8252d" stroke-width="0.7"/>
<line x1="119.84" y1="179.03" x2="122.24" y2="179.03" stroke="#a8252d" stroke-width="0.7"/>
<line x1="127.32" y1="179.03" x2="127.32" y2="177.67" stroke="#a8252d" stroke-width="0.7"/>
<line x1="126.12" y1="177.67" x2="128.52" y2="177.67" stroke="#a8252d" stroke-width="0.7"/>
<line x1="126.12" y1="179.03" x2="128.52" y2="179.03" stroke="#a8252d" stroke-width="0.7"/>
<line x1="133.60" y1="177.00" x2="133.60" y2="174.97" stroke="#a8252d" stroke-width="0.7"/>
<line x1="132.40" y1="174.97" x2="134.80" y2="174.97" stroke="#a8252d" stroke-width="0.7"/>
<line x1="132.40" y1="177.00" x2="134.80" y2="177.00" stroke="#a8252d" stroke-width="0.7"/>
<line x1="139.88" y1="165.82" x2="139.88" y2="161.76" stroke="#a8252d" stroke-width="0.7"/>
<line x1="138.68" y1="161.76" x2="141.08" y2="161.76" stroke="#a8252d" stroke-width="0.7"/>
<line x1="138.68" y1="165.82" x2="141.08" y2="165.82" stroke="#a8252d" stroke-width="0.7"/>
<line x1="146.16" y1="162.43" x2="146.16" y2="159.05" stroke="#a8252d" stroke-width="0.7"/>
<line x1="144.96" y1="159.05" x2="147.36" y2="159.05" stroke="#a8252d" stroke-width="0.7"/>
<line x1="144.96" y1="162.43" x2="147.36" y2="162.43" stroke="#a8252d" stroke-width="0.7"/>
<line x1="152.44" y1="159.39" x2="152.44" y2="156.00" stroke="#a8252d" stroke-width="0.7"/>
<line x1="151.24" y1="156.00" x2="153.64" y2="156.00" stroke="#a8252d" stroke-width="0.7"/>
<line x1="151.24" y1="159.39" x2="153.64" y2="159.39" stroke="#a8252d" stroke-width="0.7"/>
<line x1="158.72" y1="160.40" x2="158.72" y2="156.34" stroke="#a8252d" stroke-width="0.7"/>
<line x1="157.52" y1="156.34" x2="159.92" y2="156.34" stroke="#a8252d" stroke-width="0.7"/>
<line x1="157.52" y1="160.40" x2="159.92" y2="160.40" stroke="#a8252d" stroke-width="0.7"/>
<line x1="165.00" y1="164.13" x2="165.00" y2="160.74" stroke="#a8252d" stroke-width="0.7"/>
<line x1="163.80" y1="160.74" x2="166.20" y2="160.74" stroke="#a8252d" stroke-width="0.7"/>
<line x1="163.80" y1="164.13" x2="166.20" y2="164.13" stroke="#a8252d" stroke-width="0.7"/>
<line x1="171.28" y1="164.47" x2="171.28" y2="161.08" stroke="#a8252d" stroke-width="0.7"/>
<line x1="170.08" y1="161.08" x2="172.48" y2="161.08" stroke="#a8252d" stroke-width="0.7"/>
<line x1="170.08" y1="164.47" x2="172.48" y2="164.47" stroke="#a8252d" stroke-width="0.7"/>
<line x1="177.56" y1="164.47" x2="177.56" y2="160.40" stroke="#a8252d" stroke-width="0.7"/>
<line x1="176.36" y1="160.40" x2="178.76" y2="160.40" stroke="#a8252d" stroke-width="0.7"/>
<line x1="176.36" y1="164.47" x2="178.76" y2="164.47" stroke="#a8252d" stroke-width="0.7"/>
<line x1="183.84" y1="164.47" x2="183.84" y2="160.40" stroke="#a8252d" stroke-width="0.7"/>
<line x1="182.64" y1="160.40" x2="185.04" y2="160.40" stroke="#a8252d" stroke-width="0.7"/>
<line x1="182.64" y1="164.47" x2="185.04" y2="164.47" stroke="#a8252d" stroke-width="0.7"/>
<line x1="190.12" y1="164.47" x2="190.12" y2="160.40" stroke="#a8252d" stroke-width="0.7"/>
<line x1="188.92" y1="160.40" x2="191.32" y2="160.40" stroke="#a8252d" stroke-width="0.7"/>
<line x1="188.92" y1="164.47" x2="191.32" y2="164.47" stroke="#a8252d" stroke-width="0.7"/>
<circle cx="121.04" cy="178.35" r="1.2" fill="#a8252d"/>
<circle cx="127.32" cy="178.35" r="1.2" fill="#a8252d"/>
<circle cx="133.60" cy="175.98" r="1.2" fill="#a8252d"/>
<circle cx="139.88" cy="163.79" r="1.2" fill="#a8252d"/>
<circle cx="146.16" cy="160.74" r="1.2" fill="#a8252d"/>
<circle cx="152.44" cy="157.69" r="1.2" fill="#a8252d"/>
<circle cx="158.72" cy="158.37" r="1.2" fill="#a8252d"/>
<circle cx="165.00" cy="162.43" r="1.2" fill="#a8252d"/>
<circle cx="171.28" cy="162.77" r="1.2" fill="#a8252d"/>
<circle cx="177.56" cy="162.43" r="1.2" fill="#a8252d"/>
<circle cx="183.84" cy="162.43" r="1.2" fill="#a8252d"/>
<circle cx="190.12" cy="162.43" r="1.2" fill="#a8252d"/>
<path d="M121.04,175.47 L127.32,172.26 L133.60,160.74 L139.88,155.32 L146.16,153.29 L152.44,152.27 L158.72,151.26 L165.00,149.23" stroke="#2f40a0" stroke-width="0.8" fill="none"/>
<line x1="121.04" y1="176.49" x2="121.04" y2="174.46" stroke="#2f40a0" stroke-width="0.7"/>
<line x1="119.84" y1="174.46" x2="122.24" y2="174.46" stroke="#2f40a0" stroke-width="0.7"/>
<line x1="119.84" y1="176.49" x2="122.24" y2="176.49" stroke="#2f40a0" stroke-width="0.7"/>
<line x1="127.32" y1="173.27" x2="127.32" y2="171.24" stroke="#2f40a0" stroke-width="0.7"/>
<line x1="126.12" y1="171.24" x2="128.52" y2="171.24" stroke="#2f40a0" stroke-width="0.7"/>
<line x1="126.12" y1="173.27" x2="128.52" y2="173.27" stroke="#2f40a0" stroke-width="0.7"/>
<line x1="133.60" y1="162.43" x2="133.60" y2="159.05" stroke="#2f40a0" stroke-width="0.7"/>
<line x1="132.40" y1="159.05" x2="134.80" y2="159.05" stroke="#2f40a0" stroke-width="0.7"/>
<line x1="132.40" y1="162.43" x2="134.80" y2="162.43" stroke="#2f40a0" stroke-width="0.7"/>
<line x1="139.88" y1="157.02" x2="139.88" y2="153.63" stroke="#2f40a0" stroke-width="0.7"/>
<line x1="138.68" y1="153.63" x2="141.08" y2="153.63" stroke="#2f40a0" stroke-width="0.7"/>
<line x1="138.68" y1="157.02" x2="141.08" y2="157.02" stroke="#2f40a0" stroke-width="0.7"/>
<line x1="146.16" y1="154.98" x2="146.16" y2="151.60" stroke="#2f40a0" stroke-width="0.7"/>
<line x1="144.96" y1="151.60" x2="147.36" y2="151.60" stroke="#2f40a0" stroke-width="0.7"/>
<line x1="144.96" y1="154.98" x2="147.36" y2="154.98" stroke="#2f40a0" stroke-width="0.7"/>
<line x1="152.44" y1="153.97" x2="152.44" y2="150.58" stroke="#2f40a0" stroke-width="0.7"/>
<line x1="151.24" y1="150.58" x2="153.64" y2="150.58" stroke="#2f40a0" stroke-width="0.7"/>
<line x1="151.24" y1="153.97" x2="153.64" y2="153.97" stroke="#2f40a0" stroke-width="0.7"/>
<line x1="158.72" y1="152.61" x2="158.72" y2="149.90" stroke="#2f40a0" stroke-width="0.7"/>
<line x1="157.52" y1="149.90" x2="159.92" y2="149.90" stroke="#2f40a0" stroke-width="0.7"/>
<line x1="157.52" y1="152.61" x2="159.92" y2="152.61" stroke="#2f40a0" stroke-width="0.7"/>
<line x1="165.00" y1="151.26" x2="165.00" y2="147.19" stroke="#2f40a0" stroke-width="0.7"/>
<line x1="163.80" y1="147.19" x2="166.20" y2="147.19" stroke="#2f40a0" stroke-width="0.7"/>
<line x1="163.80" y1="151.26" x2="166.20" y2="151.26" stroke="#2f40a0" stroke-width="0.7"/>
<circle cx="121.04" cy="175.47" r="1.2" fill="#2f40a0"/>
<circle cx="127.32" cy="172.26" r="1.2" fill="#2f40a0"/>
<circle cx="133.60" cy="160.74" r="1.2" fill="#2f40a0"/>
<circle cx="139.88" cy="155.32" r="1.2" fill="#2f40a0"/>
<circle cx="146.16" cy="153.29" r="1.2" fill="#2f40a0"/>
<circle cx="152.44" cy="152.27" r="1.2" fill="#2f40a0"/>
<circle cx="158.72" cy="151.26" r="1.2" fill="#2f40a0"/>
<circle cx="165.00" cy="149.23" r="1.2" fill="#2f40a0"/>
<path d="M121.04,175.47 L127.32,167.18 L133.60,144.49 L139.88,142.79 L146.16,149.90 L152.44,153.63 L158.72,158.37 L165.00,160.74 L171.28,162.43 L177.56,162.43 L183.84,162.43 L190.12,162.43" stroke="#3b8a3f" stroke-width="0.8" fill="none"/>
<line x1="121.04" y1="176.49" x2="121.04" y2="174.46" stroke="#3b8a3f" stroke-width="0.7"/>
<line x1="119.84" y1="174.46" x2="122.24" y2="174.46" stroke="#3b8a3f" stroke-width="0.7"/>
<line x1="119.84" y1="176.49" x2="122.24" y2="176.49" stroke="#3b8a3f" stroke-width="0.7"/>
<line x1="127.32" y1="169.21" x2="127.32" y2="165.14" stroke="#3b8a3f" stroke-width="0.7"/>
<line x1="126.12" y1="165.14" x2="128.52" y2="165.14" stroke="#3b8a3f" stroke-width="0.7"/>
<line x1="126.12" y1="169.21" x2="128.52" y2="169.21" stroke="#3b8a3f" stroke-width="0.7"/>
<line x1="133.60" y1="146.52" x2="133.60" y2="142.45" stroke="#3b8a3f" stroke-width="0.7"/>
<line x1="132.40" y1="142.45" x2="134.80" y2="142.45" stroke="#3b8a3f" stroke-width="0.7"/>
<line x1="132.40" y1="146.52" x2="134.80" y2="146.52" stroke="#3b8a3f" stroke-width="0.7"/>
<line x1="139.88" y1="145.84" x2="139.88" y2="139.74" stroke="#3b8a3f" stroke-width="0.7"/>
<line x1="138.68" y1="139.74" x2="141.08" y2="139.74" stroke="#3b8a3f" stroke-width="0.7"/>
<line x1="138.68" y1="145.84" x2="141.08" y2="145.84" stroke="#3b8a3f" stroke-width="0.7"/>
<line x1="146.16" y1="151.94" x2="146.16" y2="147.87" stroke="#3b8a3f" stroke-width="0.7"/>
<line x1="144.96" y1="147.87" x2="147.36" y2="147.87" stroke="#3b8a3f" stroke-width="0.7"/>
<line x1="144.96" y1="151.94" x2="147.36" y2="151.94" stroke="#3b8a3f" stroke-width="0.7"/>
<line x1="152.44" y1="155.66" x2="152.44" y2="151.60" stroke="#3b8a3f" stroke-width="0.7"/>
<line x1="151.24" y1="151.60" x2="153.64" y2="151.60" stroke="#3b8a3f" stroke-width="0.7"/>
<line x1="151.24" y1="155.66" x2="153.64" y2="155.66" stroke="#3b8a3f" stroke-width="0.7"/>
<line x1="158.72" y1="160.40" x2="158.72" y2="156.34" stroke="#3b8a3f" stroke-width="0.7"/>
<line x1="157.52" y1="156.34" x2="159.92" y2="156.34" stroke="#3b8a3f" stroke-width="0.7"/>
<line x1="157.52" y1="160.40" x2="159.92" y2="160.40" stroke="#3b8a3f" stroke-width="0.7"/>
<line x1="165.00" y1="163.11" x2="165.00" y2="158.37" stroke="#3b8a3f" stroke-width="0.7"/>
<line x1="163.80" y1="158.37" x2="166.20" y2="158.37" stroke="#3b8a3f" stroke-width="0.7"/>
<line x1="163.80" y1="163.11" x2="166.20" y2="163.11" stroke="#3b8a3f" stroke-width="0.7"/>
<line x1="171.28" y1="165.14" x2="171.28" y2="159.73" stroke="#3b8a3f" stroke-width="0.7"/>
<line x1="170.08" y1="159.73" x2="172.48" y2="159.73" stroke="#3b8a3f" stroke-width="0.7"/>
<line x1="170.08" y1="165.14" x2="172.48" y2="165.14" stroke="#3b8a3f" stroke-width="0.7"/>
<line x1="177.56" y1="165.14" x2="177.56" y2="159.73" stroke="#3b8a3f" stroke-width="0.7"/>
<line x1="176.36" y1="159.73" x2="178.76" y2="159.73" stroke="#3b8a3f" stroke-width="0.7"/>
<line x1="176.36" y1="165.14" x2="178.76" y2="165.14" stroke="#3b8a3f" stroke-width="0.7"/>
<line x1="183.84" y1="165.48" x2="183.84" y2="159.39" stroke="#3b8a3f" stroke-width="0.7"/>
<line x1="182.64" y1="159.39" x2="185.04" y2="159.39" stroke="#3b8a3f" stroke-width="0.7"/>
<line x1="182.64" y1="165.48" x2="185.04" y2="165.48" stroke="#3b8a3f" stroke-width="0.7"/>
<line x1="190.12" y1="165.48" x2="190.12" y2="159.39" stroke="#3b8a3f" stroke-width="0.7"/>
<line x1="188.92" y1="159.39" x2="191.32" y2="159.39" stroke="#3b8a3f" stroke-width="0.7"/>
<line x1="188.92" y1="165.48" x2="191.32" y2="165.48" stroke="#3b8a3f" stroke-width="0.7"/>
<circle cx="121.04" cy="175.47" r="1.2" fill="#3b8a3f"/>
<circle cx="127.32" cy="167.18" r="1.2" fill="#3b8a3f"/>
<circle cx="133.60" cy="144.49" r="1.2" fill="#3b8a3f"/>
<circle cx="139.88" cy="142.79" r="1.2" fill="#3b8a3f"/>
<circle cx="146.16" cy="149.90" r="1.2" fill="#3b8a3f"/>
<circle cx="152.44" cy="153.63" r="1.2" fill="#3b8a3f"/>
<circle cx="158.72" cy="158.37" r="1.2" fill="#3b8a3f"/>
<circle cx="165.00" cy="160.74" r="1.2" fill="#3b8a3f"/>
<circle cx="171.28" cy="162.43" r="1.2" fill="#3b8a3f"/>
<circle cx="177.56" cy="162.43" r="1.2" fill="#3b8a3f"/>
<circle cx="183.84" cy="162.43" r="1.2" fill="#3b8a3f"/>
<circle cx="190.12" cy="162.43" r="1.2" fill="#3b8a3f"/>
<text x="258" y="119.0" font-size="7" fill="#111" stroke="#111" text-anchor="middle">neutrophils (x10<tspan baseline-shift="2.8" font-size="5.0">9</tspan>/L)</text>
<line x1="217.80" y1="130.10" x2="217.80" y2="181.40" stroke="#111" stroke-width="0.8"/>
<line x1="215.80" y1="181.40" x2="217.80" y2="181.40" stroke="#111" stroke-width="0.8"/>
<text x="0" y="0" font-size="6.5" fill="#111" stroke="#111" text-anchor="end" transform="translate(215.40,183.70) scale(0.9,1)">0</text>
<line x1="215.80" y1="171.24" x2="217.80" y2="171.24" stroke="#111" stroke-width="0.8"/>
<text x="0" y="0" font-size="6.5" fill="#111" stroke="#111" text-anchor="end" transform="translate(215.40,173.54) scale(0.9,1)">10</text>
<line x1="215.80" y1="161.08" x2="217.80" y2="161.08" stroke="#111" stroke-width="0.8"/>
<text x="0" y="0" font-size="6.5" fill="#111" stroke="#111" text-anchor="end" transform="translate(215.40,163.38) scale(0.9,1)">20</text>
<line x1="215.80" y1="150.92" x2="217.80" y2="150.92" stroke="#111" stroke-width="0.8"/>
<text x="0" y="0" font-size="6.5" fill="#111" stroke="#111" text-anchor="end" transform="translate(215.40,153.22) scale(0.9,1)">30</text>
<line x1="215.80" y1="140.76" x2="217.80" y2="140.76" stroke="#111" stroke-width="0.8"/>
<text x="0" y="0" font-size="6.5" fill="#111" stroke="#111" text-anchor="end" transform="translate(215.40,143.06) scale(0.9,1)">40</text>
<line x1="215.80" y1="130.60" x2="217.80" y2="130.60" stroke="#111" stroke-width="0.8"/>
<text x="0" y="0" font-size="6.5" fill="#111" stroke="#111" text-anchor="end" transform="translate(215.40,132.90) scale(0.9,1)">50</text>
<line x1="217.80" y1="181.40" x2="293.16" y2="181.40" stroke="#111" stroke-width="0.8"/>
<line x1="217.80" y1="181.40" x2="217.80" y2="183.40" stroke="#111" stroke-width="0.8"/>
<line x1="224.08" y1="181.40" x2="224.08" y2="183.40" stroke="#111" stroke-width="0.8"/>
<line x1="230.36" y1="181.40" x2="230.36" y2="183.40" stroke="#111" stroke-width="0.8"/>
<line x1="236.64" y1="181.40" x2="236.64" y2="183.40" stroke="#111" stroke-width="0.8"/>
<line x1="242.92" y1="181.40" x2="242.92" y2="183.40" stroke="#111" stroke-width="0.8"/>
<line x1="249.20" y1="181.40" x2="249.20" y2="183.40" stroke="#111" stroke-width="0.8"/>
<line x1="255.48" y1="181.40" x2="255.48" y2="183.40" stroke="#111" stroke-width="0.8"/>
<line x1="261.76" y1="181.40" x2="261.76" y2="183.40" stroke="#111" stroke-width="0.8"/>
<line x1="268.04" y1="181.40" x2="268.04" y2="183.40" stroke="#111" stroke-width="0.8"/>
<line x1="274.32" y1="181.40" x2="274.32" y2="183.40" stroke="#111" stroke-width="0.8"/>
<line x1="280.60" y1="181.40" x2="280.60" y2="183.40" stroke="#111" stroke-width="0.8"/>
<line x1="286.88" y1="181.40" x2="286.88" y2="183.40" stroke="#111" stroke-width="0.8"/>
<line x1="293.16" y1="181.40" x2="293.16" y2="183.40" stroke="#111" stroke-width="0.8"/>
<text x="0" y="0" font-size="6.6" fill="#111" stroke="#111" text-anchor="middle" transform="translate(230.36,189.40) scale(0.9,1)">10</text>
<text x="0" y="0" font-size="6.6" fill="#111" stroke="#111" text-anchor="middle" transform="translate(242.92,189.40) scale(0.9,1)">18</text>
<text x="0" y="0" font-size="6.6" fill="#111" stroke="#111" text-anchor="middle" transform="translate(255.48,189.40) scale(0.9,1)">26</text>
<text x="0" y="0" font-size="6.6" fill="#111" stroke="#111" text-anchor="middle" transform="translate(268.04,189.40) scale(0.9,1)">34</text>
<text x="0" y="0" font-size="6.6" fill="#111" stroke="#111" text-anchor="middle" transform="translate(280.60,189.40) scale(0.9,1)">42</text>
<text x="0" y="0" font-size="6.6" fill="#111" stroke="#111" text-anchor="middle" transform="translate(293.16,189.40) scale(0.9,1)">50</text>
<path d="M220.94,180.89 L227.22,180.89 L233.50,180.89 L239.78,180.89 L246.06,180.89 L252.34,180.89 L258.62,180.89 L264.90,180.89 L271.18,180.89 L277.46,180.89 L283.74,180.89 L290.02,180.89" stroke="#111" stroke-width="0.8" fill="none"/>
<circle cx="220.94" cy="180.89" r="1.2" fill="#111"/>
<circle cx="227.22" cy="180.89" r="1.2" fill="#111"/>
<circle cx="233.50" cy="180.89" r="1.2" fill="#111"/>
<circle cx="239.78" cy="180.89" r="1.2" fill="#111"/>
<circle cx="246.06" cy="180.89" r="1.2" fill="#111"/>
<circle cx="252.34" cy="180.89" r="1.2" fill="#111"/>
<circle cx="258.62" cy="180.89" r="1.2" fill="#111"/>
<circle cx="264.90" cy="180.89" r="1.2" fill="#111"/>
<circle cx="271.18" cy="180.89" r="1.2" fill="#111"/>
<circle cx="277.46" cy="180.89" r="1.2" fill="#111"/>
<circle cx="283.74" cy="180.89" r="1.2" fill="#111"/>
<circle cx="290.02" cy="180.89" r="1.2" fill="#111"/>
<path d="M220.94,180.38 L227.22,180.38 L233.50,180.38 L239.78,179.37 L246.06,178.35 L252.34,177.34 L258.62,176.32 L264.90,175.81 L271.18,175.30 L277.46,174.80 L283.74,174.80 L290.02,175.30" stroke="#a8252d" stroke-width="0.8" fill="none"/>
<circle cx="220.94" cy="180.38" r="1.2" fill="#a8252d"/>
<circle cx="227.22" cy="180.38" r="1.2" fill="#a8252d"/>
<circle cx="233.50" cy="180.38" r="1.2" fill="#a8252d"/>
<circle cx="239.78" cy="179.37" r="1.2" fill="#a8252d"/>
<circle cx="246.06" cy="178.35" r="1.2" fill="#a8252d"/>
<circle cx="252.34" cy="177.34" r="1.2" fill="#a8252d"/>
<circle cx="258.62" cy="176.32" r="1.2" fill="#a8252d"/>
<circle cx="264.90" cy="175.81" r="1.2" fill="#a8252d"/>
<circle cx="271.18" cy="175.30" r="1.2" fill="#a8252d"/>
<circle cx="277.46" cy="174.80" r="1.2" fill="#a8252d"/>
<circle cx="283.74" cy="174.80" r="1.2" fill="#a8252d"/>
<circle cx="290.02" cy="175.30" r="1.2" fill="#a8252d"/>
<path d="M220.94,179.37 L227.22,178.35 L233.50,178.35 L239.78,173.68 L246.06,172.15 L252.34,174.29 L258.62,175.81" stroke="#2f40a0" stroke-width="0.8" fill="none"/>
<line x1="220.94" y1="180.38" x2="220.94" y2="178.35" stroke="#2f40a0" stroke-width="0.7"/>
<line x1="219.74" y1="178.35" x2="222.14" y2="178.35" stroke="#2f40a0" stroke-width="0.7"/>
<line x1="219.74" y1="180.38" x2="222.14" y2="180.38" stroke="#2f40a0" stroke-width="0.7"/>
<line x1="227.22" y1="179.37" x2="227.22" y2="177.34" stroke="#2f40a0" stroke-width="0.7"/>
<line x1="226.02" y1="177.34" x2="228.42" y2="177.34" stroke="#2f40a0" stroke-width="0.7"/>
<line x1="226.02" y1="179.37" x2="228.42" y2="179.37" stroke="#2f40a0" stroke-width="0.7"/>
<line x1="233.50" y1="179.37" x2="233.50" y2="177.34" stroke="#2f40a0" stroke-width="0.7"/>
<line x1="232.30" y1="177.34" x2="234.70" y2="177.34" stroke="#2f40a0" stroke-width="0.7"/>
<line x1="232.30" y1="179.37" x2="234.70" y2="179.37" stroke="#2f40a0" stroke-width="0.7"/>
<line x1="239.78" y1="175.71" x2="239.78" y2="171.65" stroke="#2f40a0" stroke-width="0.7"/>
<line x1="238.58" y1="171.65" x2="240.98" y2="171.65" stroke="#2f40a0" stroke-width="0.7"/>
<line x1="238.58" y1="175.71" x2="240.98" y2="175.71" stroke="#2f40a0" stroke-width="0.7"/>
<line x1="246.06" y1="174.69" x2="246.06" y2="169.61" stroke="#2f40a0" stroke-width="0.7"/>
<line x1="244.86" y1="169.61" x2="247.26" y2="169.61" stroke="#2f40a0" stroke-width="0.7"/>
<line x1="244.86" y1="174.69" x2="247.26" y2="174.69" stroke="#2f40a0" stroke-width="0.7"/>
<line x1="252.34" y1="176.32" x2="252.34" y2="172.26" stroke="#2f40a0" stroke-width="0.7"/>
<line x1="251.14" y1="172.26" x2="253.54" y2="172.26" stroke="#2f40a0" stroke-width="0.7"/>
<line x1="251.14" y1="176.32" x2="253.54" y2="176.32" stroke="#2f40a0" stroke-width="0.7"/>
<line x1="258.62" y1="177.84" x2="258.62" y2="173.78" stroke="#2f40a0" stroke-width="0.7"/>
<line x1="257.42" y1="173.78" x2="259.82" y2="173.78" stroke="#2f40a0" stroke-width="0.7"/>
<line x1="257.42" y1="177.84" x2="259.82" y2="177.84" stroke="#2f40a0" stroke-width="0.7"/>
<circle cx="220.94" cy="179.37" r="1.2" fill="#2f40a0"/>
<circle cx="227.22" cy="178.35" r="1.2" fill="#2f40a0"/>
<circle cx="233.50" cy="178.35" r="1.2" fill="#2f40a0"/>
<circle cx="239.78" cy="173.68" r="1.2" fill="#2f40a0"/>
<circle cx="246.06" cy="172.15" r="1.2" fill="#2f40a0"/>
<circle cx="252.34" cy="174.29" r="1.2" fill="#2f40a0"/>
<circle cx="258.62" cy="175.81" r="1.2" fill="#2f40a0"/>
<path d="M220.94,177.54 L227.22,175.20 L233.50,172.15 L239.78,173.68 L246.06,173.17 L252.34,173.78 L258.62,174.49 L264.90,174.49 L271.18,173.27 L277.46,172.26 L283.74,171.75 L290.02,175.41" stroke="#3b8a3f" stroke-width="0.8" fill="none"/>
<line x1="220.94" y1="178.56" x2="220.94" y2="176.52" stroke="#3b8a3f" stroke-width="0.7"/>
<line x1="219.74" y1="176.52" x2="222.14" y2="176.52" stroke="#3b8a3f" stroke-width="0.7"/>
<line x1="219.74" y1="178.56" x2="222.14" y2="178.56" stroke="#3b8a3f" stroke-width="0.7"/>
<line x1="227.22" y1="176.22" x2="227.22" y2="174.19" stroke="#3b8a3f" stroke-width="0.7"/>
<line x1="226.02" y1="174.19" x2="228.42" y2="174.19" stroke="#3b8a3f" stroke-width="0.7"/>
<line x1="226.02" y1="176.22" x2="228.42" y2="176.22" stroke="#3b8a3f" stroke-width="0.7"/>
<line x1="233.50" y1="173.68" x2="233.50" y2="170.63" stroke="#3b8a3f" stroke-width="0.7"/>
<line x1="232.30" y1="170.63" x2="234.70" y2="170.63" stroke="#3b8a3f" stroke-width="0.7"/>
<line x1="232.30" y1="173.68" x2="234.70" y2="173.68" stroke="#3b8a3f" stroke-width="0.7"/>
<line x1="239.78" y1="175.20" x2="239.78" y2="172.15" stroke="#3b8a3f" stroke-width="0.7"/>
<line x1="238.58" y1="172.15" x2="240.98" y2="172.15" stroke="#3b8a3f" stroke-width="0.7"/>
<line x1="238.58" y1="175.20" x2="240.98" y2="175.20" stroke="#3b8a3f" stroke-width="0.7"/>
<line x1="246.06" y1="175.20" x2="246.06" y2="171.14" stroke="#3b8a3f" stroke-width="0.7"/>
<line x1="244.86" y1="171.14" x2="247.26" y2="171.14" stroke="#3b8a3f" stroke-width="0.7"/>
<line x1="244.86" y1="175.20" x2="247.26" y2="175.20" stroke="#3b8a3f" stroke-width="0.7"/>
<line x1="252.34" y1="175.81" x2="252.34" y2="171.75" stroke="#3b8a3f" stroke-width="0.7"/>
<line x1="251.14" y1="171.75" x2="253.54" y2="171.75" stroke="#3b8a3f" stroke-width="0.7"/>
<line x1="251.14" y1="175.81" x2="253.54" y2="175.81" stroke="#3b8a3f" stroke-width="0.7"/>
<line x1="258.62" y1="176.52" x2="258.62" y2="172.46" stroke="#3b8a3f" stroke-width="0.7"/>
<line x1="257.42" y1="172.46" x2="259.82" y2="172.46" stroke="#3b8a3f" stroke-width="0.7"/>
<line x1="257.42" y1="176.52" x2="259.82" y2="176.52" stroke="#3b8a3f" stroke-width="0.7"/>
<line x1="264.90" y1="176.52" x2="264.90" y2="172.46" stroke="#3b8a3f" stroke-width="0.7"/>
<line x1="263.70" y1="172.46" x2="266.10" y2="172.46" stroke="#3b8a3f" stroke-width="0.7"/>
<line x1="263.70" y1="176.52" x2="266.10" y2="176.52" stroke="#3b8a3f" stroke-width="0.7"/>
<line x1="271.18" y1="175.81" x2="271.18" y2="170.73" stroke="#3b8a3f" stroke-width="0.7"/>
<line x1="269.98" y1="170.73" x2="272.38" y2="170.73" stroke="#3b8a3f" stroke-width="0.7"/>
<line x1="269.98" y1="175.81" x2="272.38" y2="175.81" stroke="#3b8a3f" stroke-width="0.7"/>
<line x1="277.46" y1="175.30" x2="277.46" y2="169.21" stroke="#3b8a3f" stroke-width="0.7"/>
<line x1="276.26" y1="169.21" x2="278.66" y2="169.21" stroke="#3b8a3f" stroke-width="0.7"/>
<line x1="276.26" y1="175.30" x2="278.66" y2="175.30" stroke="#3b8a3f" stroke-width="0.7"/>
<line x1="283.74" y1="174.80" x2="283.74" y2="168.70" stroke="#3b8a3f" stroke-width="0.7"/>
<line x1="282.54" y1="168.70" x2="284.94" y2="168.70" stroke="#3b8a3f" stroke-width="0.7"/>
<line x1="282.54" y1="174.80" x2="284.94" y2="174.80" stroke="#3b8a3f" stroke-width="0.7"/>
<line x1="290.02" y1="177.44" x2="290.02" y2="173.37" stroke="#3b8a3f" stroke-width="0.7"/>
<line x1="288.82" y1="173.37" x2="291.22" y2="173.37" stroke="#3b8a3f" stroke-width="0.7"/>
<line x1="288.82" y1="177.44" x2="291.22" y2="177.44" stroke="#3b8a3f" stroke-width="0.7"/>
<circle cx="220.94" cy="177.54" r="1.2" fill="#3b8a3f"/>
<circle cx="227.22" cy="175.20" r="1.2" fill="#3b8a3f"/>
<circle cx="233.50" cy="172.15" r="1.2" fill="#3b8a3f"/>
<circle cx="239.78" cy="173.68" r="1.2" fill="#3b8a3f"/>
<circle cx="246.06" cy="173.17" r="1.2" fill="#3b8a3f"/>
<circle cx="252.34" cy="173.78" r="1.2" fill="#3b8a3f"/>
<circle cx="258.62" cy="174.49" r="1.2" fill="#3b8a3f"/>
<circle cx="264.90" cy="174.49" r="1.2" fill="#3b8a3f"/>
<circle cx="271.18" cy="173.27" r="1.2" fill="#3b8a3f"/>
<circle cx="277.46" cy="172.26" r="1.2" fill="#3b8a3f"/>
<circle cx="283.74" cy="171.75" r="1.2" fill="#3b8a3f"/>
<circle cx="290.02" cy="175.41" r="1.2" fill="#3b8a3f"/>
<text x="347.5" y="119.0" font-size="7" fill="#111" stroke="#111" text-anchor="middle">% of survival</text>
<line x1="321.50" y1="130.60" x2="321.50" y2="181.10" stroke="#111" stroke-width="0.8"/>
<line x1="319.50" y1="181.10" x2="321.50" y2="181.10" stroke="#111" stroke-width="0.8"/>
<text x="0" y="0" font-size="6.5" fill="#111" stroke="#111" text-anchor="end" transform="translate(319.10,183.40) scale(0.9,1)">0</text>
<line x1="319.50" y1="168.60" x2="321.50" y2="168.60" stroke="#111" stroke-width="0.8"/>
<text x="0" y="0" font-size="6.5" fill="#111" stroke="#111" text-anchor="end" transform="translate(319.10,170.90) scale(0.9,1)">25</text>
<line x1="319.50" y1="156.10" x2="321.50" y2="156.10" stroke="#111" stroke-width="0.8"/>
<text x="0" y="0" font-size="6.5" fill="#111" stroke="#111" text-anchor="end" transform="translate(319.10,158.40) scale(0.9,1)">50</text>
<line x1="319.50" y1="143.60" x2="321.50" y2="143.60" stroke="#111" stroke-width="0.8"/>
<text x="0" y="0" font-size="6.5" fill="#111" stroke="#111" text-anchor="end" transform="translate(319.10,145.90) scale(0.9,1)">75</text>
<line x1="319.50" y1="131.10" x2="321.50" y2="131.10" stroke="#111" stroke-width="0.8"/>
<text x="0" y="0" font-size="6.5" fill="#111" stroke="#111" text-anchor="end" transform="translate(319.10,133.40) scale(0.9,1)">100</text>
<line x1="321.50" y1="181.10" x2="397.10" y2="181.10" stroke="#111" stroke-width="0.8"/>
<line x1="321.50" y1="181.10" x2="321.50" y2="183.10" stroke="#111" stroke-width="0.8"/>
<line x1="327.80" y1="181.10" x2="327.80" y2="183.10" stroke="#111" stroke-width="0.8"/>
<line x1="334.10" y1="181.10" x2="334.10" y2="183.10" stroke="#111" stroke-width="0.8"/>
<line x1="340.40" y1="181.10" x2="340.40" y2="183.10" stroke="#111" stroke-width="0.8"/>
<line x1="346.70" y1="181.10" x2="346.70" y2="183.10" stroke="#111" stroke-width="0.8"/>
<line x1="353.00" y1="181.10" x2="353.00" y2="183.10" stroke="#111" stroke-width="0.8"/>
<line x1="359.30" y1="181.10" x2="359.30" y2="183.10" stroke="#111" stroke-width="0.8"/>
<line x1="365.60" y1="181.10" x2="365.60" y2="183.10" stroke="#111" stroke-width="0.8"/>
<line x1="371.90" y1="181.10" x2="371.90" y2="183.10" stroke="#111" stroke-width="0.8"/>
<line x1="378.20" y1="181.10" x2="378.20" y2="183.10" stroke="#111" stroke-width="0.8"/>
<line x1="384.50" y1="181.10" x2="384.50" y2="183.10" stroke="#111" stroke-width="0.8"/>
<line x1="390.80" y1="181.10" x2="390.80" y2="183.10" stroke="#111" stroke-width="0.8"/>
<line x1="397.10" y1="181.10" x2="397.10" y2="183.10" stroke="#111" stroke-width="0.8"/>
<text x="0" y="0" font-size="6.6" fill="#111" stroke="#111" text-anchor="middle" transform="translate(334.10,189.10) scale(0.9,1)">10</text>
<text x="0" y="0" font-size="6.6" fill="#111" stroke="#111" text-anchor="middle" transform="translate(346.70,189.10) scale(0.9,1)">18</text>
<text x="0" y="0" font-size="6.6" fill="#111" stroke="#111" text-anchor="middle" transform="translate(359.30,189.10) scale(0.9,1)">26</text>
<text x="0" y="0" font-size="6.6" fill="#111" stroke="#111" text-anchor="middle" transform="translate(371.90,189.10) scale(0.9,1)">34</text>
<text x="0" y="0" font-size="6.6" fill="#111" stroke="#111" text-anchor="middle" transform="translate(384.50,189.10) scale(0.9,1)">42</text>
<text x="0" y="0" font-size="6.6" fill="#111" stroke="#111" text-anchor="middle" transform="translate(397.10,189.10) scale(0.9,1)">50</text>
<text x="361.5" y="195.6" font-size="6.3" fill="#111" stroke="#111" text-anchor="middle">weeks after transplantation</text>
<path d="M321.50,131.10 H341.66 V131.10 H341.68 V139.60 H394.74 V139.60" stroke="#6070a8" stroke-width="0.8" fill="none"/>
<path d="M321.50,131.10 H344.65 V131.10 H344.67 V136.20 H356.15 V136.20 H356.17 V137.60 H368.28 V137.60 H368.29 V141.00 H373.63 V141.00 H373.65 V146.20 H375.84 V146.20 H375.85 V147.90 H380.40 V147.90 H381.51 V150.80 H387.33 V150.80 H388.60 V153.10 H393.63 V153.10 H394.26 V156.00 H394.74 V156.00" stroke="#7e9a7e" stroke-width="0.8" fill="none"/>
<path d="M321.50,131.10 H356.15 V131.10 H356.17 V134.10 H368.28 V134.10 H368.29 V137.50 H384.97 V137.50 H384.99 V143.90 H390.80 V143.90 H390.82 V147.30 H393.16 V147.30 H393.18 V151.40 H394.74 V151.40" stroke="#a05560" stroke-width="0.8" fill="none"/>
<path d="M321.50,131.10 H391.27 V131.10 H391.29 V133.20 H394.74 V133.20" stroke="#222" stroke-width="0.8" fill="none"/>
<text x="412.8" y="109.2" font-size="10.5" fill="#111" stroke="#111" font-weight="bold" style="stroke-width:0.4px">D</text>
<text x="426.7" y="108.4" font-size="7" fill="#111" stroke="#111">Ratio of human/mouse</text>
<text x="426.7" y="116.1" font-size="7" fill="#111" stroke="#111">Jak2 mRNA expression</text>
<line x1="426.50" y1="130.20" x2="426.50" y2="182.10" stroke="#111" stroke-width="0.8"/>
<line x1="424.50" y1="182.10" x2="426.50" y2="182.10" stroke="#111" stroke-width="0.8"/>
<text x="0" y="0" font-size="6.5" fill="#111" stroke="#111" text-anchor="end" transform="translate(424.10,184.40) scale(0.9,1)">0.0</text>
<line x1="424.50" y1="169.25" x2="426.50" y2="169.25" stroke="#111" stroke-width="0.8"/>
<text x="0" y="0" font-size="6.5" fill="#111" stroke="#111" text-anchor="end" transform="translate(424.10,171.55) scale(0.9,1)">0.5</text>
<line x1="424.50" y1="156.40" x2="426.50" y2="156.40" stroke="#111" stroke-width="0.8"/>
<text x="0" y="0" font-size="6.5" fill="#111" stroke="#111" text-anchor="end" transform="translate(424.10,158.70) scale(0.9,1)">1.0</text>
<line x1="424.50" y1="143.55" x2="426.50" y2="143.55" stroke="#111" stroke-width="0.8"/>
<text x="0" y="0" font-size="6.5" fill="#111" stroke="#111" text-anchor="end" transform="translate(424.10,145.85) scale(0.9,1)">1.5</text>
<line x1="424.50" y1="130.70" x2="426.50" y2="130.70" stroke="#111" stroke-width="0.8"/>
<text x="0" y="0" font-size="6.5" fill="#111" stroke="#111" text-anchor="end" transform="translate(424.10,133.00) scale(0.9,1)">2.0</text>
<line x1="426.50" y1="182.10" x2="505.30" y2="182.10" stroke="#111" stroke-width="0.8"/>
<circle cx="447.50" cy="167.19" r="1.55" fill="#111"/>
<circle cx="450.00" cy="166.17" r="1.55" fill="#111"/>
<line x1="442.50" y1="166.68" x2="451.50" y2="166.68" stroke="#111" stroke-width="0.8"/>
<text x="447" y="189.3" font-size="6.3" fill="#111" stroke="#111" text-anchor="middle">35</text>
<circle cx="469.60" cy="134.04" r="1.55" fill="#111"/>
<circle cx="469.60" cy="142.26" r="1.55" fill="#111"/>
<line x1="465.10" y1="138.41" x2="474.10" y2="138.41" stroke="#111" stroke-width="0.8"/>
<text x="469.6" y="189.3" font-size="6.3" fill="#111" stroke="#111" text-anchor="middle">35</text>
<circle cx="492.40" cy="171.31" r="1.55" fill="#111"/>
<circle cx="492.40" cy="175.67" r="1.55" fill="#111"/>
<line x1="487.90" y1="173.62" x2="496.90" y2="173.62" stroke="#111" stroke-width="0.8"/>
<text x="492.4" y="189.3" font-size="6.3" fill="#111" stroke="#111" text-anchor="middle">35</text>
<text x="500.4" y="189.3" font-size="6.3" fill="#111" stroke="#111">weeks</text>
<line x1="441.20" y1="191.80" x2="452.20" y2="191.80" stroke="#555" stroke-width="1.2"/>
<text x="446.7" y="199.8" font-size="7" fill="#b84858" stroke="#b84858" text-anchor="middle">Mx</text>
<line x1="464.40" y1="191.80" x2="475.80" y2="191.80" stroke="#555" stroke-width="1.2"/>
<text x="470.1" y="199.8" font-size="7" fill="#6f9a55" stroke="#6f9a55" text-anchor="middle">Scl</text>
<line x1="486.50" y1="191.80" x2="497.90" y2="191.80" stroke="#555" stroke-width="1.2"/>
<text x="492.2" y="199.8" font-size="7" fill="#50509a" stroke="#50509a" text-anchor="middle">Vav</text>
<path d="M443.7,130 V125.7 H467.4 V130" stroke="#888" stroke-width="0.8" fill="none"/>
<path d="M472.5,130 V125.7 H496.2 V130" stroke="#888" stroke-width="0.8" fill="none"/>
<text x="455.4" y="126.7" font-size="8.5" fill="#111" stroke="#111" text-anchor="middle" font-weight="bold" style="stroke-width:0px">*</text>
<text x="484.2" y="126.7" font-size="8.5" fill="#111" stroke="#111" text-anchor="middle" font-weight="bold" style="stroke-width:0px">*</text>
<text x="7.6" y="214.4" font-size="10.5" fill="#111" stroke="#111" font-weight="bold" style="stroke-width:0.4px">E</text>
<text x="18" y="213.1" font-size="7" fill="#111" stroke="#111" textLength="254.5" lengthAdjust="spacingAndGlyphs">Colony assays of bone marrow at 10 weeks after induction with plpC or tamoxifen</text>
<text x="60.3" y="223.7" font-size="7" fill="#111" stroke="#111" text-anchor="middle">Erythroid colonies</text>
<text x="61.3" y="232.8" font-size="7" fill="#111" stroke="#111" text-anchor="middle">(per 2x10<tspan baseline-shift="2.8" font-size="5.0">5</tspan> cells)</text>
<text x="45.0" y="246.4" font-size="6.6" fill="#111" stroke="#111" text-anchor="middle">BFU-E</text>
<text x="88.0" y="266.0" font-size="6.4" fill="#111" stroke="#111" text-anchor="middle">CFU-E</text>
<text x="88.2" y="273.7" font-size="6.4" fill="#111" stroke="#111" text-anchor="middle">w/o Epo</text>
<rect x="23.30" y="286.65" width="9.60" height="11.75" fill="#a9a9a9"/>
<rect x="32.90" y="275.70" width="9.50" height="22.70" fill="#a3232b"/>
<line x1="37.65" y1="275.70" x2="37.65" y2="274.57" stroke="#a3232b" stroke-width="0.8"/>
<line x1="35.45" y1="274.57" x2="39.85" y2="274.57" stroke="#a3232b" stroke-width="0.9"/>
<text x="37.65" y="274.188" font-size="6.4" fill="#111" stroke="#111" text-anchor="middle" font-weight="bold" style="stroke-width:0px">***</text>
<rect x="42.40" y="256.70" width="10.30" height="41.70" fill="#2b7f3d"/>
<line x1="47.55" y1="256.70" x2="47.55" y2="255.09" stroke="#2b7f3d" stroke-width="0.8"/>
<line x1="45.35" y1="255.09" x2="49.75" y2="255.09" stroke="#2b7f3d" stroke-width="0.9"/>
<text x="47.55" y="255.188" font-size="6.4" fill="#111" stroke="#111" text-anchor="middle" font-weight="bold" style="stroke-width:0px">***</text>
<rect x="52.70" y="281.66" width="9.10" height="16.74" fill="#2c37a6"/>
<line x1="57.25" y1="281.66" x2="57.25" y2="280.85" stroke="#2c37a6" stroke-width="0.8"/>
<line x1="55.05" y1="280.85" x2="59.45" y2="280.85" stroke="#2c37a6" stroke-width="0.9"/>
<text x="57.25" y="280.488" font-size="6.4" fill="#111" stroke="#111" text-anchor="middle" font-weight="bold" style="stroke-width:0px">*</text>
<rect x="65.60" y="298.16" width="10.25" height="0.24" fill="#a9a9a9"/>
<rect x="75.85" y="289.54" width="9.30" height="8.86" fill="#a3232b"/>
<line x1="80.50" y1="289.54" x2="80.50" y2="288.58" stroke="#a3232b" stroke-width="0.8"/>
<line x1="78.30" y1="288.58" x2="82.70" y2="288.58" stroke="#a3232b" stroke-width="0.9"/>
<text x="80.5" y="288.388" font-size="6.4" fill="#111" stroke="#111" text-anchor="middle" font-weight="bold" style="stroke-width:0px">***</text>
<rect x="85.15" y="286.32" width="10.60" height="12.07" fill="#2b7f3d"/>
<line x1="90.45" y1="286.32" x2="90.45" y2="285.36" stroke="#2b7f3d" stroke-width="0.8"/>
<line x1="88.25" y1="285.36" x2="92.65" y2="285.36" stroke="#2b7f3d" stroke-width="0.9"/>
<text x="90.45" y="285.688" font-size="6.4" fill="#111" stroke="#111" text-anchor="middle" font-weight="bold" style="stroke-width:0px">***</text>
<rect x="95.75" y="296.95" width="8.95" height="1.45" fill="#2c37a6"/>
<line x1="100.22" y1="296.95" x2="100.22" y2="296.63" stroke="#2c37a6" stroke-width="0.8"/>
<line x1="98.02" y1="296.63" x2="102.42" y2="296.63" stroke="#2c37a6" stroke-width="0.9"/>
<line x1="22.20" y1="242.30" x2="22.20" y2="298.40" stroke="#111" stroke-width="0.8"/>
<line x1="20.20" y1="298.40" x2="22.20" y2="298.40" stroke="#111" stroke-width="0.8"/>
<text x="0" y="0" font-size="6.5" fill="#111" stroke="#111" text-anchor="end" transform="translate(19.80,300.70) scale(0.9,1)">0</text>
<line x1="20.20" y1="282.30" x2="22.20" y2="282.30" stroke="#111" stroke-width="0.8"/>
<text x="0" y="0" font-size="6.5" fill="#111" stroke="#111" text-anchor="end" transform="translate(19.80,284.60) scale(0.9,1)">100</text>
<line x1="20.20" y1="266.20" x2="22.20" y2="266.20" stroke="#111" stroke-width="0.8"/>
<text x="0" y="0" font-size="6.5" fill="#111" stroke="#111" text-anchor="end" transform="translate(19.80,268.50) scale(0.9,1)">200</text>
<line x1="20.20" y1="250.10" x2="22.20" y2="250.10" stroke="#111" stroke-width="0.8"/>
<text x="0" y="0" font-size="6.5" fill="#111" stroke="#111" text-anchor="end" transform="translate(19.80,252.40) scale(0.9,1)">300</text>
<line x1="20.20" y1="290.35" x2="22.20" y2="290.35" stroke="#111" stroke-width="0.8"/>
<line x1="20.20" y1="274.25" x2="22.20" y2="274.25" stroke="#111" stroke-width="0.8"/>
<line x1="20.20" y1="258.15" x2="22.20" y2="258.15" stroke="#111" stroke-width="0.8"/>
<line x1="20.20" y1="242.05" x2="22.20" y2="242.05" stroke="#111" stroke-width="0.8"/>
<line x1="22.20" y1="298.40" x2="105.80" y2="298.40" stroke="#111" stroke-width="0.8"/>
<text transform="translate(28.10,305.80) scale(0.84,1)" x="0" y="0" font-size="6.0" fill="#111" stroke="#111" text-anchor="middle">WT</text>
<text transform="translate(37.70,305.80) scale(0.84,1)" x="0" y="0" font-size="6.0" fill="#111" stroke="#111" text-anchor="middle">Mx</text>
<text transform="translate(47.60,305.80) scale(0.84,1)" x="0" y="0" font-size="6.0" fill="#111" stroke="#111" text-anchor="middle">Scl</text>
<text transform="translate(56.70,305.80) scale(0.84,1)" x="0" y="0" font-size="6.0" fill="#111" stroke="#111" text-anchor="middle">Vav</text>
<text transform="translate(71.90,305.80) scale(0.84,1)" x="0" y="0" font-size="6.0" fill="#111" stroke="#111" text-anchor="middle">WT</text>
<text transform="translate(81.00,305.80) scale(0.84,1)" x="0" y="0" font-size="6.0" fill="#111" stroke="#111" text-anchor="middle">Mx</text>
<text transform="translate(90.50,305.80) scale(0.84,1)" x="0" y="0" font-size="6.0" fill="#111" stroke="#111" text-anchor="middle">Scl</text>
<text transform="translate(100.50,305.80) scale(0.84,1)" x="0" y="0" font-size="6.0" fill="#111" stroke="#111" text-anchor="middle">Vav</text>
<text x="199.3" y="222.7" font-size="7" fill="#111" stroke="#111" text-anchor="middle">CFU-MK</text>
<text x="198.8" y="231.8" font-size="7" fill="#111" stroke="#111" text-anchor="middle">(per 5x10<tspan baseline-shift="2.8" font-size="5.0">4</tspan> cells)</text>
<text x="218.8" y="249.8" font-size="6.2" fill="#111" stroke="#111" text-anchor="middle">w/o Tpo</text>
<rect x="153.70" y="282.68" width="9.30" height="15.12" fill="#a9a9a9"/>
<line x1="158.35" y1="282.68" x2="158.35" y2="280.38" stroke="#a9a9a9" stroke-width="0.8"/>
<line x1="156.15" y1="280.38" x2="160.55" y2="280.38" stroke="#a9a9a9" stroke-width="0.9"/>
<rect x="163.00" y="279.93" width="9.00" height="17.88" fill="#a3232b"/>
<line x1="167.50" y1="279.93" x2="167.50" y2="278.09" stroke="#a3232b" stroke-width="0.8"/>
<line x1="165.30" y1="278.09" x2="169.70" y2="278.09" stroke="#a3232b" stroke-width="0.9"/>
<text x="167.5" y="274.84000000000003" font-size="6.8" fill="#111" stroke="#111" text-anchor="middle">ns</text>
<rect x="172.00" y="277.63" width="10.05" height="20.17" fill="#2b7f3d"/>
<line x1="177.03" y1="277.63" x2="177.03" y2="275.80" stroke="#2b7f3d" stroke-width="0.8"/>
<line x1="174.83" y1="275.80" x2="179.22" y2="275.80" stroke="#2b7f3d" stroke-width="0.9"/>
<text x="177.025" y="273.34000000000003" font-size="6.8" fill="#111" stroke="#111" text-anchor="middle">ns</text>
<rect x="182.05" y="253.80" width="9.75" height="44.00" fill="#2c37a6"/>
<line x1="186.93" y1="253.80" x2="186.93" y2="250.59" stroke="#2c37a6" stroke-width="0.8"/>
<line x1="184.73" y1="250.59" x2="189.12" y2="250.59" stroke="#2c37a6" stroke-width="0.9"/>
<text x="186.925" y="249.688" font-size="6.4" fill="#111" stroke="#111" text-anchor="middle" font-weight="bold" style="stroke-width:0px">***</text>
<rect x="196.60" y="297.25" width="8.40" height="0.55" fill="#a9a9a9"/>
<rect x="205.00" y="285.88" width="9.10" height="11.92" fill="#a3232b"/>
<line x1="209.55" y1="285.88" x2="209.55" y2="284.05" stroke="#a3232b" stroke-width="0.8"/>
<line x1="207.35" y1="284.05" x2="211.75" y2="284.05" stroke="#a3232b" stroke-width="0.9"/>
<text x="209.55" y="283.08799999999997" font-size="6.4" fill="#111" stroke="#111" text-anchor="middle" font-weight="bold" style="stroke-width:0px">***</text>
<rect x="214.10" y="285.88" width="10.05" height="11.92" fill="#2b7f3d"/>
<line x1="219.12" y1="285.88" x2="219.12" y2="284.51" stroke="#2b7f3d" stroke-width="0.8"/>
<line x1="216.93" y1="284.51" x2="221.32" y2="284.51" stroke="#2b7f3d" stroke-width="0.9"/>
<text x="219.125" y="283.08799999999997" font-size="6.4" fill="#111" stroke="#111" text-anchor="middle" font-weight="bold" style="stroke-width:0px">***</text>
<rect x="224.15" y="267.09" width="9.95" height="30.71" fill="#2c37a6"/>
<line x1="229.12" y1="267.09" x2="229.12" y2="262.51" stroke="#2c37a6" stroke-width="0.8"/>
<line x1="226.93" y1="262.51" x2="231.32" y2="262.51" stroke="#2c37a6" stroke-width="0.9"/>
<text x="229.125" y="261.688" font-size="6.4" fill="#111" stroke="#111" text-anchor="middle" font-weight="bold" style="stroke-width:0px">***</text>
<line x1="149.50" y1="242.30" x2="149.50" y2="297.80" stroke="#111" stroke-width="0.8"/>
<line x1="147.50" y1="297.80" x2="149.50" y2="297.80" stroke="#111" stroke-width="0.8"/>
<text x="0" y="0" font-size="6.5" fill="#111" stroke="#111" text-anchor="end" transform="translate(147.10,300.10) scale(0.9,1)">0</text>
<line x1="147.50" y1="279.47" x2="149.50" y2="279.47" stroke="#111" stroke-width="0.8"/>
<text x="0" y="0" font-size="6.5" fill="#111" stroke="#111" text-anchor="end" transform="translate(147.10,281.77) scale(0.9,1)">20</text>
<line x1="147.50" y1="261.13" x2="149.50" y2="261.13" stroke="#111" stroke-width="0.8"/>
<text x="0" y="0" font-size="6.5" fill="#111" stroke="#111" text-anchor="end" transform="translate(147.10,263.43) scale(0.9,1)">40</text>
<line x1="147.50" y1="242.80" x2="149.50" y2="242.80" stroke="#111" stroke-width="0.8"/>
<text x="0" y="0" font-size="6.5" fill="#111" stroke="#111" text-anchor="end" transform="translate(147.10,245.10) scale(0.9,1)">60</text>
<line x1="149.50" y1="297.80" x2="235.80" y2="297.80" stroke="#111" stroke-width="0.8"/>
<text transform="translate(158.60,304.70) scale(0.84,1)" x="0" y="0" font-size="6.0" fill="#111" stroke="#111" text-anchor="middle">WT</text>
<text transform="translate(168.00,304.70) scale(0.84,1)" x="0" y="0" font-size="6.0" fill="#111" stroke="#111" text-anchor="middle">Mx</text>
<text transform="translate(177.60,304.70) scale(0.84,1)" x="0" y="0" font-size="6.0" fill="#111" stroke="#111" text-anchor="middle">Scl</text>
<text transform="translate(186.70,304.70) scale(0.84,1)" x="0" y="0" font-size="6.0" fill="#111" stroke="#111" text-anchor="middle">Vav</text>
<text transform="translate(201.90,304.70) scale(0.84,1)" x="0" y="0" font-size="6.0" fill="#111" stroke="#111" text-anchor="middle">WT</text>
<text transform="translate(210.40,304.70) scale(0.84,1)" x="0" y="0" font-size="6.0" fill="#111" stroke="#111" text-anchor="middle">Mx</text>
<text transform="translate(219.90,304.70) scale(0.84,1)" x="0" y="0" font-size="6.0" fill="#111" stroke="#111" text-anchor="middle">Scl</text>
<text transform="translate(229.40,304.70) scale(0.84,1)" x="0" y="0" font-size="6.0" fill="#111" stroke="#111" text-anchor="middle">Vav</text>
<text x="287.1" y="224.0" font-size="7" fill="#111" stroke="#111">Myeloid colonies (per 1x10<tspan baseline-shift="2.8" font-size="5.0">4</tspan> cells)</text>
<text x="294.6" y="232.9" font-size="6.2" fill="#111" stroke="#111" text-anchor="middle">CFU-G</text>
<text x="332.3" y="232.9" font-size="6.2" fill="#111" stroke="#111" text-anchor="middle">CFU-M</text>
<text x="374" y="232.9" font-size="6.2" fill="#111" stroke="#111" text-anchor="middle">CFU-GM</text>
<rect x="279.80" y="273.76" width="9.15" height="23.74" fill="#a9a9a9"/>
<line x1="284.38" y1="273.76" x2="284.38" y2="272.66" stroke="#a9a9a9" stroke-width="0.8"/>
<line x1="282.18" y1="272.66" x2="286.57" y2="272.66" stroke="#a9a9a9" stroke-width="0.9"/>
<rect x="288.95" y="267.69" width="8.60" height="29.81" fill="#a3232b"/>
<line x1="293.25" y1="267.69" x2="293.25" y2="266.04" stroke="#a3232b" stroke-width="0.8"/>
<line x1="291.05" y1="266.04" x2="295.45" y2="266.04" stroke="#a3232b" stroke-width="0.9"/>
<text x="293.25" y="261.84000000000003" font-size="6.8" fill="#111" stroke="#111" text-anchor="middle">ns</text>
<rect x="297.55" y="252.79" width="9.15" height="44.71" fill="#2b7f3d"/>
<line x1="302.12" y1="252.79" x2="302.12" y2="250.03" stroke="#2b7f3d" stroke-width="0.8"/>
<line x1="299.93" y1="250.03" x2="304.32" y2="250.03" stroke="#2b7f3d" stroke-width="0.9"/>
<text x="302.125" y="247.688" font-size="6.4" fill="#111" stroke="#111" text-anchor="middle" font-weight="bold" style="stroke-width:0px">***</text>
<rect x="306.70" y="264.38" width="8.60" height="33.12" fill="#2c37a6"/>
<line x1="311.00" y1="264.38" x2="311.00" y2="261.07" stroke="#2c37a6" stroke-width="0.8"/>
<line x1="308.80" y1="261.07" x2="313.20" y2="261.07" stroke="#2c37a6" stroke-width="0.9"/>
<text x="311.0" y="258.988" font-size="6.4" fill="#111" stroke="#111" text-anchor="middle" font-weight="bold" style="stroke-width:0px">**</text>
<rect x="319.70" y="283.70" width="8.30" height="13.80" fill="#a9a9a9"/>
<line x1="323.85" y1="283.70" x2="323.85" y2="283.15" stroke="#a9a9a9" stroke-width="0.8"/>
<line x1="321.65" y1="283.15" x2="326.05" y2="283.15" stroke="#a9a9a9" stroke-width="0.9"/>
<rect x="328.00" y="276.52" width="8.80" height="20.98" fill="#a3232b"/>
<line x1="332.40" y1="276.52" x2="332.40" y2="275.42" stroke="#a3232b" stroke-width="0.8"/>
<line x1="330.20" y1="275.42" x2="334.60" y2="275.42" stroke="#a3232b" stroke-width="0.9"/>
<text x="332.4" y="272.64000000000004" font-size="6.8" fill="#111" stroke="#111" text-anchor="middle">ns</text>
<rect x="336.80" y="275.42" width="8.70" height="22.08" fill="#2b7f3d"/>
<line x1="341.15" y1="275.42" x2="341.15" y2="274.32" stroke="#2b7f3d" stroke-width="0.8"/>
<line x1="338.95" y1="274.32" x2="343.35" y2="274.32" stroke="#2b7f3d" stroke-width="0.9"/>
<text x="341.15" y="272.64000000000004" font-size="6.8" fill="#111" stroke="#111" text-anchor="middle">ns</text>
<rect x="345.50" y="274.32" width="8.90" height="23.18" fill="#2c37a6"/>
<line x1="349.95" y1="274.32" x2="349.95" y2="272.66" stroke="#2c37a6" stroke-width="0.8"/>
<line x1="347.75" y1="272.66" x2="352.15" y2="272.66" stroke="#2c37a6" stroke-width="0.9"/>
<text x="349.95" y="270.58799999999997" font-size="6.4" fill="#111" stroke="#111" text-anchor="middle" font-weight="bold" style="stroke-width:0px">*</text>
<rect x="358.70" y="272.66" width="8.90" height="24.84" fill="#a9a9a9"/>
<line x1="363.15" y1="272.66" x2="363.15" y2="270.45" stroke="#a9a9a9" stroke-width="0.8"/>
<line x1="360.95" y1="270.45" x2="365.35" y2="270.45" stroke="#a9a9a9" stroke-width="0.9"/>
<rect x="367.60" y="256.65" width="8.70" height="40.85" fill="#a3232b"/>
<line x1="371.95" y1="256.65" x2="371.95" y2="254.44" stroke="#a3232b" stroke-width="0.8"/>
<line x1="369.75" y1="254.44" x2="374.15" y2="254.44" stroke="#a3232b" stroke-width="0.9"/>
<text x="371.95" y="253.088" font-size="6.4" fill="#111" stroke="#111" text-anchor="middle" font-weight="bold" style="stroke-width:0px">***</text>
<rect x="376.30" y="245.61" width="8.80" height="51.89" fill="#2b7f3d"/>
<line x1="380.70" y1="245.61" x2="380.70" y2="243.96" stroke="#2b7f3d" stroke-width="0.8"/>
<line x1="378.50" y1="243.96" x2="382.90" y2="243.96" stroke="#2b7f3d" stroke-width="0.9"/>
<text x="380.7" y="243.688" font-size="6.4" fill="#111" stroke="#111" text-anchor="middle" font-weight="bold" style="stroke-width:0px">***</text>
<rect x="385.10" y="248.37" width="8.60" height="49.13" fill="#2c37a6"/>
<line x1="389.40" y1="248.37" x2="389.40" y2="246.16" stroke="#2c37a6" stroke-width="0.8"/>
<line x1="387.20" y1="246.16" x2="391.60" y2="246.16" stroke="#2c37a6" stroke-width="0.9"/>
<text x="389.4" y="245.78799999999998" font-size="6.4" fill="#111" stroke="#111" text-anchor="middle" font-weight="bold" style="stroke-width:0px">***</text>
<line x1="278.50" y1="242.00" x2="278.50" y2="297.50" stroke="#111" stroke-width="0.8"/>
<line x1="276.50" y1="297.50" x2="278.50" y2="297.50" stroke="#111" stroke-width="0.8"/>
<text x="0" y="0" font-size="6.5" fill="#111" stroke="#111" text-anchor="end" transform="translate(276.10,299.80) scale(0.9,1)">0</text>
<line x1="276.50" y1="286.46" x2="278.50" y2="286.46" stroke="#111" stroke-width="0.8"/>
<text x="0" y="0" font-size="6.5" fill="#111" stroke="#111" text-anchor="end" transform="translate(276.10,288.76) scale(0.9,1)">10</text>
<line x1="276.50" y1="275.42" x2="278.50" y2="275.42" stroke="#111" stroke-width="0.8"/>
<text x="0" y="0" font-size="6.5" fill="#111" stroke="#111" text-anchor="end" transform="translate(276.10,277.72) scale(0.9,1)">20</text>
<line x1="276.50" y1="264.38" x2="278.50" y2="264.38" stroke="#111" stroke-width="0.8"/>
<text x="0" y="0" font-size="6.5" fill="#111" stroke="#111" text-anchor="end" transform="translate(276.10,266.68) scale(0.9,1)">30</text>
<line x1="276.50" y1="253.34" x2="278.50" y2="253.34" stroke="#111" stroke-width="0.8"/>
<text x="0" y="0" font-size="6.5" fill="#111" stroke="#111" text-anchor="end" transform="translate(276.10,255.64) scale(0.9,1)">40</text>
<line x1="276.50" y1="242.30" x2="278.50" y2="242.30" stroke="#111" stroke-width="0.8"/>
<text x="0" y="0" font-size="6.5" fill="#111" stroke="#111" text-anchor="end" transform="translate(276.10,244.60) scale(0.9,1)">50</text>
<line x1="278.50" y1="297.50" x2="399.60" y2="297.50" stroke="#111" stroke-width="0.8"/>
<text transform="translate(283.60,305.60) scale(0.84,1)" x="0" y="0" font-size="6.0" fill="#111" stroke="#111" text-anchor="middle">WT</text>
<text transform="translate(293.50,305.60) scale(0.84,1)" x="0" y="0" font-size="6.0" fill="#111" stroke="#111" text-anchor="middle">Mx</text>
<text transform="translate(302.20,305.60) scale(0.84,1)" x="0" y="0" font-size="6.0" fill="#111" stroke="#111" text-anchor="middle">Scl</text>
<text transform="translate(311.30,305.60) scale(0.84,1)" x="0" y="0" font-size="6.0" fill="#111" stroke="#111" text-anchor="middle">Vav</text>
<text transform="translate(323.70,305.60) scale(0.84,1)" x="0" y="0" font-size="6.0" fill="#111" stroke="#111" text-anchor="middle">WT</text>
<text transform="translate(332.30,305.60) scale(0.84,1)" x="0" y="0" font-size="6.0" fill="#111" stroke="#111" text-anchor="middle">Mx</text>
<text transform="translate(341.70,305.60) scale(0.84,1)" x="0" y="0" font-size="6.0" fill="#111" stroke="#111" text-anchor="middle">Scl</text>
<text transform="translate(350.60,305.60) scale(0.84,1)" x="0" y="0" font-size="6.0" fill="#111" stroke="#111" text-anchor="middle">Vav</text>
<text transform="translate(363.30,305.60) scale(0.84,1)" x="0" y="0" font-size="6.0" fill="#111" stroke="#111" text-anchor="middle">WT</text>
<text transform="translate(372.20,305.60) scale(0.84,1)" x="0" y="0" font-size="6.0" fill="#111" stroke="#111" text-anchor="middle">Mx</text>
<text transform="translate(381.30,305.60) scale(0.84,1)" x="0" y="0" font-size="6.0" fill="#111" stroke="#111" text-anchor="middle">Scl</text>
<text transform="translate(390.20,305.60) scale(0.84,1)" x="0" y="0" font-size="6.0" fill="#111" stroke="#111" text-anchor="middle">Vav</text>
<text x="7.6" y="321.5" font-size="10.5" fill="#111" stroke="#111" font-weight="bold" style="stroke-width:0.4px">F</text>
<text x="18" y="320.9" font-size="7" fill="#111" stroke="#111">Colony assays of bone marrow in recipients at 10 weeks after transplantation</text>
<text x="18" y="330.0" font-size="7" fill="#111" stroke="#111">Erythroid colonies (per 2x10<tspan baseline-shift="2.8" font-size="5.0">5</tspan> cells)</text>
<text x="44.6" y="340.2" font-size="6.6" fill="#111" stroke="#111" text-anchor="middle">BFU-E</text>
<text x="88.6" y="362.8" font-size="6.4" fill="#111" stroke="#111" text-anchor="middle">CFU-E</text>
<text x="88.8" y="370.3" font-size="6.4" fill="#111" stroke="#111" text-anchor="middle">w/o Epo</text>
<rect x="23.30" y="387.57" width="8.75" height="8.43" fill="#a9a9a9"/>
<rect x="32.05" y="372.15" width="9.45" height="23.85" fill="#a3232b"/>
<line x1="36.77" y1="372.15" x2="36.77" y2="371.36" stroke="#a3232b" stroke-width="0.8"/>
<line x1="34.57" y1="371.36" x2="38.98" y2="371.36" stroke="#a3232b" stroke-width="0.9"/>
<text x="36.775" y="371.188" font-size="6.4" fill="#111" stroke="#111" text-anchor="middle" font-weight="bold" style="stroke-width:0px">***</text>
<rect x="41.50" y="350.21" width="9.60" height="45.79" fill="#2b7f3d"/>
<line x1="46.30" y1="350.21" x2="46.30" y2="349.57" stroke="#2b7f3d" stroke-width="0.8"/>
<line x1="44.10" y1="349.57" x2="48.50" y2="349.57" stroke="#2b7f3d" stroke-width="0.9"/>
<text x="46.3" y="349.988" font-size="6.4" fill="#111" stroke="#111" text-anchor="middle" font-weight="bold" style="stroke-width:0px">***</text>
<rect x="51.10" y="381.53" width="8.80" height="14.47" fill="#2c37a6"/>
<line x1="55.50" y1="381.53" x2="55.50" y2="380.26" stroke="#2c37a6" stroke-width="0.8"/>
<line x1="53.30" y1="380.26" x2="57.70" y2="380.26" stroke="#2c37a6" stroke-width="0.9"/>
<text x="55.5" y="379.58799999999997" font-size="6.4" fill="#111" stroke="#111" text-anchor="middle" font-weight="bold" style="stroke-width:0px">*</text>
<rect x="66.00" y="395.76" width="10.85" height="0.24" fill="#a9a9a9"/>
<rect x="76.85" y="387.25" width="9.65" height="8.75" fill="#a3232b"/>
<line x1="81.67" y1="387.25" x2="81.67" y2="386.62" stroke="#a3232b" stroke-width="0.8"/>
<line x1="79.47" y1="386.62" x2="83.88" y2="386.62" stroke="#a3232b" stroke-width="0.9"/>
<text x="81.675" y="387.888" font-size="6.4" fill="#111" stroke="#111" text-anchor="middle" font-weight="bold" style="stroke-width:0px">***</text>
<rect x="86.50" y="381.53" width="9.45" height="14.47" fill="#2b7f3d"/>
<line x1="91.22" y1="381.53" x2="91.22" y2="380.58" stroke="#2b7f3d" stroke-width="0.8"/>
<line x1="89.02" y1="380.58" x2="93.42" y2="380.58" stroke="#2b7f3d" stroke-width="0.9"/>
<text x="91.225" y="381.288" font-size="6.4" fill="#111" stroke="#111" text-anchor="middle" font-weight="bold" style="stroke-width:0px">***</text>
<rect x="95.95" y="394.73" width="8.75" height="1.27" fill="#2c37a6"/>
<line x1="100.32" y1="394.73" x2="100.32" y2="394.41" stroke="#2c37a6" stroke-width="0.8"/>
<line x1="98.12" y1="394.41" x2="102.52" y2="394.41" stroke="#2c37a6" stroke-width="0.9"/>
<line x1="21.20" y1="341.00" x2="21.20" y2="396.00" stroke="#111" stroke-width="0.8"/>
<line x1="19.20" y1="396.00" x2="21.20" y2="396.00" stroke="#111" stroke-width="0.8"/>
<text x="0" y="0" font-size="6.5" fill="#111" stroke="#111" text-anchor="end" transform="translate(18.80,398.30) scale(0.9,1)">0</text>
<line x1="19.20" y1="380.10" x2="21.20" y2="380.10" stroke="#111" stroke-width="0.8"/>
<text x="0" y="0" font-size="6.5" fill="#111" stroke="#111" text-anchor="end" transform="translate(18.80,382.40) scale(0.9,1)">100</text>
<line x1="19.20" y1="364.20" x2="21.20" y2="364.20" stroke="#111" stroke-width="0.8"/>
<text x="0" y="0" font-size="6.5" fill="#111" stroke="#111" text-anchor="end" transform="translate(18.80,366.50) scale(0.9,1)">200</text>
<line x1="19.20" y1="348.30" x2="21.20" y2="348.30" stroke="#111" stroke-width="0.8"/>
<text x="0" y="0" font-size="6.5" fill="#111" stroke="#111" text-anchor="end" transform="translate(18.80,350.60) scale(0.9,1)">300</text>
<line x1="19.20" y1="388.05" x2="21.20" y2="388.05" stroke="#111" stroke-width="0.8"/>
<line x1="19.20" y1="372.15" x2="21.20" y2="372.15" stroke="#111" stroke-width="0.8"/>
<line x1="19.20" y1="356.25" x2="21.20" y2="356.25" stroke="#111" stroke-width="0.8"/>
<line x1="19.20" y1="340.35" x2="21.20" y2="340.35" stroke="#111" stroke-width="0.8"/>
<line x1="21.20" y1="396.00" x2="105.00" y2="396.00" stroke="#111" stroke-width="0.8"/>
<text transform="translate(27.10,402.90) scale(0.88,1)" x="0" y="0" font-size="6.0" fill="#111" stroke="#111" text-anchor="middle">WT</text>
<text transform="translate(36.70,402.90) scale(0.88,1)" x="0" y="0" font-size="6.0" fill="#111" stroke="#111" text-anchor="middle">Mx</text>
<text transform="translate(47.10,402.90) scale(0.88,1)" x="0" y="0" font-size="6.0" fill="#111" stroke="#111" text-anchor="middle">Scl</text>
<text transform="translate(56.30,402.90) scale(0.88,1)" x="0" y="0" font-size="6.0" fill="#111" stroke="#111" text-anchor="middle">Vav</text>
<text transform="translate(74.20,402.90) scale(0.88,1)" x="0" y="0" font-size="6.0" fill="#111" stroke="#111" text-anchor="middle">WT</text>
<text transform="translate(83.60,402.90) scale(0.88,1)" x="0" y="0" font-size="6.0" fill="#111" stroke="#111" text-anchor="middle">Mx</text>
<text transform="translate(93.00,402.90) scale(0.88,1)" x="0" y="0" font-size="6.0" fill="#111" stroke="#111" text-anchor="middle">Scl</text>
<text transform="translate(102.80,402.90) scale(0.88,1)" x="0" y="0" font-size="6.0" fill="#111" stroke="#111" text-anchor="middle">Vav</text>
<text x="146.5" y="330.9" font-size="7" fill="#111" stroke="#111">CFU-MK (per 5x10<tspan baseline-shift="2.8" font-size="5.0">4</tspan> cells)</text>
<text x="218.3" y="361.5" font-size="6.6" fill="#111" stroke="#111" text-anchor="middle">w/o Tpo</text>
<rect x="154.30" y="384.35" width="8.80" height="12.05" fill="#a9a9a9"/>
<line x1="158.70" y1="384.35" x2="158.70" y2="382.04" stroke="#a9a9a9" stroke-width="0.8"/>
<line x1="156.50" y1="382.04" x2="160.90" y2="382.04" stroke="#a9a9a9" stroke-width="0.9"/>
<rect x="163.10" y="377.87" width="8.90" height="18.53" fill="#a3232b"/>
<line x1="167.55" y1="377.87" x2="167.55" y2="376.48" stroke="#a3232b" stroke-width="0.8"/>
<line x1="165.35" y1="376.48" x2="169.75" y2="376.48" stroke="#a3232b" stroke-width="0.9"/>
<text x="167.55" y="377.58799999999997" font-size="6.4" fill="#111" stroke="#111" text-anchor="middle" font-weight="bold" style="stroke-width:0px">*</text>
<rect x="172.00" y="374.16" width="9.00" height="22.24" fill="#2b7f3d"/>
<line x1="176.50" y1="374.16" x2="176.50" y2="372.31" stroke="#2b7f3d" stroke-width="0.8"/>
<line x1="174.30" y1="372.31" x2="178.70" y2="372.31" stroke="#2b7f3d" stroke-width="0.9"/>
<text x="176.5" y="373.08799999999997" font-size="6.4" fill="#111" stroke="#111" text-anchor="middle" font-weight="bold" style="stroke-width:0px">***</text>
<rect x="181.00" y="356.55" width="9.30" height="39.85" fill="#2c37a6"/>
<line x1="185.65" y1="356.55" x2="185.65" y2="354.70" stroke="#2c37a6" stroke-width="0.8"/>
<line x1="183.45" y1="354.70" x2="187.85" y2="354.70" stroke="#2c37a6" stroke-width="0.9"/>
<text x="185.65" y="353.688" font-size="6.4" fill="#111" stroke="#111" text-anchor="middle" font-weight="bold" style="stroke-width:0px">***</text>
<rect x="198.80" y="395.01" width="7.90" height="1.39" fill="#a9a9a9"/>
<rect x="206.70" y="385.28" width="9.50" height="11.12" fill="#a3232b"/>
<line x1="211.45" y1="385.28" x2="211.45" y2="383.43" stroke="#a3232b" stroke-width="0.8"/>
<line x1="209.25" y1="383.43" x2="213.65" y2="383.43" stroke="#a3232b" stroke-width="0.9"/>
<text x="211.45" y="383.288" font-size="6.4" fill="#111" stroke="#111" text-anchor="middle" font-weight="bold" style="stroke-width:0px">***</text>
<rect x="216.20" y="379.26" width="9.20" height="17.14" fill="#2b7f3d"/>
<line x1="220.80" y1="379.26" x2="220.80" y2="377.40" stroke="#2b7f3d" stroke-width="0.8"/>
<line x1="218.60" y1="377.40" x2="223.00" y2="377.40" stroke="#2b7f3d" stroke-width="0.9"/>
<text x="220.79999999999998" y="376.488" font-size="6.4" fill="#111" stroke="#111" text-anchor="middle" font-weight="bold" style="stroke-width:0px">***</text>
<rect x="225.40" y="378.33" width="8.90" height="18.07" fill="#2c37a6"/>
<line x1="229.85" y1="378.33" x2="229.85" y2="376.48" stroke="#2c37a6" stroke-width="0.8"/>
<line x1="227.65" y1="376.48" x2="232.05" y2="376.48" stroke="#2c37a6" stroke-width="0.9"/>
<text x="229.85" y="376.488" font-size="6.4" fill="#111" stroke="#111" text-anchor="middle" font-weight="bold" style="stroke-width:0px">***</text>
<line x1="150.10" y1="340.50" x2="150.10" y2="396.40" stroke="#111" stroke-width="0.8"/>
<line x1="148.10" y1="396.40" x2="150.10" y2="396.40" stroke="#111" stroke-width="0.8"/>
<text x="0" y="0" font-size="6.5" fill="#111" stroke="#111" text-anchor="end" transform="translate(147.70,398.70) scale(0.9,1)">0</text>
<line x1="148.10" y1="377.87" x2="150.10" y2="377.87" stroke="#111" stroke-width="0.8"/>
<text x="0" y="0" font-size="6.5" fill="#111" stroke="#111" text-anchor="end" transform="translate(147.70,380.17) scale(0.9,1)">20</text>
<line x1="148.10" y1="359.33" x2="150.10" y2="359.33" stroke="#111" stroke-width="0.8"/>
<text x="0" y="0" font-size="6.5" fill="#111" stroke="#111" text-anchor="end" transform="translate(147.70,361.63) scale(0.9,1)">40</text>
<line x1="148.10" y1="340.80" x2="150.10" y2="340.80" stroke="#111" stroke-width="0.8"/>
<text x="0" y="0" font-size="6.5" fill="#111" stroke="#111" text-anchor="end" transform="translate(147.70,343.10) scale(0.9,1)">60</text>
<line x1="150.10" y1="396.40" x2="235.80" y2="396.40" stroke="#111" stroke-width="0.8"/>
<text transform="translate(157.50,403.40) scale(0.84,1)" x="0" y="0" font-size="6.0" fill="#111" stroke="#111" text-anchor="middle">WT</text>
<text transform="translate(166.60,403.40) scale(0.84,1)" x="0" y="0" font-size="6.0" fill="#111" stroke="#111" text-anchor="middle">Mx</text>
<text transform="translate(176.50,403.40) scale(0.84,1)" x="0" y="0" font-size="6.0" fill="#111" stroke="#111" text-anchor="middle">Scl</text>
<text transform="translate(185.40,403.40) scale(0.84,1)" x="0" y="0" font-size="6.0" fill="#111" stroke="#111" text-anchor="middle">Vav</text>
<text transform="translate(201.90,403.40) scale(0.84,1)" x="0" y="0" font-size="6.0" fill="#111" stroke="#111" text-anchor="middle">WT</text>
<text transform="translate(211.00,403.40) scale(0.84,1)" x="0" y="0" font-size="6.0" fill="#111" stroke="#111" text-anchor="middle">Mx</text>
<text transform="translate(220.50,403.40) scale(0.84,1)" x="0" y="0" font-size="6.0" fill="#111" stroke="#111" text-anchor="middle">Scl</text>
<text transform="translate(229.40,403.40) scale(0.84,1)" x="0" y="0" font-size="6.0" fill="#111" stroke="#111" text-anchor="middle">Vav</text>
<text x="288.7" y="329.8" font-size="7" fill="#111" stroke="#111">Myeloid colonies (per 1x10<tspan baseline-shift="2.8" font-size="5.0">4</tspan> cells)</text>
<text x="294.6" y="340.6" font-size="6.2" fill="#111" stroke="#111" text-anchor="middle">CFU-G</text>
<text x="332.3" y="340.6" font-size="6.2" fill="#111" stroke="#111" text-anchor="middle">CFU-M</text>
<text x="375.4" y="340.6" font-size="6.2" fill="#111" stroke="#111" text-anchor="middle">CFU-GM</text>
<rect x="280.60" y="376.76" width="8.10" height="19.04" fill="#a9a9a9"/>
<line x1="284.65" y1="376.76" x2="284.65" y2="376.20" stroke="#a9a9a9" stroke-width="0.8"/>
<line x1="282.45" y1="376.20" x2="286.85" y2="376.20" stroke="#a9a9a9" stroke-width="0.9"/>
<rect x="288.70" y="366.12" width="8.60" height="29.68" fill="#a3232b"/>
<line x1="293.00" y1="366.12" x2="293.00" y2="363.88" stroke="#a3232b" stroke-width="0.8"/>
<line x1="290.80" y1="363.88" x2="295.20" y2="363.88" stroke="#a3232b" stroke-width="0.9"/>
<text x="293.0" y="363.488" font-size="6.4" fill="#111" stroke="#111" text-anchor="middle" font-weight="bold" style="stroke-width:0px">**</text>
<rect x="297.30" y="361.08" width="8.60" height="34.72" fill="#2b7f3d"/>
<line x1="301.60" y1="361.08" x2="301.60" y2="359.40" stroke="#2b7f3d" stroke-width="0.8"/>
<line x1="299.40" y1="359.40" x2="303.80" y2="359.40" stroke="#2b7f3d" stroke-width="0.9"/>
<text x="301.6" y="358.08799999999997" font-size="6.4" fill="#111" stroke="#111" text-anchor="middle" font-weight="bold" style="stroke-width:0px">***</text>
<rect x="305.90" y="367.80" width="9.40" height="28.00" fill="#2c37a6"/>
<line x1="310.60" y1="367.80" x2="310.60" y2="364.44" stroke="#2c37a6" stroke-width="0.8"/>
<line x1="308.40" y1="364.44" x2="312.80" y2="364.44" stroke="#2c37a6" stroke-width="0.9"/>
<text x="310.6" y="363.488" font-size="6.4" fill="#111" stroke="#111" text-anchor="middle" font-weight="bold" style="stroke-width:0px">*</text>
<rect x="319.40" y="385.72" width="8.20" height="10.08" fill="#a9a9a9"/>
<line x1="323.50" y1="385.72" x2="323.50" y2="385.16" stroke="#a9a9a9" stroke-width="0.8"/>
<line x1="321.30" y1="385.16" x2="325.70" y2="385.16" stroke="#a9a9a9" stroke-width="0.9"/>
<rect x="327.60" y="379.56" width="9.05" height="16.24" fill="#a3232b"/>
<line x1="332.12" y1="379.56" x2="332.12" y2="377.88" stroke="#a3232b" stroke-width="0.8"/>
<line x1="329.93" y1="377.88" x2="334.32" y2="377.88" stroke="#a3232b" stroke-width="0.9"/>
<text x="332.125" y="375.74" font-size="6.8" fill="#111" stroke="#111" text-anchor="middle">ns</text>
<rect x="336.65" y="367.80" width="8.85" height="28.00" fill="#2b7f3d"/>
<line x1="341.07" y1="367.80" x2="341.07" y2="365.56" stroke="#2b7f3d" stroke-width="0.8"/>
<line x1="338.88" y1="365.56" x2="343.27" y2="365.56" stroke="#2b7f3d" stroke-width="0.9"/>
<text x="341.075" y="365.58799999999997" font-size="6.4" fill="#111" stroke="#111" text-anchor="middle" font-weight="bold" style="stroke-width:0px">***</text>
<rect x="345.50" y="382.92" width="9.20" height="12.88" fill="#2c37a6"/>
<line x1="350.10" y1="382.92" x2="350.10" y2="381.80" stroke="#2c37a6" stroke-width="0.8"/>
<line x1="347.90" y1="381.80" x2="352.30" y2="381.80" stroke="#2c37a6" stroke-width="0.9"/>
<text x="350.1" y="379.54" font-size="6.8" fill="#111" stroke="#111" text-anchor="middle">ns</text>
<rect x="357.90" y="382.92" width="9.55" height="12.88" fill="#a9a9a9"/>
<line x1="362.68" y1="382.92" x2="362.68" y2="381.80" stroke="#a9a9a9" stroke-width="0.8"/>
<line x1="360.48" y1="381.80" x2="364.88" y2="381.80" stroke="#a9a9a9" stroke-width="0.9"/>
<rect x="367.45" y="377.32" width="9.25" height="18.48" fill="#a3232b"/>
<line x1="372.08" y1="377.32" x2="372.08" y2="376.20" stroke="#a3232b" stroke-width="0.8"/>
<line x1="369.88" y1="376.20" x2="374.28" y2="376.20" stroke="#a3232b" stroke-width="0.9"/>
<text x="372.07500000000005" y="373.54" font-size="6.8" fill="#111" stroke="#111" text-anchor="middle">ns</text>
<rect x="376.70" y="357.72" width="9.20" height="38.08" fill="#2b7f3d"/>
<line x1="381.30" y1="357.72" x2="381.30" y2="356.04" stroke="#2b7f3d" stroke-width="0.8"/>
<line x1="379.10" y1="356.04" x2="383.50" y2="356.04" stroke="#2b7f3d" stroke-width="0.9"/>
<text x="381.29999999999995" y="356.688" font-size="6.4" fill="#111" stroke="#111" text-anchor="middle" font-weight="bold" style="stroke-width:0px">***</text>
<rect x="385.90" y="379.56" width="9.10" height="16.24" fill="#2c37a6"/>
<line x1="390.45" y1="379.56" x2="390.45" y2="377.88" stroke="#2c37a6" stroke-width="0.8"/>
<line x1="388.25" y1="377.88" x2="392.65" y2="377.88" stroke="#2c37a6" stroke-width="0.9"/>
<text x="390.45" y="374.94" font-size="6.8" fill="#111" stroke="#111" text-anchor="middle">ns</text>
<line x1="279.00" y1="339.50" x2="279.00" y2="395.80" stroke="#111" stroke-width="0.8"/>
<line x1="277.00" y1="395.80" x2="279.00" y2="395.80" stroke="#111" stroke-width="0.8"/>
<text x="0" y="0" font-size="6.5" fill="#111" stroke="#111" text-anchor="end" transform="translate(276.60,398.10) scale(0.9,1)">0</text>
<line x1="277.00" y1="384.60" x2="279.00" y2="384.60" stroke="#111" stroke-width="0.8"/>
<text x="0" y="0" font-size="6.5" fill="#111" stroke="#111" text-anchor="end" transform="translate(276.60,386.90) scale(0.9,1)">10</text>
<line x1="277.00" y1="373.40" x2="279.00" y2="373.40" stroke="#111" stroke-width="0.8"/>
<text x="0" y="0" font-size="6.5" fill="#111" stroke="#111" text-anchor="end" transform="translate(276.60,375.70) scale(0.9,1)">20</text>
<line x1="277.00" y1="362.20" x2="279.00" y2="362.20" stroke="#111" stroke-width="0.8"/>
<text x="0" y="0" font-size="6.5" fill="#111" stroke="#111" text-anchor="end" transform="translate(276.60,364.50) scale(0.9,1)">30</text>
<line x1="277.00" y1="351.00" x2="279.00" y2="351.00" stroke="#111" stroke-width="0.8"/>
<text x="0" y="0" font-size="6.5" fill="#111" stroke="#111" text-anchor="end" transform="translate(276.60,353.30) scale(0.9,1)">40</text>
<line x1="277.00" y1="339.80" x2="279.00" y2="339.80" stroke="#111" stroke-width="0.8"/>
<text x="0" y="0" font-size="6.5" fill="#111" stroke="#111" text-anchor="end" transform="translate(276.60,342.10) scale(0.9,1)">50</text>
<line x1="279.00" y1="395.80" x2="399.60" y2="395.80" stroke="#111" stroke-width="0.8"/>
<text transform="translate(283.30,403.30) scale(0.78,1)" x="0" y="0" font-size="6.0" fill="#111" stroke="#111" text-anchor="middle">WT</text>
<text transform="translate(293.30,403.30) scale(0.78,1)" x="0" y="0" font-size="6.0" fill="#111" stroke="#111" text-anchor="middle">Mx</text>
<text transform="translate(301.30,403.30) scale(0.78,1)" x="0" y="0" font-size="6.0" fill="#111" stroke="#111" text-anchor="middle">Scl</text>
<text transform="translate(310.20,403.30) scale(0.78,1)" x="0" y="0" font-size="6.0" fill="#111" stroke="#111" text-anchor="middle">Vav</text>
<text transform="translate(324.80,403.30) scale(0.78,1)" x="0" y="0" font-size="6.0" fill="#111" stroke="#111" text-anchor="middle">WT</text>
<text transform="translate(332.90,403.30) scale(0.78,1)" x="0" y="0" font-size="6.0" fill="#111" stroke="#111" text-anchor="middle">Mx</text>
<text transform="translate(340.40,403.30) scale(0.78,1)" x="0" y="0" font-size="6.0" fill="#111" stroke="#111" text-anchor="middle">Scl</text>
<text transform="translate(349.00,403.30) scale(0.78,1)" x="0" y="0" font-size="6.0" fill="#111" stroke="#111" text-anchor="middle">Vav</text>
<text transform="translate(365.20,403.30) scale(0.78,1)" x="0" y="0" font-size="6.0" fill="#111" stroke="#111" text-anchor="middle">WT</text>
<text transform="translate(374.00,403.30) scale(0.78,1)" x="0" y="0" font-size="6.0" fill="#111" stroke="#111" text-anchor="middle">Mx</text>
<text transform="translate(382.90,403.30) scale(0.78,1)" x="0" y="0" font-size="6.0" fill="#111" stroke="#111" text-anchor="middle">Scl</text>
<text transform="translate(391.50,403.30) scale(0.78,1)" x="0" y="0" font-size="6.0" fill="#111" stroke="#111" text-anchor="middle">Vav</text>
<text x="411.2" y="214.0" font-size="10.5" fill="#111" stroke="#111" font-weight="bold" style="stroke-width:0.4px">G</text>
<text x="426.9" y="213.0" font-size="7" fill="#111" stroke="#111">Flow cytometry</text>
<text x="422.1" y="223.7" font-size="7" fill="#111" stroke="#111">% LSK in lin<tspan baseline-shift="2.4" font-size="4.5">−</tspan> BM</text>
<rect x="429.10" y="292.80" width="8.40" height="5.90" fill="#a9a9a9"/>
<line x1="433.30" y1="292.80" x2="433.30" y2="291.79" stroke="#a9a9a9" stroke-width="0.8"/>
<line x1="431.10" y1="291.79" x2="435.50" y2="291.79" stroke="#a9a9a9" stroke-width="0.9"/>
<rect x="442.10" y="277.15" width="8.40" height="21.55" fill="#a3232b"/>
<line x1="446.30" y1="277.15" x2="446.30" y2="271.86" stroke="#a3232b" stroke-width="0.8"/>
<line x1="444.10" y1="271.86" x2="448.50" y2="271.86" stroke="#a3232b" stroke-width="0.9"/>
<text x="446.3" y="269.08" font-size="9.0" fill="#111" stroke="#111" text-anchor="middle" font-weight="bold" style="stroke-width:0.4px">*</text>
<rect x="455.10" y="286.30" width="8.30" height="12.40" fill="#2b7f3d"/>
<line x1="459.25" y1="286.30" x2="459.25" y2="282.43" stroke="#2b7f3d" stroke-width="0.8"/>
<line x1="457.05" y1="282.43" x2="461.45" y2="282.43" stroke="#2b7f3d" stroke-width="0.9"/>
<text x="459.25" y="280.84000000000003" font-size="6.8" fill="#111" stroke="#111" text-anchor="middle">ns</text>
<rect x="468.10" y="253.56" width="8.70" height="45.14" fill="#2c37a6"/>
<line x1="472.45" y1="253.56" x2="472.45" y2="246.24" stroke="#2c37a6" stroke-width="0.8"/>
<line x1="470.25" y1="246.24" x2="474.65" y2="246.24" stroke="#2c37a6" stroke-width="0.9"/>
<text x="472.45000000000005" y="242.78" font-size="9.0" fill="#111" stroke="#111" text-anchor="middle" font-weight="bold" style="stroke-width:0.4px">**</text>
<line x1="426.90" y1="237.40" x2="426.90" y2="298.70" stroke="#111" stroke-width="0.8"/>
<line x1="424.90" y1="298.70" x2="426.90" y2="298.70" stroke="#111" stroke-width="0.8"/>
<text x="0" y="0" font-size="6.5" fill="#111" stroke="#111" text-anchor="end" transform="translate(424.50,301.00) scale(0.9,1)">0</text>
<line x1="424.90" y1="278.37" x2="426.90" y2="278.37" stroke="#111" stroke-width="0.8"/>
<text x="0" y="0" font-size="6.5" fill="#111" stroke="#111" text-anchor="end" transform="translate(424.50,280.67) scale(0.9,1)">5</text>
<line x1="424.90" y1="258.03" x2="426.90" y2="258.03" stroke="#111" stroke-width="0.8"/>
<text x="0" y="0" font-size="6.5" fill="#111" stroke="#111" text-anchor="end" transform="translate(424.50,260.33) scale(0.9,1)">10</text>
<line x1="424.90" y1="237.70" x2="426.90" y2="237.70" stroke="#111" stroke-width="0.8"/>
<text x="0" y="0" font-size="6.5" fill="#111" stroke="#111" text-anchor="end" transform="translate(424.50,240.00) scale(0.9,1)">15</text>
<line x1="426.90" y1="298.70" x2="478.30" y2="298.70" stroke="#111" stroke-width="0.8"/>
<text transform="translate(433.20,304.50) scale(0.9,1)" x="0" y="0" font-size="6.2" fill="#111" stroke="#111" text-anchor="middle">WT</text>
<text transform="translate(445.80,304.50) scale(0.9,1)" x="0" y="0" font-size="6.2" fill="#111" stroke="#111" text-anchor="middle">Mx</text>
<text transform="translate(459.20,304.50) scale(0.9,1)" x="0" y="0" font-size="6.2" fill="#111" stroke="#111" text-anchor="middle">Scl</text>
<text transform="translate(472.20,304.50) scale(0.9,1)" x="0" y="0" font-size="6.2" fill="#111" stroke="#111" text-anchor="middle">Vav</text>
<text x="411.8" y="321.0" font-size="10.5" fill="#111" stroke="#111" font-weight="bold" style="stroke-width:0.4px">H</text>
<text x="426.6" y="320.1" font-size="7" fill="#111" stroke="#111">Flow cytometry</text>
<text x="422.7" y="329.8" font-size="7" fill="#111" stroke="#111">% LSK in lin<tspan baseline-shift="2.4" font-size="4.5">−</tspan> BM</text>
<rect x="429.80" y="392.09" width="7.10" height="3.61" fill="#a9a9a9"/>
<line x1="433.35" y1="392.09" x2="433.35" y2="389.68" stroke="#a9a9a9" stroke-width="0.8"/>
<line x1="431.15" y1="389.68" x2="435.55" y2="389.68" stroke="#a9a9a9" stroke-width="0.9"/>
<rect x="441.80" y="379.65" width="8.40" height="16.05" fill="#a3232b"/>
<line x1="446.00" y1="379.65" x2="446.00" y2="377.24" stroke="#a3232b" stroke-width="0.8"/>
<line x1="443.80" y1="377.24" x2="448.20" y2="377.24" stroke="#a3232b" stroke-width="0.9"/>
<text x="446.0" y="375.67999999999995" font-size="9.0" fill="#111" stroke="#111" text-anchor="middle" font-weight="bold" style="stroke-width:0.4px">*</text>
<rect x="455.10" y="382.05" width="8.30" height="13.65" fill="#2b7f3d"/>
<line x1="459.25" y1="382.05" x2="459.25" y2="373.23" stroke="#2b7f3d" stroke-width="0.8"/>
<line x1="457.05" y1="373.23" x2="461.45" y2="373.23" stroke="#2b7f3d" stroke-width="0.9"/>
<text x="459.25" y="372.54" font-size="6.8" fill="#111" stroke="#111" text-anchor="middle">ns</text>
<rect x="468.40" y="354.76" width="8.30" height="40.94" fill="#2c37a6"/>
<line x1="472.55" y1="354.76" x2="472.55" y2="344.73" stroke="#2c37a6" stroke-width="0.8"/>
<line x1="470.35" y1="344.73" x2="474.75" y2="344.73" stroke="#2c37a6" stroke-width="0.9"/>
<text x="472.54999999999995" y="342.38" font-size="9.0" fill="#111" stroke="#111" text-anchor="middle" font-weight="bold" style="stroke-width:0.4px">**</text>
<line x1="426.60" y1="335.20" x2="426.60" y2="395.70" stroke="#111" stroke-width="0.8"/>
<line x1="424.60" y1="395.70" x2="426.60" y2="395.70" stroke="#111" stroke-width="0.8"/>
<text x="0" y="0" font-size="6.5" fill="#111" stroke="#111" text-anchor="end" transform="translate(424.20,398.00) scale(0.9,1)">0</text>
<line x1="424.60" y1="375.63" x2="426.60" y2="375.63" stroke="#111" stroke-width="0.8"/>
<text x="0" y="0" font-size="6.5" fill="#111" stroke="#111" text-anchor="end" transform="translate(424.20,377.93) scale(0.9,1)">5</text>
<line x1="424.60" y1="355.57" x2="426.60" y2="355.57" stroke="#111" stroke-width="0.8"/>
<text x="0" y="0" font-size="6.5" fill="#111" stroke="#111" text-anchor="end" transform="translate(424.20,357.87) scale(0.9,1)">10</text>
<line x1="424.60" y1="335.50" x2="426.60" y2="335.50" stroke="#111" stroke-width="0.8"/>
<text x="0" y="0" font-size="6.5" fill="#111" stroke="#111" text-anchor="end" transform="translate(424.20,337.80) scale(0.9,1)">15</text>
<line x1="426.60" y1="395.70" x2="477.60" y2="395.70" stroke="#111" stroke-width="0.8"/>
<text transform="translate(433.30,402.80) scale(0.9,1)" x="0" y="0" font-size="6.2" fill="#111" stroke="#111" text-anchor="middle">WT</text>
<text transform="translate(446.10,402.80) scale(0.9,1)" x="0" y="0" font-size="6.2" fill="#111" stroke="#111" text-anchor="middle">Mx</text>
<text transform="translate(459.00,402.80) scale(0.9,1)" x="0" y="0" font-size="6.2" fill="#111" stroke="#111" text-anchor="middle">Scl</text>
<text transform="translate(472.80,402.80) scale(0.9,1)" x="0" y="0" font-size="6.2" fill="#111" stroke="#111" text-anchor="middle">Vav</text>
<rect x="10.50" y="418.80" width="2.50" height="7.50" fill="#111"/>
<text x="21.5" y="425.8" font-size="7" fill="#111" stroke="#111">Blood counts and survival of SclCre;FF1;Jak2<tspan baseline-shift="2.8" font-size="5.0">fl/fl</tspan> mice after induction with tamoxifen</text>
<text x="61.5" y="436.9" font-size="7" fill="#111" stroke="#111" text-anchor="middle">hemoglobin (g/L)</text>
<rect x="20.80" y="464.20" width="77.20" height="9.00" fill="#d0d0d0"/>
<line x1="20.80" y1="443.70" x2="20.80" y2="494.20" stroke="#111" stroke-width="0.8"/>
<line x1="18.80" y1="494.20" x2="20.80" y2="494.20" stroke="#111" stroke-width="0.8"/>
<text x="0" y="0" font-size="6.5" fill="#111" stroke="#111" text-anchor="end" transform="translate(18.40,496.50) scale(0.9,1)">0</text>
<line x1="18.80" y1="484.20" x2="20.80" y2="484.20" stroke="#111" stroke-width="0.8"/>
<text x="0" y="0" font-size="6.5" fill="#111" stroke="#111" text-anchor="end" transform="translate(18.40,486.50) scale(0.9,1)">50</text>
<line x1="18.80" y1="474.20" x2="20.80" y2="474.20" stroke="#111" stroke-width="0.8"/>
<text x="0" y="0" font-size="6.5" fill="#111" stroke="#111" text-anchor="end" transform="translate(18.40,476.50) scale(0.9,1)">100</text>
<line x1="18.80" y1="464.20" x2="20.80" y2="464.20" stroke="#111" stroke-width="0.8"/>
<text x="0" y="0" font-size="6.5" fill="#111" stroke="#111" text-anchor="end" transform="translate(18.40,466.50) scale(0.9,1)">150</text>
<line x1="18.80" y1="454.20" x2="20.80" y2="454.20" stroke="#111" stroke-width="0.8"/>
<text x="0" y="0" font-size="6.5" fill="#111" stroke="#111" text-anchor="end" transform="translate(18.40,456.50) scale(0.9,1)">200</text>
<line x1="18.80" y1="444.20" x2="20.80" y2="444.20" stroke="#111" stroke-width="0.8"/>
<text x="0" y="0" font-size="6.5" fill="#111" stroke="#111" text-anchor="end" transform="translate(18.40,446.50) scale(0.9,1)">250</text>
<line x1="20.80" y1="494.20" x2="98.00" y2="494.20" stroke="#111" stroke-width="0.8"/>
<line x1="20.80" y1="494.20" x2="20.80" y2="496.20" stroke="#111" stroke-width="0.8"/>
<line x1="37.80" y1="494.20" x2="37.80" y2="496.20" stroke="#111" stroke-width="0.8"/>
<line x1="54.80" y1="494.20" x2="54.80" y2="496.20" stroke="#111" stroke-width="0.8"/>
<line x1="71.80" y1="494.20" x2="71.80" y2="496.20" stroke="#111" stroke-width="0.8"/>
<line x1="88.80" y1="494.20" x2="88.80" y2="496.20" stroke="#111" stroke-width="0.8"/>
<text x="0" y="0" font-size="6.6" fill="#111" stroke="#111" text-anchor="middle" transform="translate(37.80,502.40) scale(0.9,1)">6</text>
<text x="0" y="0" font-size="6.6" fill="#111" stroke="#111" text-anchor="middle" transform="translate(54.80,502.40) scale(0.9,1)">10</text>
<text x="0" y="0" font-size="6.6" fill="#111" stroke="#111" text-anchor="middle" transform="translate(71.80,502.40) scale(0.9,1)">14</text>
<text x="0" y="0" font-size="6.6" fill="#111" stroke="#111" text-anchor="middle" transform="translate(88.80,502.40) scale(0.9,1)">18</text>
<path d="M29.30,466.00 L46.30,466.00 L63.30,466.00" stroke="#8b8a5c" stroke-width="0.9" fill="none"/>
<line x1="63.30" y1="470.40" x2="63.30" y2="461.60" stroke="#8b8a5c" stroke-width="0.7"/>
<line x1="62.10" y1="461.60" x2="64.50" y2="461.60" stroke="#8b8a5c" stroke-width="0.7"/>
<line x1="62.10" y1="470.40" x2="64.50" y2="470.40" stroke="#8b8a5c" stroke-width="0.7"/>
<rect x="28.20" y="464.90" width="2.20" height="2.20" fill="#6f6c3c"/>
<rect x="45.20" y="464.90" width="2.20" height="2.20" fill="#6f6c3c"/>
<rect x="62.20" y="464.90" width="2.20" height="2.20" fill="#6f6c3c"/>
<path d="M29.30,465.20 L46.30,465.60 L63.30,465.60" stroke="#111" stroke-width="0.9" fill="none"/>
<rect x="28.20" y="464.10" width="2.20" height="2.20" fill="#111"/>
<rect x="45.20" y="464.50" width="2.20" height="2.20" fill="#111"/>
<rect x="62.20" y="464.50" width="2.20" height="2.20" fill="#111"/>
<path d="M29.30,461.40 L46.30,455.40 L63.30,451.20" stroke="#5f9d55" stroke-width="0.9" fill="none"/>
<line x1="29.30" y1="462.20" x2="29.30" y2="460.60" stroke="#5f9d55" stroke-width="0.7"/>
<line x1="28.10" y1="460.60" x2="30.50" y2="460.60" stroke="#5f9d55" stroke-width="0.7"/>
<line x1="28.10" y1="462.20" x2="30.50" y2="462.20" stroke="#5f9d55" stroke-width="0.7"/>
<line x1="46.30" y1="457.00" x2="46.30" y2="453.80" stroke="#5f9d55" stroke-width="0.7"/>
<line x1="45.10" y1="453.80" x2="47.50" y2="453.80" stroke="#5f9d55" stroke-width="0.7"/>
<line x1="45.10" y1="457.00" x2="47.50" y2="457.00" stroke="#5f9d55" stroke-width="0.7"/>
<line x1="63.30" y1="455.20" x2="63.30" y2="447.20" stroke="#5f9d55" stroke-width="0.7"/>
<line x1="62.10" y1="447.20" x2="64.50" y2="447.20" stroke="#5f9d55" stroke-width="0.7"/>
<line x1="62.10" y1="455.20" x2="64.50" y2="455.20" stroke="#5f9d55" stroke-width="0.7"/>
<rect x="28.20" y="460.30" width="2.20" height="2.20" fill="#3f7a3a"/>
<rect x="45.20" y="454.30" width="2.20" height="2.20" fill="#3f7a3a"/>
<rect x="62.20" y="450.10" width="2.20" height="2.20" fill="#3f7a3a"/>
<path d="M29.30,457.20 L46.30,450.60 L63.30,452.20" stroke="#c98a5a" stroke-width="0.9" fill="none"/>
<line x1="29.30" y1="458.00" x2="29.30" y2="456.40" stroke="#c98a5a" stroke-width="0.7"/>
<line x1="28.10" y1="456.40" x2="30.50" y2="456.40" stroke="#c98a5a" stroke-width="0.7"/>
<line x1="28.10" y1="458.00" x2="30.50" y2="458.00" stroke="#c98a5a" stroke-width="0.7"/>
<line x1="46.30" y1="451.40" x2="46.30" y2="449.80" stroke="#c98a5a" stroke-width="0.7"/>
<line x1="45.10" y1="449.80" x2="47.50" y2="449.80" stroke="#c98a5a" stroke-width="0.7"/>
<line x1="45.10" y1="451.40" x2="47.50" y2="451.40" stroke="#c98a5a" stroke-width="0.7"/>
<line x1="63.30" y1="453.40" x2="63.30" y2="451.00" stroke="#c98a5a" stroke-width="0.7"/>
<line x1="62.10" y1="451.00" x2="64.50" y2="451.00" stroke="#c98a5a" stroke-width="0.7"/>
<line x1="62.10" y1="453.40" x2="64.50" y2="453.40" stroke="#c98a5a" stroke-width="0.7"/>
<rect x="28.20" y="456.10" width="2.20" height="2.20" fill="#9a6a3a"/>
<rect x="45.20" y="449.50" width="2.20" height="2.20" fill="#9a6a3a"/>
<rect x="62.20" y="451.10" width="2.20" height="2.20" fill="#9a6a3a"/>
<path d="M29.30,452.00 L46.30,449.60 L63.30,451.80" stroke="#d05a5a" stroke-width="0.9" fill="none"/>
<line x1="46.30" y1="450.40" x2="46.30" y2="448.80" stroke="#d05a5a" stroke-width="0.7"/>
<line x1="45.10" y1="448.80" x2="47.50" y2="448.80" stroke="#d05a5a" stroke-width="0.7"/>
<line x1="45.10" y1="450.40" x2="47.50" y2="450.40" stroke="#d05a5a" stroke-width="0.7"/>
<line x1="63.30" y1="453.00" x2="63.30" y2="450.60" stroke="#d05a5a" stroke-width="0.7"/>
<line x1="62.10" y1="450.60" x2="64.50" y2="450.60" stroke="#d05a5a" stroke-width="0.7"/>
<line x1="62.10" y1="453.00" x2="64.50" y2="453.00" stroke="#d05a5a" stroke-width="0.7"/>
<rect x="28.20" y="450.90" width="2.20" height="2.20" fill="#5a2020"/>
<rect x="45.20" y="448.50" width="2.20" height="2.20" fill="#5a2020"/>
<rect x="62.20" y="450.70" width="2.20" height="2.20" fill="#5a2020"/>
<text x="152.9" y="436.1" font-size="7" fill="#111" stroke="#111" text-anchor="middle">platelets (x10<tspan baseline-shift="2.8" font-size="5.0">12</tspan>/L)</text>
<rect x="115.20" y="489.17" width="76.80" height="4.45" fill="#d0d0d0"/>
<line x1="115.20" y1="443.10" x2="115.20" y2="495.00" stroke="#111" stroke-width="0.8"/>
<line x1="113.20" y1="495.00" x2="115.20" y2="495.00" stroke="#111" stroke-width="0.8"/>
<text x="0" y="0" font-size="6.5" fill="#111" stroke="#111" text-anchor="end" transform="translate(112.80,497.30) scale(0.9,1)">0</text>
<line x1="113.20" y1="484.72" x2="115.20" y2="484.72" stroke="#111" stroke-width="0.8"/>
<text x="0" y="0" font-size="6.5" fill="#111" stroke="#111" text-anchor="end" transform="translate(112.80,487.02) scale(0.9,1)">3</text>
<line x1="113.20" y1="474.44" x2="115.20" y2="474.44" stroke="#111" stroke-width="0.8"/>
<text x="0" y="0" font-size="6.5" fill="#111" stroke="#111" text-anchor="end" transform="translate(112.80,476.74) scale(0.9,1)">6</text>
<line x1="113.20" y1="464.16" x2="115.20" y2="464.16" stroke="#111" stroke-width="0.8"/>
<text x="0" y="0" font-size="6.5" fill="#111" stroke="#111" text-anchor="end" transform="translate(112.80,466.46) scale(0.9,1)">9</text>
<line x1="113.20" y1="453.88" x2="115.20" y2="453.88" stroke="#111" stroke-width="0.8"/>
<text x="0" y="0" font-size="6.5" fill="#111" stroke="#111" text-anchor="end" transform="translate(112.80,456.18) scale(0.9,1)">12</text>
<line x1="113.20" y1="443.60" x2="115.20" y2="443.60" stroke="#111" stroke-width="0.8"/>
<text x="0" y="0" font-size="6.5" fill="#111" stroke="#111" text-anchor="end" transform="translate(112.80,445.90) scale(0.9,1)">15</text>
<line x1="115.20" y1="495.00" x2="192.00" y2="495.00" stroke="#111" stroke-width="0.8"/>
<line x1="115.20" y1="495.00" x2="115.20" y2="497.00" stroke="#111" stroke-width="0.8"/>
<line x1="132.20" y1="495.00" x2="132.20" y2="497.00" stroke="#111" stroke-width="0.8"/>
<line x1="149.20" y1="495.00" x2="149.20" y2="497.00" stroke="#111" stroke-width="0.8"/>
<line x1="166.20" y1="495.00" x2="166.20" y2="497.00" stroke="#111" stroke-width="0.8"/>
<line x1="183.20" y1="495.00" x2="183.20" y2="497.00" stroke="#111" stroke-width="0.8"/>
<text x="0" y="0" font-size="6.6" fill="#111" stroke="#111" text-anchor="middle" transform="translate(132.20,503.20) scale(0.9,1)">6</text>
<text x="0" y="0" font-size="6.6" fill="#111" stroke="#111" text-anchor="middle" transform="translate(149.20,503.20) scale(0.9,1)">10</text>
<text x="0" y="0" font-size="6.6" fill="#111" stroke="#111" text-anchor="middle" transform="translate(166.20,503.20) scale(0.9,1)">14</text>
<text x="0" y="0" font-size="6.6" fill="#111" stroke="#111" text-anchor="middle" transform="translate(183.20,503.20) scale(0.9,1)">18</text>
<path d="M123.70,488.83 L140.70,489.17 L157.70,489.17" stroke="#111" stroke-width="0.9" fill="none"/>
<rect x="122.60" y="487.73" width="2.20" height="2.20" fill="#111"/>
<rect x="139.60" y="488.07" width="2.20" height="2.20" fill="#111"/>
<rect x="156.60" y="488.07" width="2.20" height="2.20" fill="#111"/>
<path d="M123.70,486.43 L140.70,488.15 L157.70,477.18" stroke="#8b8a5c" stroke-width="0.9" fill="none"/>
<line x1="123.70" y1="487.46" x2="123.70" y2="485.41" stroke="#8b8a5c" stroke-width="0.7"/>
<line x1="122.50" y1="485.41" x2="124.90" y2="485.41" stroke="#8b8a5c" stroke-width="0.7"/>
<line x1="122.50" y1="487.46" x2="124.90" y2="487.46" stroke="#8b8a5c" stroke-width="0.7"/>
<line x1="157.70" y1="478.89" x2="157.70" y2="475.47" stroke="#8b8a5c" stroke-width="0.7"/>
<line x1="156.50" y1="475.47" x2="158.90" y2="475.47" stroke="#8b8a5c" stroke-width="0.7"/>
<line x1="156.50" y1="478.89" x2="158.90" y2="478.89" stroke="#8b8a5c" stroke-width="0.7"/>
<rect x="122.60" y="485.33" width="2.20" height="2.20" fill="#6f6c3c"/>
<rect x="139.60" y="487.05" width="2.20" height="2.20" fill="#6f6c3c"/>
<rect x="156.60" y="476.08" width="2.20" height="2.20" fill="#6f6c3c"/>
<path d="M123.70,488.15 L140.70,483.01 L157.70,478.55" stroke="#5f9d55" stroke-width="0.9" fill="none"/>
<line x1="140.70" y1="484.38" x2="140.70" y2="481.64" stroke="#5f9d55" stroke-width="0.7"/>
<line x1="139.50" y1="481.64" x2="141.90" y2="481.64" stroke="#5f9d55" stroke-width="0.7"/>
<line x1="139.50" y1="484.38" x2="141.90" y2="484.38" stroke="#5f9d55" stroke-width="0.7"/>
<line x1="157.70" y1="480.61" x2="157.70" y2="476.50" stroke="#5f9d55" stroke-width="0.7"/>
<line x1="156.50" y1="476.50" x2="158.90" y2="476.50" stroke="#5f9d55" stroke-width="0.7"/>
<line x1="156.50" y1="480.61" x2="158.90" y2="480.61" stroke="#5f9d55" stroke-width="0.7"/>
<rect x="122.60" y="487.05" width="2.20" height="2.20" fill="#3f7a3a"/>
<rect x="139.60" y="481.91" width="2.20" height="2.20" fill="#3f7a3a"/>
<rect x="156.60" y="477.45" width="2.20" height="2.20" fill="#3f7a3a"/>
<path d="M123.70,487.46 L140.70,484.38 L157.70,475.81" stroke="#c98a5a" stroke-width="0.9" fill="none"/>
<line x1="140.70" y1="485.41" x2="140.70" y2="483.35" stroke="#c98a5a" stroke-width="0.7"/>
<line x1="139.50" y1="483.35" x2="141.90" y2="483.35" stroke="#c98a5a" stroke-width="0.7"/>
<line x1="139.50" y1="485.41" x2="141.90" y2="485.41" stroke="#c98a5a" stroke-width="0.7"/>
<line x1="157.70" y1="477.52" x2="157.70" y2="474.10" stroke="#c98a5a" stroke-width="0.7"/>
<line x1="156.50" y1="474.10" x2="158.90" y2="474.10" stroke="#c98a5a" stroke-width="0.7"/>
<line x1="156.50" y1="477.52" x2="158.90" y2="477.52" stroke="#c98a5a" stroke-width="0.7"/>
<rect x="122.60" y="486.36" width="2.20" height="2.20" fill="#9a6a3a"/>
<rect x="139.60" y="483.28" width="2.20" height="2.20" fill="#9a6a3a"/>
<rect x="156.60" y="474.71" width="2.20" height="2.20" fill="#9a6a3a"/>
<path d="M123.70,488.15 L140.70,486.43 L157.70,474.78" stroke="#c8403f" stroke-width="0.9" fill="none"/>
<line x1="140.70" y1="488.49" x2="140.70" y2="484.38" stroke="#c8403f" stroke-width="0.7"/>
<line x1="139.50" y1="484.38" x2="141.90" y2="484.38" stroke="#c8403f" stroke-width="0.7"/>
<line x1="139.50" y1="488.49" x2="141.90" y2="488.49" stroke="#c8403f" stroke-width="0.7"/>
<line x1="157.70" y1="476.50" x2="157.70" y2="473.07" stroke="#c8403f" stroke-width="0.7"/>
<line x1="156.50" y1="473.07" x2="158.90" y2="473.07" stroke="#c8403f" stroke-width="0.7"/>
<line x1="156.50" y1="476.50" x2="158.90" y2="476.50" stroke="#c8403f" stroke-width="0.7"/>
<rect x="122.60" y="487.05" width="2.20" height="2.20" fill="#8a2626"/>
<rect x="139.60" y="485.33" width="2.20" height="2.20" fill="#8a2626"/>
<rect x="156.60" y="473.68" width="2.20" height="2.20" fill="#8a2626"/>
<text x="258.3" y="436.1" font-size="7" fill="#111" stroke="#111" text-anchor="middle">neutrophils (x10<tspan baseline-shift="2.8" font-size="5.0">9</tspan>/L)</text>
<rect x="218.20" y="491.12" width="76.80" height="3.58" fill="#d0d0d0"/>
<line x1="218.20" y1="443.10" x2="218.20" y2="494.70" stroke="#111" stroke-width="0.8"/>
<line x1="216.20" y1="494.70" x2="218.20" y2="494.70" stroke="#111" stroke-width="0.8"/>
<text x="0" y="0" font-size="6.5" fill="#111" stroke="#111" text-anchor="end" transform="translate(215.80,497.00) scale(0.9,1)">0</text>
<line x1="216.20" y1="484.48" x2="218.20" y2="484.48" stroke="#111" stroke-width="0.8"/>
<text x="0" y="0" font-size="6.5" fill="#111" stroke="#111" text-anchor="end" transform="translate(215.80,486.78) scale(0.9,1)">10</text>
<line x1="216.20" y1="474.26" x2="218.20" y2="474.26" stroke="#111" stroke-width="0.8"/>
<text x="0" y="0" font-size="6.5" fill="#111" stroke="#111" text-anchor="end" transform="translate(215.80,476.56) scale(0.9,1)">20</text>
<line x1="216.20" y1="464.04" x2="218.20" y2="464.04" stroke="#111" stroke-width="0.8"/>
<text x="0" y="0" font-size="6.5" fill="#111" stroke="#111" text-anchor="end" transform="translate(215.80,466.34) scale(0.9,1)">30</text>
<line x1="216.20" y1="453.82" x2="218.20" y2="453.82" stroke="#111" stroke-width="0.8"/>
<text x="0" y="0" font-size="6.5" fill="#111" stroke="#111" text-anchor="end" transform="translate(215.80,456.12) scale(0.9,1)">40</text>
<line x1="216.20" y1="443.60" x2="218.20" y2="443.60" stroke="#111" stroke-width="0.8"/>
<text x="0" y="0" font-size="6.5" fill="#111" stroke="#111" text-anchor="end" transform="translate(215.80,445.90) scale(0.9,1)">50</text>
<line x1="218.20" y1="494.70" x2="295.00" y2="494.70" stroke="#111" stroke-width="0.8"/>
<line x1="218.20" y1="494.70" x2="218.20" y2="496.70" stroke="#111" stroke-width="0.8"/>
<line x1="235.20" y1="494.70" x2="235.20" y2="496.70" stroke="#111" stroke-width="0.8"/>
<line x1="252.20" y1="494.70" x2="252.20" y2="496.70" stroke="#111" stroke-width="0.8"/>
<line x1="269.20" y1="494.70" x2="269.20" y2="496.70" stroke="#111" stroke-width="0.8"/>
<line x1="286.20" y1="494.70" x2="286.20" y2="496.70" stroke="#111" stroke-width="0.8"/>
<text x="0" y="0" font-size="6.6" fill="#111" stroke="#111" text-anchor="middle" transform="translate(235.20,502.90) scale(0.9,1)">6</text>
<text x="0" y="0" font-size="6.6" fill="#111" stroke="#111" text-anchor="middle" transform="translate(252.20,502.90) scale(0.9,1)">10</text>
<text x="0" y="0" font-size="6.6" fill="#111" stroke="#111" text-anchor="middle" transform="translate(269.20,502.90) scale(0.9,1)">14</text>
<text x="0" y="0" font-size="6.6" fill="#111" stroke="#111" text-anchor="middle" transform="translate(286.20,502.90) scale(0.9,1)">18</text>
<path d="M226.70,494.19 L243.70,494.50 L260.70,493.17" stroke="#111" stroke-width="0.9" fill="none"/>
<rect x="225.60" y="493.09" width="2.20" height="2.20" fill="#111"/>
<rect x="242.60" y="493.40" width="2.20" height="2.20" fill="#111"/>
<rect x="259.60" y="492.07" width="2.20" height="2.20" fill="#111"/>
<path d="M226.70,493.17 L243.70,491.63 L260.70,483.46" stroke="#5f9d55" stroke-width="0.9" fill="none"/>
<line x1="260.70" y1="485.50" x2="260.70" y2="481.41" stroke="#5f9d55" stroke-width="0.7"/>
<line x1="259.50" y1="481.41" x2="261.90" y2="481.41" stroke="#5f9d55" stroke-width="0.7"/>
<line x1="259.50" y1="485.50" x2="261.90" y2="485.50" stroke="#5f9d55" stroke-width="0.7"/>
<rect x="225.60" y="492.07" width="2.20" height="2.20" fill="#3f7a3a"/>
<rect x="242.60" y="490.53" width="2.20" height="2.20" fill="#3f7a3a"/>
<rect x="259.60" y="482.36" width="2.20" height="2.20" fill="#3f7a3a"/>
<path d="M226.70,492.14 L243.70,491.12 L260.70,481.41" stroke="#8b8a5c" stroke-width="0.9" fill="none"/>
<line x1="260.70" y1="483.46" x2="260.70" y2="479.37" stroke="#8b8a5c" stroke-width="0.7"/>
<line x1="259.50" y1="479.37" x2="261.90" y2="479.37" stroke="#8b8a5c" stroke-width="0.7"/>
<line x1="259.50" y1="483.46" x2="261.90" y2="483.46" stroke="#8b8a5c" stroke-width="0.7"/>
<rect x="225.60" y="491.04" width="2.20" height="2.20" fill="#6f6c3c"/>
<rect x="242.60" y="490.02" width="2.20" height="2.20" fill="#6f6c3c"/>
<rect x="259.60" y="480.31" width="2.20" height="2.20" fill="#6f6c3c"/>
<path d="M226.70,492.66 L243.70,487.55 L260.70,478.86" stroke="#c98a5a" stroke-width="0.9" fill="none"/>
<line x1="243.70" y1="491.63" x2="243.70" y2="483.46" stroke="#c98a5a" stroke-width="0.7"/>
<line x1="242.50" y1="483.46" x2="244.90" y2="483.46" stroke="#c98a5a" stroke-width="0.7"/>
<line x1="242.50" y1="491.63" x2="244.90" y2="491.63" stroke="#c98a5a" stroke-width="0.7"/>
<line x1="260.70" y1="480.90" x2="260.70" y2="476.81" stroke="#c98a5a" stroke-width="0.7"/>
<line x1="259.50" y1="476.81" x2="261.90" y2="476.81" stroke="#c98a5a" stroke-width="0.7"/>
<line x1="259.50" y1="480.90" x2="261.90" y2="480.90" stroke="#c98a5a" stroke-width="0.7"/>
<rect x="225.60" y="491.56" width="2.20" height="2.20" fill="#9a6a3a"/>
<rect x="242.60" y="486.45" width="2.20" height="2.20" fill="#9a6a3a"/>
<rect x="259.60" y="477.76" width="2.20" height="2.20" fill="#9a6a3a"/>
<path d="M226.70,493.17 L243.70,490.61 L260.70,477.33" stroke="#c8403f" stroke-width="0.9" fill="none"/>
<line x1="260.70" y1="480.39" x2="260.70" y2="474.26" stroke="#c8403f" stroke-width="0.7"/>
<line x1="259.50" y1="474.26" x2="261.90" y2="474.26" stroke="#c8403f" stroke-width="0.7"/>
<line x1="259.50" y1="480.39" x2="261.90" y2="480.39" stroke="#c8403f" stroke-width="0.7"/>
<rect x="225.60" y="492.07" width="2.20" height="2.20" fill="#8a2626"/>
<rect x="242.60" y="489.51" width="2.20" height="2.20" fill="#8a2626"/>
<rect x="259.60" y="476.23" width="2.20" height="2.20" fill="#8a2626"/>
<text x="347.5" y="436.1" font-size="7" fill="#111" stroke="#111" text-anchor="middle">% of survival</text>
<line x1="322.60" y1="442.30" x2="322.60" y2="492.80" stroke="#111" stroke-width="0.8"/>
<line x1="320.60" y1="492.80" x2="322.60" y2="492.80" stroke="#111" stroke-width="0.8"/>
<text x="0" y="0" font-size="6.5" fill="#111" stroke="#111" text-anchor="end" transform="translate(320.20,495.10) scale(0.9,1)">0</text>
<line x1="320.60" y1="480.30" x2="322.60" y2="480.30" stroke="#111" stroke-width="0.8"/>
<text x="0" y="0" font-size="6.5" fill="#111" stroke="#111" text-anchor="end" transform="translate(320.20,482.60) scale(0.9,1)">25</text>
<line x1="320.60" y1="467.80" x2="322.60" y2="467.80" stroke="#111" stroke-width="0.8"/>
<text x="0" y="0" font-size="6.5" fill="#111" stroke="#111" text-anchor="end" transform="translate(320.20,470.10) scale(0.9,1)">50</text>
<line x1="320.60" y1="455.30" x2="322.60" y2="455.30" stroke="#111" stroke-width="0.8"/>
<text x="0" y="0" font-size="6.5" fill="#111" stroke="#111" text-anchor="end" transform="translate(320.20,457.60) scale(0.9,1)">75</text>
<line x1="320.60" y1="442.80" x2="322.60" y2="442.80" stroke="#111" stroke-width="0.8"/>
<text x="0" y="0" font-size="6.5" fill="#111" stroke="#111" text-anchor="end" transform="translate(320.20,445.10) scale(0.9,1)">100</text>
<line x1="322.60" y1="492.80" x2="399.20" y2="492.80" stroke="#111" stroke-width="0.8"/>
<line x1="322.40" y1="492.80" x2="322.40" y2="494.80" stroke="#111" stroke-width="0.8"/>
<line x1="328.80" y1="492.80" x2="328.80" y2="494.80" stroke="#111" stroke-width="0.8"/>
<line x1="335.20" y1="492.80" x2="335.20" y2="494.80" stroke="#111" stroke-width="0.8"/>
<line x1="341.60" y1="492.80" x2="341.60" y2="494.80" stroke="#111" stroke-width="0.8"/>
<line x1="348.00" y1="492.80" x2="348.00" y2="494.80" stroke="#111" stroke-width="0.8"/>
<line x1="354.40" y1="492.80" x2="354.40" y2="494.80" stroke="#111" stroke-width="0.8"/>
<line x1="360.80" y1="492.80" x2="360.80" y2="494.80" stroke="#111" stroke-width="0.8"/>
<line x1="367.20" y1="492.80" x2="367.20" y2="494.80" stroke="#111" stroke-width="0.8"/>
<line x1="373.60" y1="492.80" x2="373.60" y2="494.80" stroke="#111" stroke-width="0.8"/>
<line x1="380.00" y1="492.80" x2="380.00" y2="494.80" stroke="#111" stroke-width="0.8"/>
<line x1="386.40" y1="492.80" x2="386.40" y2="494.80" stroke="#111" stroke-width="0.8"/>
<line x1="392.80" y1="492.80" x2="392.80" y2="494.80" stroke="#111" stroke-width="0.8"/>
<line x1="399.20" y1="492.80" x2="399.20" y2="494.80" stroke="#111" stroke-width="0.8"/>
<text x="0" y="0" font-size="6.6" fill="#111" stroke="#111" text-anchor="middle" transform="translate(335.20,502.00) scale(0.9,1)">10</text>
<text x="0" y="0" font-size="6.6" fill="#111" stroke="#111" text-anchor="middle" transform="translate(348.00,502.00) scale(0.9,1)">18</text>
<text x="0" y="0" font-size="6.6" fill="#111" stroke="#111" text-anchor="middle" transform="translate(360.80,502.00) scale(0.9,1)">26</text>
<text x="0" y="0" font-size="6.6" fill="#111" stroke="#111" text-anchor="middle" transform="translate(373.60,502.00) scale(0.9,1)">34</text>
<text x="0" y="0" font-size="6.6" fill="#111" stroke="#111" text-anchor="middle" transform="translate(386.40,502.00) scale(0.9,1)">42</text>
<text x="0" y="0" font-size="6.6" fill="#111" stroke="#111" text-anchor="middle" transform="translate(399.20,502.00) scale(0.9,1)">50</text>
<text x="362.1" y="510.6" font-size="6.3" fill="#111" stroke="#111" text-anchor="middle">weeks after tamoxifen</text>
<path d="M322.60,442.80 H359.56 V442.80" stroke="#a0a0a0" stroke-width="0.8" fill="none"/>
<path d="M322.60,442.80 H327.84 V442.80 H327.84 V445.80 H329.07 V445.80 H329.07 V449.00 H330.30 V449.00 H330.30 V451.80 H359.56 V451.80" stroke="#9a9a72" stroke-width="0.8" fill="none"/>
<path d="M340.77,442.80 H340.77 V456.00 H344.01 V456.00 H344.01 V459.30 H359.56 V459.30" stroke="#8a9a9a" stroke-width="0.8" fill="none"/>
<path d="M330.30,451.80 H344.01 V451.80 H344.01 V465.00 H347.39 V465.00 H347.39 V475.40 H352.94 V475.40 H352.94 V478.80 H355.86 V478.80 H355.86 V483.90 H359.10 V483.90 H359.10 V492.80" stroke="#c0a070" stroke-width="0.8" fill="none"/>
<path d="M327.84,445.80 H329.07 V445.80 H329.07 V449.00 H330.30 V449.00 H330.30 V451.80 H333.69 V451.80 H333.69 V468.10 H336.46 V468.10 H336.46 V478.30 H338.00 V478.30 H338.00 V483.30 H340.62 V483.30 H340.62 V488.60 H345.55 V488.60 H345.55 V492.80" stroke="#d06a6a" stroke-width="0.8" fill="none"/>
<text x="59.6" y="518.1" font-size="7" fill="#111" stroke="#111" text-anchor="middle">RBC (x10<tspan baseline-shift="2.8" font-size="5.0">12</tspan>/L)</text>
<rect x="20.20" y="554.44" width="75.80" height="7.66" fill="#d0d0d0"/>
<line x1="20.20" y1="523.70" x2="20.20" y2="574.60" stroke="#111" stroke-width="0.8"/>
<line x1="18.20" y1="574.60" x2="20.20" y2="574.60" stroke="#111" stroke-width="0.8"/>
<text x="0" y="0" font-size="6.5" fill="#111" stroke="#111" text-anchor="end" transform="translate(17.80,576.90) scale(0.9,1)">0</text>
<line x1="18.20" y1="564.52" x2="20.20" y2="564.52" stroke="#111" stroke-width="0.8"/>
<text x="0" y="0" font-size="6.5" fill="#111" stroke="#111" text-anchor="end" transform="translate(17.80,566.82) scale(0.9,1)">5</text>
<line x1="18.20" y1="554.44" x2="20.20" y2="554.44" stroke="#111" stroke-width="0.8"/>
<text x="0" y="0" font-size="6.5" fill="#111" stroke="#111" text-anchor="end" transform="translate(17.80,556.74) scale(0.9,1)">10</text>
<line x1="18.20" y1="544.36" x2="20.20" y2="544.36" stroke="#111" stroke-width="0.8"/>
<text x="0" y="0" font-size="6.5" fill="#111" stroke="#111" text-anchor="end" transform="translate(17.80,546.66) scale(0.9,1)">15</text>
<line x1="18.20" y1="534.28" x2="20.20" y2="534.28" stroke="#111" stroke-width="0.8"/>
<text x="0" y="0" font-size="6.5" fill="#111" stroke="#111" text-anchor="end" transform="translate(17.80,536.58) scale(0.9,1)">20</text>
<line x1="18.20" y1="524.20" x2="20.20" y2="524.20" stroke="#111" stroke-width="0.8"/>
<text x="0" y="0" font-size="6.5" fill="#111" stroke="#111" text-anchor="end" transform="translate(17.80,526.50) scale(0.9,1)">25</text>
<line x1="20.20" y1="574.60" x2="96.00" y2="574.60" stroke="#111" stroke-width="0.8"/>
<line x1="20.20" y1="574.60" x2="20.20" y2="576.60" stroke="#111" stroke-width="0.8"/>
<line x1="37.20" y1="574.60" x2="37.20" y2="576.60" stroke="#111" stroke-width="0.8"/>
<line x1="54.20" y1="574.60" x2="54.20" y2="576.60" stroke="#111" stroke-width="0.8"/>
<line x1="71.20" y1="574.60" x2="71.20" y2="576.60" stroke="#111" stroke-width="0.8"/>
<line x1="88.20" y1="574.60" x2="88.20" y2="576.60" stroke="#111" stroke-width="0.8"/>
<text x="0" y="0" font-size="6.6" fill="#111" stroke="#111" text-anchor="middle" transform="translate(37.20,581.50) scale(0.9,1)">6</text>
<text x="0" y="0" font-size="6.6" fill="#111" stroke="#111" text-anchor="middle" transform="translate(54.20,581.50) scale(0.9,1)">10</text>
<text x="0" y="0" font-size="6.6" fill="#111" stroke="#111" text-anchor="middle" transform="translate(71.20,581.50) scale(0.9,1)">14</text>
<text x="0" y="0" font-size="6.6" fill="#111" stroke="#111" text-anchor="middle" transform="translate(88.20,581.50) scale(0.9,1)">18</text>
<text x="51.6" y="590.0" font-size="6.3" fill="#111" stroke="#111" text-anchor="middle">weeks after tamoxifen</text>
<path d="M28.70,556.86 L45.70,555.45 L62.70,555.45" stroke="#8b8a5c" stroke-width="0.9" fill="none"/>
<rect x="27.60" y="555.76" width="2.20" height="2.20" fill="#6f6c3c"/>
<rect x="44.60" y="554.35" width="2.20" height="2.20" fill="#6f6c3c"/>
<rect x="61.60" y="554.35" width="2.20" height="2.20" fill="#6f6c3c"/>
<path d="M28.70,556.86 L45.70,555.45 L62.70,554.44" stroke="#111" stroke-width="0.9" fill="none"/>
<rect x="27.60" y="555.76" width="2.20" height="2.20" fill="#111"/>
<rect x="44.60" y="554.35" width="2.20" height="2.20" fill="#111"/>
<rect x="61.60" y="553.34" width="2.20" height="2.20" fill="#111"/>
<path d="M28.70,551.82 L45.70,548.39 L62.70,545.37" stroke="#5f9d55" stroke-width="0.9" fill="none"/>
<line x1="28.70" y1="552.63" x2="28.70" y2="551.01" stroke="#5f9d55" stroke-width="0.7"/>
<line x1="27.50" y1="551.01" x2="29.90" y2="551.01" stroke="#5f9d55" stroke-width="0.7"/>
<line x1="27.50" y1="552.63" x2="29.90" y2="552.63" stroke="#5f9d55" stroke-width="0.7"/>
<line x1="45.70" y1="550.00" x2="45.70" y2="546.78" stroke="#5f9d55" stroke-width="0.7"/>
<line x1="44.50" y1="546.78" x2="46.90" y2="546.78" stroke="#5f9d55" stroke-width="0.7"/>
<line x1="44.50" y1="550.00" x2="46.90" y2="550.00" stroke="#5f9d55" stroke-width="0.7"/>
<line x1="62.70" y1="547.38" x2="62.70" y2="543.35" stroke="#5f9d55" stroke-width="0.7"/>
<line x1="61.50" y1="543.35" x2="63.90" y2="543.35" stroke="#5f9d55" stroke-width="0.7"/>
<line x1="61.50" y1="547.38" x2="63.90" y2="547.38" stroke="#5f9d55" stroke-width="0.7"/>
<rect x="27.60" y="550.72" width="2.20" height="2.20" fill="#3f7a3a"/>
<rect x="44.60" y="547.29" width="2.20" height="2.20" fill="#3f7a3a"/>
<rect x="61.60" y="544.27" width="2.20" height="2.20" fill="#3f7a3a"/>
<path d="M28.70,550.41 L45.70,541.34 L62.70,536.30" stroke="#c98a5a" stroke-width="0.9" fill="none"/>
<line x1="28.70" y1="551.42" x2="28.70" y2="549.40" stroke="#c98a5a" stroke-width="0.7"/>
<line x1="27.50" y1="549.40" x2="29.90" y2="549.40" stroke="#c98a5a" stroke-width="0.7"/>
<line x1="27.50" y1="551.42" x2="29.90" y2="551.42" stroke="#c98a5a" stroke-width="0.7"/>
<line x1="45.70" y1="542.34" x2="45.70" y2="540.33" stroke="#c98a5a" stroke-width="0.7"/>
<line x1="44.50" y1="540.33" x2="46.90" y2="540.33" stroke="#c98a5a" stroke-width="0.7"/>
<line x1="44.50" y1="542.34" x2="46.90" y2="542.34" stroke="#c98a5a" stroke-width="0.7"/>
<line x1="62.70" y1="537.30" x2="62.70" y2="535.29" stroke="#c98a5a" stroke-width="0.7"/>
<line x1="61.50" y1="535.29" x2="63.90" y2="535.29" stroke="#c98a5a" stroke-width="0.7"/>
<line x1="61.50" y1="537.30" x2="63.90" y2="537.30" stroke="#c98a5a" stroke-width="0.7"/>
<rect x="27.60" y="549.31" width="2.20" height="2.20" fill="#9a6a3a"/>
<rect x="44.60" y="540.24" width="2.20" height="2.20" fill="#9a6a3a"/>
<rect x="61.60" y="535.20" width="2.20" height="2.20" fill="#9a6a3a"/>
<path d="M28.70,543.35 L45.70,534.28 L62.70,526.22" stroke="#c8403f" stroke-width="0.9" fill="none"/>
<line x1="28.70" y1="545.77" x2="28.70" y2="540.93" stroke="#c8403f" stroke-width="0.7"/>
<line x1="27.50" y1="540.93" x2="29.90" y2="540.93" stroke="#c8403f" stroke-width="0.7"/>
<line x1="27.50" y1="545.77" x2="29.90" y2="545.77" stroke="#c8403f" stroke-width="0.7"/>
<line x1="45.70" y1="536.70" x2="45.70" y2="531.86" stroke="#c8403f" stroke-width="0.7"/>
<line x1="44.50" y1="531.86" x2="46.90" y2="531.86" stroke="#c8403f" stroke-width="0.7"/>
<line x1="44.50" y1="536.70" x2="46.90" y2="536.70" stroke="#c8403f" stroke-width="0.7"/>
<rect x="27.60" y="542.25" width="2.20" height="2.20" fill="#8a2626"/>
<rect x="44.60" y="533.18" width="2.20" height="2.20" fill="#8a2626"/>
<rect x="61.60" y="525.12" width="2.20" height="2.20" fill="#8a2626"/>
<text x="154.6" y="518.1" font-size="7" fill="#111" stroke="#111" text-anchor="middle">reticulocytes (x10<tspan baseline-shift="2.8" font-size="5.0">9</tspan>/L)</text>
<rect x="116.20" y="565.62" width="76.80" height="7.74" fill="#d0d0d0"/>
<line x1="116.20" y1="527.30" x2="116.20" y2="575.70" stroke="#111" stroke-width="0.8"/>
<line x1="114.20" y1="575.70" x2="116.20" y2="575.70" stroke="#111" stroke-width="0.8"/>
<text x="0" y="0" font-size="6.5" fill="#111" stroke="#111" text-anchor="end" transform="translate(113.80,578.00) scale(0.9,1)">0</text>
<line x1="114.20" y1="563.98" x2="116.20" y2="563.98" stroke="#111" stroke-width="0.8"/>
<text x="0" y="0" font-size="6.5" fill="#111" stroke="#111" text-anchor="end" transform="translate(113.80,566.27) scale(0.9,1)">500</text>
<line x1="114.20" y1="552.25" x2="116.20" y2="552.25" stroke="#111" stroke-width="0.8"/>
<text x="0" y="0" font-size="6.5" fill="#111" stroke="#111" text-anchor="end" transform="translate(113.80,554.55) scale(0.9,1)">1000</text>
<line x1="114.20" y1="540.52" x2="116.20" y2="540.52" stroke="#111" stroke-width="0.8"/>
<text x="0" y="0" font-size="6.5" fill="#111" stroke="#111" text-anchor="end" transform="translate(113.80,542.82) scale(0.9,1)">1500</text>
<line x1="114.20" y1="528.80" x2="116.20" y2="528.80" stroke="#111" stroke-width="0.8"/>
<text x="0" y="0" font-size="6.5" fill="#111" stroke="#111" text-anchor="end" transform="translate(113.80,531.10) scale(0.9,1)">2000</text>
<line x1="116.20" y1="575.70" x2="193.00" y2="575.70" stroke="#111" stroke-width="0.8"/>
<line x1="116.20" y1="575.70" x2="116.20" y2="577.70" stroke="#111" stroke-width="0.8"/>
<line x1="133.20" y1="575.70" x2="133.20" y2="577.70" stroke="#111" stroke-width="0.8"/>
<line x1="150.20" y1="575.70" x2="150.20" y2="577.70" stroke="#111" stroke-width="0.8"/>
<line x1="167.20" y1="575.70" x2="167.20" y2="577.70" stroke="#111" stroke-width="0.8"/>
<line x1="184.20" y1="575.70" x2="184.20" y2="577.70" stroke="#111" stroke-width="0.8"/>
<text x="0" y="0" font-size="6.6" fill="#111" stroke="#111" text-anchor="middle" transform="translate(133.20,583.80) scale(0.9,1)">6</text>
<text x="0" y="0" font-size="6.6" fill="#111" stroke="#111" text-anchor="middle" transform="translate(150.20,583.80) scale(0.9,1)">10</text>
<text x="0" y="0" font-size="6.6" fill="#111" stroke="#111" text-anchor="middle" transform="translate(167.20,583.80) scale(0.9,1)">14</text>
<text x="0" y="0" font-size="6.6" fill="#111" stroke="#111" text-anchor="middle" transform="translate(184.20,583.80) scale(0.9,1)">18</text>
<path d="M124.70,568.20 L141.70,568.20 L158.70,568.90" stroke="#8b8a5c" stroke-width="0.9" fill="none"/>
<rect x="123.60" y="567.10" width="2.20" height="2.20" fill="#6f6c3c"/>
<rect x="140.60" y="567.10" width="2.20" height="2.20" fill="#6f6c3c"/>
<rect x="157.60" y="567.80" width="2.20" height="2.20" fill="#6f6c3c"/>
<path d="M124.70,568.43 L141.70,568.43 L158.70,568.90" stroke="#111" stroke-width="0.9" fill="none"/>
<rect x="123.60" y="567.33" width="2.20" height="2.20" fill="#111"/>
<rect x="140.60" y="567.33" width="2.20" height="2.20" fill="#111"/>
<rect x="157.60" y="567.80" width="2.20" height="2.20" fill="#111"/>
<path d="M124.70,567.49 L141.70,561.86 L158.70,559.75" stroke="#5f9d55" stroke-width="0.9" fill="none"/>
<line x1="124.70" y1="568.43" x2="124.70" y2="566.55" stroke="#5f9d55" stroke-width="0.7"/>
<line x1="123.50" y1="566.55" x2="125.90" y2="566.55" stroke="#5f9d55" stroke-width="0.7"/>
<line x1="123.50" y1="568.43" x2="125.90" y2="568.43" stroke="#5f9d55" stroke-width="0.7"/>
<line x1="141.70" y1="563.51" x2="141.70" y2="560.22" stroke="#5f9d55" stroke-width="0.7"/>
<line x1="140.50" y1="560.22" x2="142.90" y2="560.22" stroke="#5f9d55" stroke-width="0.7"/>
<line x1="140.50" y1="563.51" x2="142.90" y2="563.51" stroke="#5f9d55" stroke-width="0.7"/>
<line x1="158.70" y1="561.16" x2="158.70" y2="558.35" stroke="#5f9d55" stroke-width="0.7"/>
<line x1="157.50" y1="558.35" x2="159.90" y2="558.35" stroke="#5f9d55" stroke-width="0.7"/>
<line x1="157.50" y1="561.16" x2="159.90" y2="561.16" stroke="#5f9d55" stroke-width="0.7"/>
<rect x="123.60" y="566.39" width="2.20" height="2.20" fill="#3f7a3a"/>
<rect x="140.60" y="560.76" width="2.20" height="2.20" fill="#3f7a3a"/>
<rect x="157.60" y="558.65" width="2.20" height="2.20" fill="#3f7a3a"/>
<path d="M124.70,559.28 L141.70,546.39 L158.70,547.56" stroke="#c98a5a" stroke-width="0.9" fill="none"/>
<line x1="124.70" y1="561.16" x2="124.70" y2="557.41" stroke="#c98a5a" stroke-width="0.7"/>
<line x1="123.50" y1="557.41" x2="125.90" y2="557.41" stroke="#c98a5a" stroke-width="0.7"/>
<line x1="123.50" y1="561.16" x2="125.90" y2="561.16" stroke="#c98a5a" stroke-width="0.7"/>
<line x1="141.70" y1="548.26" x2="141.70" y2="544.51" stroke="#c98a5a" stroke-width="0.7"/>
<line x1="140.50" y1="544.51" x2="142.90" y2="544.51" stroke="#c98a5a" stroke-width="0.7"/>
<line x1="140.50" y1="548.26" x2="142.90" y2="548.26" stroke="#c98a5a" stroke-width="0.7"/>
<line x1="158.70" y1="550.61" x2="158.70" y2="544.51" stroke="#c98a5a" stroke-width="0.7"/>
<line x1="157.50" y1="544.51" x2="159.90" y2="544.51" stroke="#c98a5a" stroke-width="0.7"/>
<line x1="157.50" y1="550.61" x2="159.90" y2="550.61" stroke="#c98a5a" stroke-width="0.7"/>
<rect x="123.60" y="558.18" width="2.20" height="2.20" fill="#9a6a3a"/>
<rect x="140.60" y="545.29" width="2.20" height="2.20" fill="#9a6a3a"/>
<rect x="157.60" y="546.46" width="2.20" height="2.20" fill="#9a6a3a"/>
<path d="M124.70,539.82 L141.70,536.30 L158.70,533.49" stroke="#c8403f" stroke-width="0.9" fill="none"/>
<line x1="124.70" y1="547.56" x2="124.70" y2="532.08" stroke="#c8403f" stroke-width="0.7"/>
<line x1="123.50" y1="532.08" x2="125.90" y2="532.08" stroke="#c8403f" stroke-width="0.7"/>
<line x1="123.50" y1="547.56" x2="125.90" y2="547.56" stroke="#c8403f" stroke-width="0.7"/>
<line x1="141.70" y1="538.65" x2="141.70" y2="533.96" stroke="#c8403f" stroke-width="0.7"/>
<line x1="140.50" y1="533.96" x2="142.90" y2="533.96" stroke="#c8403f" stroke-width="0.7"/>
<line x1="140.50" y1="538.65" x2="142.90" y2="538.65" stroke="#c8403f" stroke-width="0.7"/>
<rect x="123.60" y="538.72" width="2.20" height="2.20" fill="#8a2626"/>
<rect x="140.60" y="535.20" width="2.20" height="2.20" fill="#8a2626"/>
<rect x="157.60" y="532.39" width="2.20" height="2.20" fill="#8a2626"/>
<text x="254.8" y="518.1" font-size="7" fill="#111" stroke="#111" text-anchor="middle">MCV (fl)</text>
<rect x="217.80" y="532.78" width="76.20" height="6.44" fill="#d0d0d0"/>
<line x1="217.80" y1="523.70" x2="217.80" y2="575.70" stroke="#111" stroke-width="0.8"/>
<line x1="215.80" y1="575.70" x2="217.80" y2="575.70" stroke="#111" stroke-width="0.8"/>
<text x="0" y="0" font-size="6.5" fill="#111" stroke="#111" text-anchor="end" transform="translate(215.40,578.00) scale(0.9,1)">0</text>
<line x1="215.80" y1="558.53" x2="217.80" y2="558.53" stroke="#111" stroke-width="0.8"/>
<text x="0" y="0" font-size="6.5" fill="#111" stroke="#111" text-anchor="end" transform="translate(215.40,560.83) scale(0.9,1)">20</text>
<line x1="215.80" y1="541.37" x2="217.80" y2="541.37" stroke="#111" stroke-width="0.8"/>
<text x="0" y="0" font-size="6.5" fill="#111" stroke="#111" text-anchor="end" transform="translate(215.40,543.67) scale(0.9,1)">40</text>
<line x1="215.80" y1="524.20" x2="217.80" y2="524.20" stroke="#111" stroke-width="0.8"/>
<text x="0" y="0" font-size="6.5" fill="#111" stroke="#111" text-anchor="end" transform="translate(215.40,526.50) scale(0.9,1)">60</text>
<line x1="217.80" y1="575.70" x2="294.00" y2="575.70" stroke="#111" stroke-width="0.8"/>
<line x1="217.80" y1="575.70" x2="217.80" y2="577.70" stroke="#111" stroke-width="0.8"/>
<line x1="234.80" y1="575.70" x2="234.80" y2="577.70" stroke="#111" stroke-width="0.8"/>
<line x1="251.80" y1="575.70" x2="251.80" y2="577.70" stroke="#111" stroke-width="0.8"/>
<line x1="268.80" y1="575.70" x2="268.80" y2="577.70" stroke="#111" stroke-width="0.8"/>
<line x1="285.80" y1="575.70" x2="285.80" y2="577.70" stroke="#111" stroke-width="0.8"/>
<text x="0" y="0" font-size="6.6" fill="#111" stroke="#111" text-anchor="middle" transform="translate(234.80,583.80) scale(0.9,1)">6</text>
<text x="0" y="0" font-size="6.6" fill="#111" stroke="#111" text-anchor="middle" transform="translate(251.80,583.80) scale(0.9,1)">10</text>
<text x="0" y="0" font-size="6.6" fill="#111" stroke="#111" text-anchor="middle" transform="translate(268.80,583.80) scale(0.9,1)">14</text>
<text x="0" y="0" font-size="6.6" fill="#111" stroke="#111" text-anchor="middle" transform="translate(285.80,583.80) scale(0.9,1)">18</text>
<path d="M226.30,537.25 L243.30,543.77 L260.30,549.35" stroke="#c8403f" stroke-width="0.9" fill="none"/>
<line x1="243.30" y1="544.63" x2="243.30" y2="542.91" stroke="#c8403f" stroke-width="0.7"/>
<line x1="242.10" y1="542.91" x2="244.50" y2="542.91" stroke="#c8403f" stroke-width="0.7"/>
<line x1="242.10" y1="544.63" x2="244.50" y2="544.63" stroke="#c8403f" stroke-width="0.7"/>
<rect x="225.20" y="536.15" width="2.20" height="2.20" fill="#8a2626"/>
<rect x="242.20" y="542.67" width="2.20" height="2.20" fill="#8a2626"/>
<rect x="259.20" y="548.25" width="2.20" height="2.20" fill="#8a2626"/>
<path d="M226.30,535.19 L243.30,537.25 L260.30,542.40" stroke="#c98a5a" stroke-width="0.9" fill="none"/>
<rect x="225.20" y="534.09" width="2.20" height="2.20" fill="#9a6a3a"/>
<rect x="242.20" y="536.15" width="2.20" height="2.20" fill="#9a6a3a"/>
<rect x="259.20" y="541.30" width="2.20" height="2.20" fill="#9a6a3a"/>
<path d="M226.30,532.78 L243.30,533.21 L260.30,534.07" stroke="#8b8a5c" stroke-width="0.9" fill="none"/>
<rect x="225.20" y="531.68" width="2.20" height="2.20" fill="#6f6c3c"/>
<rect x="242.20" y="532.11" width="2.20" height="2.20" fill="#6f6c3c"/>
<rect x="259.20" y="532.97" width="2.20" height="2.20" fill="#6f6c3c"/>
<path d="M226.30,531.50 L243.30,532.35 L260.30,533.81" stroke="#5f9d55" stroke-width="0.9" fill="none"/>
<rect x="225.20" y="530.40" width="2.20" height="2.20" fill="#3f7a3a"/>
<rect x="242.20" y="531.25" width="2.20" height="2.20" fill="#3f7a3a"/>
<rect x="259.20" y="532.71" width="2.20" height="2.20" fill="#3f7a3a"/>
<path d="M226.30,531.07 L243.30,531.93 L260.30,533.21" stroke="#111" stroke-width="0.9" fill="none"/>
<rect x="225.20" y="529.97" width="2.20" height="2.20" fill="#111"/>
<rect x="242.20" y="530.83" width="2.20" height="2.20" fill="#111"/>
<rect x="259.20" y="532.11" width="2.20" height="2.20" fill="#111"/>
<line x1="315.60" y1="531.90" x2="333.50" y2="531.90" stroke="#c04a50" stroke-width="1.1"/>
<circle cx="315.60" cy="531.90" r="1.7" fill="#7a2020"/>
<circle cx="333.50" cy="531.90" r="1.7" fill="#7a2020"/>
<text x="340" y="534.4" font-size="6.8" fill="#b83a42" stroke="#b83a42">SclCre;FF1;Jak2<tspan baseline-shift="2.8" font-size="5.0">fl/fl</tspan></text>
<line x1="315.60" y1="542.00" x2="333.50" y2="542.00" stroke="#c9845a" stroke-width="1.1"/>
<circle cx="315.60" cy="542.00" r="1.7" fill="#8a4a30"/>
<circle cx="333.50" cy="542.00" r="1.7" fill="#8a4a30"/>
<text x="340" y="544.5" font-size="6.8" fill="#b87c44" stroke="#b87c44">SclCre;FF1;Jak2<tspan baseline-shift="2.8" font-size="5.0">fl/+</tspan></text>
<line x1="315.60" y1="552.10" x2="333.50" y2="552.10" stroke="#5f9a58" stroke-width="1.1"/>
<circle cx="315.60" cy="552.10" r="1.7" fill="#3a6a34"/>
<circle cx="333.50" cy="552.10" r="1.7" fill="#3a6a34"/>
<text x="340" y="554.6" font-size="6.8" fill="#6a9a68" stroke="#6a9a68">SclCre;FF1;Jak2<tspan baseline-shift="2.8" font-size="5.0">+/+</tspan></text>
<line x1="315.60" y1="562.20" x2="333.50" y2="562.20" stroke="#8a8a60" stroke-width="1.1"/>
<circle cx="315.60" cy="562.20" r="1.7" fill="#5a5a38"/>
<circle cx="333.50" cy="562.20" r="1.7" fill="#5a5a38"/>
<text x="340" y="564.6999999999999" font-size="6.8" fill="#111" stroke="#111">SclCre;Jak2<tspan baseline-shift="2.8" font-size="5.0">fl/+</tspan></text>
<line x1="315.60" y1="572.30" x2="333.50" y2="572.30" stroke="#111" stroke-width="1.1"/>
<circle cx="315.60" cy="572.30" r="1.7" fill="#111"/>
<circle cx="333.50" cy="572.30" r="1.7" fill="#111"/>
<text x="340" y="574.8" font-size="6.8" fill="#111" stroke="#111">C57BL/6 controls</text>
<text x="411.2" y="423.4" font-size="10.5" fill="#111" stroke="#111" font-weight="bold" style="stroke-width:0.4px">J</text>
<text x="423.1" y="422.0" font-size="7" fill="#111" stroke="#111">Ratio of human/mouse</text>
<text x="423.1" y="430.3" font-size="7" fill="#111" stroke="#111">Jak2 mRNA expression</text>
<line x1="425.80" y1="442.00" x2="425.80" y2="513.40" stroke="#111" stroke-width="0.8"/>
<line x1="423.80" y1="513.40" x2="425.80" y2="513.40" stroke="#111" stroke-width="0.8"/>
<text x="0" y="0" font-size="6.5" fill="#111" stroke="#111" text-anchor="end" transform="translate(423.40,515.70) scale(0.9,1)">0</text>
<line x1="423.80" y1="489.70" x2="425.80" y2="489.70" stroke="#111" stroke-width="0.8"/>
<text x="0" y="0" font-size="6.5" fill="#111" stroke="#111" text-anchor="end" transform="translate(423.40,492.00) scale(0.9,1)">1</text>
<line x1="423.80" y1="466.00" x2="425.80" y2="466.00" stroke="#111" stroke-width="0.8"/>
<text x="0" y="0" font-size="6.5" fill="#111" stroke="#111" text-anchor="end" transform="translate(423.40,468.30) scale(0.9,1)">2</text>
<line x1="423.80" y1="442.30" x2="425.80" y2="442.30" stroke="#111" stroke-width="0.8"/>
<text x="0" y="0" font-size="6.5" fill="#111" stroke="#111" text-anchor="end" transform="translate(423.40,444.60) scale(0.9,1)">3</text>
<line x1="425.80" y1="513.40" x2="513.10" y2="513.40" stroke="#111" stroke-width="0.8"/>
<line x1="488.90" y1="442.00" x2="488.90" y2="513.40" stroke="#111" stroke-width="0.8"/>
<line x1="486.90" y1="489.70" x2="488.90" y2="489.70" stroke="#111" stroke-width="0.8"/>
<text x="0" y="0" font-size="6.5" fill="#111" stroke="#111" text-anchor="end" transform="translate(486.50,492.00) scale(0.9,1)">10</text>
<line x1="486.90" y1="466.00" x2="488.90" y2="466.00" stroke="#111" stroke-width="0.8"/>
<text x="0" y="0" font-size="6.5" fill="#111" stroke="#111" text-anchor="end" transform="translate(486.50,468.30) scale(0.9,1)">20</text>
<line x1="486.90" y1="442.30" x2="488.90" y2="442.30" stroke="#111" stroke-width="0.8"/>
<circle cx="435.10" cy="470.27" r="1.5" fill="#111"/>
<circle cx="440.40" cy="470.27" r="1.5" fill="#111"/>
<circle cx="439.70" cy="478.32" r="1.5" fill="#111"/>
<circle cx="434.60" cy="488.51" r="1.5" fill="#111"/>
<circle cx="439.70" cy="490.17" r="1.5" fill="#111"/>
<circle cx="444.30" cy="488.75" r="1.5" fill="#111"/>
<circle cx="439.70" cy="497.76" r="1.5" fill="#111"/>
<circle cx="444.30" cy="497.76" r="1.5" fill="#111"/>
<line x1="430.00" y1="484.96" x2="449.60" y2="484.96" stroke="#111" stroke-width="1.1"/>
<circle cx="461.20" cy="455.33" r="1.5" fill="#111"/>
<circle cx="461.20" cy="461.26" r="1.5" fill="#111"/>
<circle cx="461.20" cy="479.51" r="1.5" fill="#111"/>
<line x1="451.90" y1="466.00" x2="470.40" y2="466.00" stroke="#111" stroke-width="1.1"/>
<circle cx="502.00" cy="445.62" r="1.5" fill="#111"/>
<circle cx="502.00" cy="471.69" r="1.5" fill="#111"/>
<circle cx="502.00" cy="483.30" r="1.5" fill="#111"/>
<circle cx="497.40" cy="489.70" r="1.5" fill="#111"/>
<circle cx="502.00" cy="493.49" r="1.5" fill="#111"/>
<circle cx="502.00" cy="499.18" r="1.5" fill="#111"/>
<line x1="492.30" y1="481.88" x2="510.80" y2="481.88" stroke="#111" stroke-width="1.1"/>
<text x="427.2" y="522.6" font-size="7" fill="#6a9a52" stroke="#6a9a52">Jak2<tspan baseline-shift="2.8" font-size="5.0">+/+</tspan></text>
<text x="451.9" y="522.6" font-size="7" fill="#c0884a" stroke="#c0884a">Jak2<tspan baseline-shift="2.8" font-size="5.0">fl/+</tspan></text>
<text x="491.2" y="522.6" font-size="7" fill="#c03844" stroke="#c03844">Jak2<tspan baseline-shift="2.8" font-size="5.0">fl/fl</tspan></text>
<line x1="427.20" y1="527.70" x2="513.50" y2="527.70" stroke="#222" stroke-width="0.9"/>
<text x="471.5" y="536.9" font-size="7" fill="#111" stroke="#111" text-anchor="middle">SclCre;FF1</text>
</svg></body></html>
